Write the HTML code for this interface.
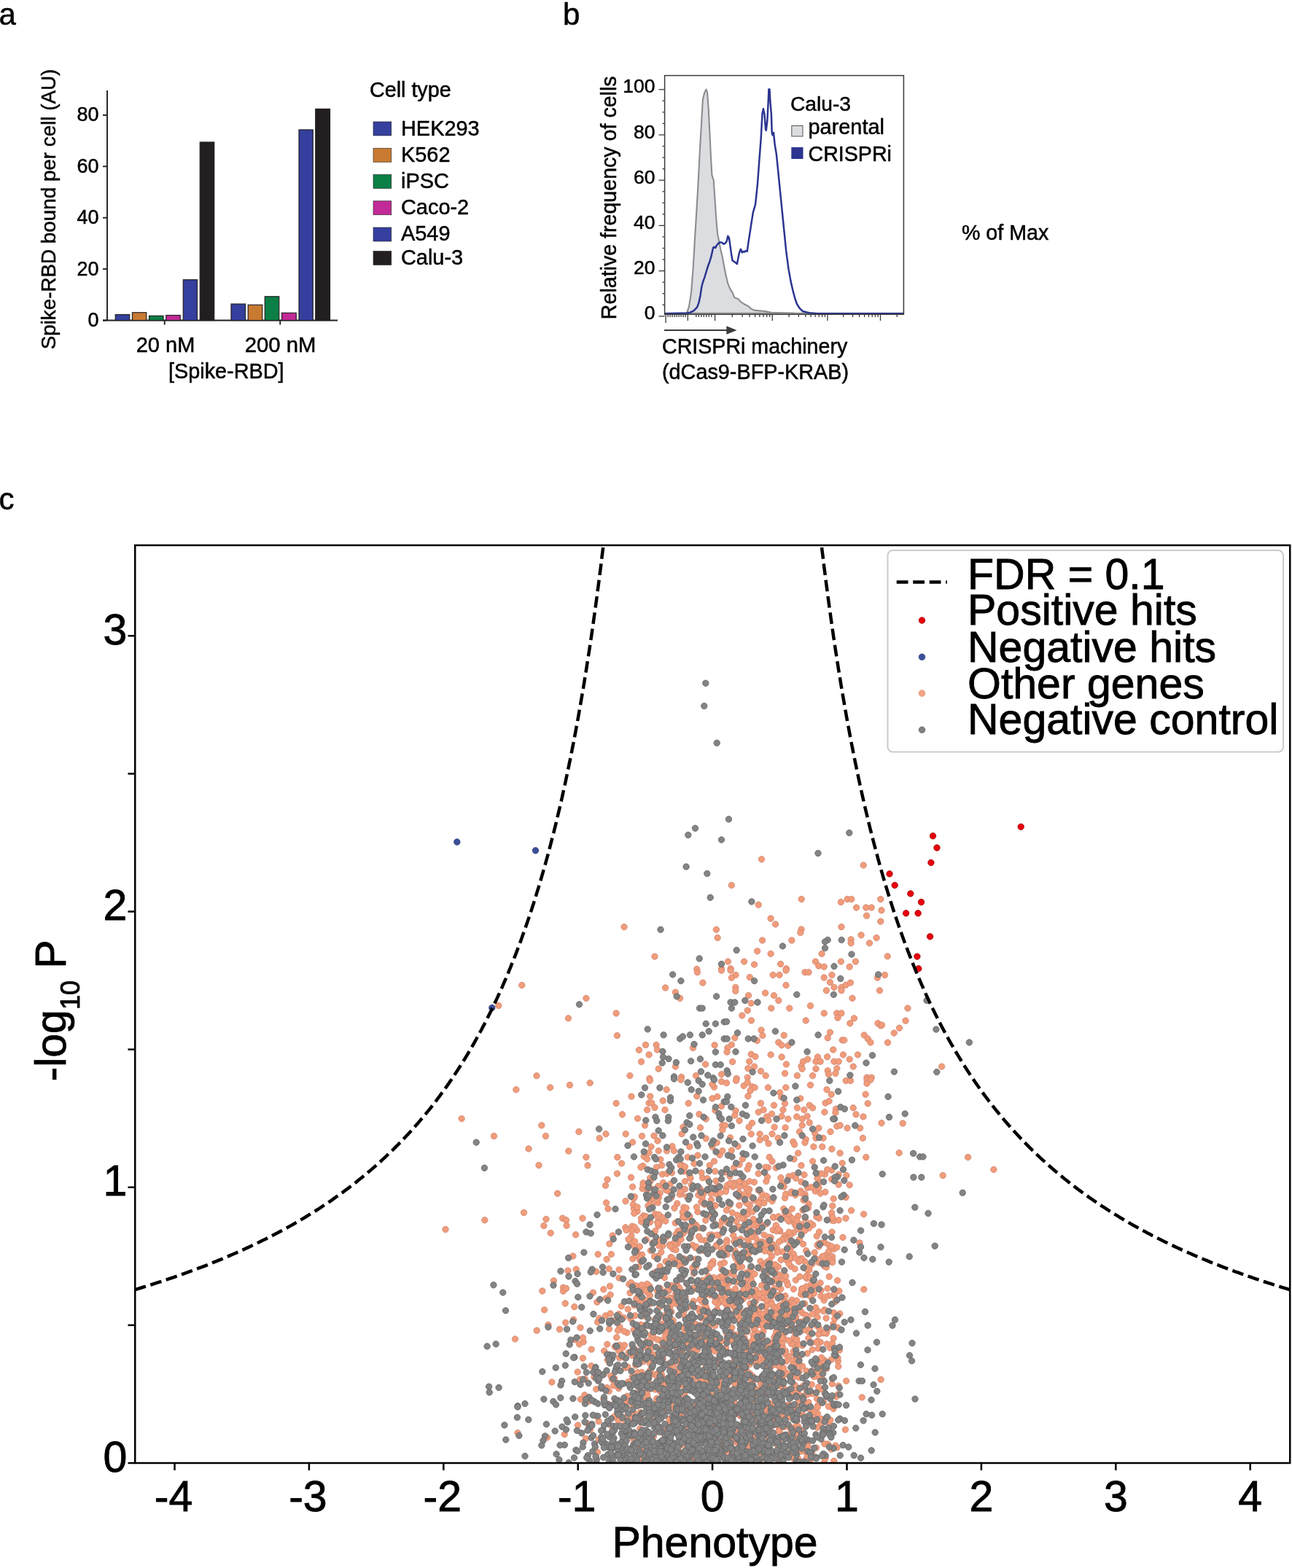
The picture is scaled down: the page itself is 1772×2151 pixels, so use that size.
<!DOCTYPE html>
<html><head><meta charset="utf-8"><style>
html,body{margin:0;padding:0;background:#fff;}
svg{display:block;}
text{font-family:"Liberation Sans",Arial,sans-serif;fill:#000;stroke:#000;stroke-width:0.5px;}
.big{stroke-width:0.9px;}
</style></head><body>
<svg width="1772" height="2151" viewBox="0 0 1772 2151">
<defs><clipPath id="plotclip"><rect x="185.25" y="748.0" width="1584.0" height="1259.0"/></clipPath></defs>
<text x="-1.50" y="34.30" font-size="42" text-anchor="start" >a</text>
<text x="772.00" y="33.60" font-size="42" text-anchor="start" >b</text>
<text x="-1.50" y="698.50" font-size="42" text-anchor="start" >c</text>
<g stroke="#231f20" stroke-width="1.9" fill="none">
<path d="M147,124 V440.3 M141,439.5 H463"/>
<path d="M141,439.50 H147"/>
<path d="M141,369.10 H147"/>
<path d="M141,298.70 H147"/>
<path d="M141,228.30 H147"/>
<path d="M141,157.90 H147"/>
<path d="M225.75,439.5 V445.5"/>
<path d="M384.25,439.5 V445.5"/>
</g>
<text x="135.50" y="447.90" font-size="27" text-anchor="end" >0</text>
<text x="135.50" y="377.50" font-size="27" text-anchor="end" >20</text>
<text x="135.50" y="307.10" font-size="27" text-anchor="end" >40</text>
<text x="135.50" y="236.70" font-size="27" text-anchor="end" >60</text>
<text x="135.50" y="166.30" font-size="27" text-anchor="end" >80</text>
<rect x="158.25" y="431.5" width="19.50" height="8.00" fill="#343f9e" stroke="#231f20" stroke-width="1.2"/>
<rect x="181.5" y="428.75" width="19.25" height="10.75" fill="#c97a31" stroke="#231f20" stroke-width="1.2"/>
<rect x="204.5" y="433.25" width="19.50" height="6.25" fill="#0b7f45" stroke="#231f20" stroke-width="1.2"/>
<rect x="227.75" y="432.5" width="19.50" height="7.00" fill="#c12a97" stroke="#231f20" stroke-width="1.2"/>
<rect x="251.25" y="383.75" width="19.25" height="55.75" fill="#343f9e" stroke="#231f20" stroke-width="1.2"/>
<rect x="274.25" y="195.0" width="19.50" height="244.50" fill="#231f20" stroke="#231f20" stroke-width="1.2"/>
<rect x="317.0" y="417.0" width="19.50" height="22.50" fill="#343f9e" stroke="#231f20" stroke-width="1.2"/>
<rect x="340.25" y="418.25" width="19.50" height="21.25" fill="#c97a31" stroke="#231f20" stroke-width="1.2"/>
<rect x="363.25" y="406.75" width="19.50" height="32.75" fill="#0b7f45" stroke="#231f20" stroke-width="1.2"/>
<rect x="386.5" y="429.25" width="19.75" height="10.25" fill="#c12a97" stroke="#231f20" stroke-width="1.2"/>
<rect x="410.0" y="178.0" width="19.25" height="261.50" fill="#343f9e" stroke="#231f20" stroke-width="1.2"/>
<rect x="432.75" y="149.5" width="19.75" height="290.00" fill="#231f20" stroke="#231f20" stroke-width="1.2"/>
<text x="227.00" y="482.50" font-size="29" text-anchor="middle" >20 nM</text>
<text x="384.50" y="482.50" font-size="29.3" text-anchor="middle" >200 nM</text>
<text x="310.30" y="518.50" font-size="28.8" text-anchor="middle" >[Spike-RBD]</text>
<text transform="translate(76,287) rotate(-90)" font-size="27.8" text-anchor="middle">Spike-RBD bound per cell (AU)</text>
<text x="507.00" y="133.00" font-size="28.7" text-anchor="start" >Cell type</text>
<rect x="512" y="167" width="24.75" height="19" fill="#343f9e" stroke="#231f20" stroke-width="0.6"/>
<text x="550.00" y="185.50" font-size="28.9" text-anchor="start" >HEK293</text>
<rect x="512" y="203.25" width="24.75" height="19" fill="#c97a31" stroke="#231f20" stroke-width="0.6"/>
<text x="550.00" y="221.50" font-size="28.9" text-anchor="start" >K562</text>
<rect x="512" y="239.5" width="24.75" height="19" fill="#0b7f45" stroke="#231f20" stroke-width="0.6"/>
<text x="550.00" y="257.70" font-size="28.9" text-anchor="start" >iPSC</text>
<rect x="512" y="275.75" width="24.75" height="19" fill="#c12a97" stroke="#231f20" stroke-width="0.6"/>
<text x="550.00" y="294.00" font-size="28.9" text-anchor="start" >Caco-2</text>
<rect x="512" y="312" width="24.75" height="19" fill="#343f9e" stroke="#231f20" stroke-width="0.6"/>
<text x="550.00" y="330.20" font-size="28.9" text-anchor="start" >A549</text>
<rect x="512" y="344.5" width="24.75" height="19" fill="#231f20" stroke="#231f20" stroke-width="0.6"/>
<text x="550.00" y="362.70" font-size="28.9" text-anchor="start" >Calu-3</text>
<polygon points="912.0,429.8 941.9,429.5 945.1,420.1 948.2,399.7 950.6,368.4 952.9,329.3 955.3,290.1 957.6,251.0 960.0,204.0 962.3,164.8 963.9,136.6 966.2,127.2 968.6,122.5 970.1,127.2 971.7,149.2 973.3,180.5 974.8,211.8 976.4,240.0 978.8,247.8 979.5,258.8 981.1,282.3 982.7,305.8 984.2,321.4 985.8,329.3 988.2,341.8 990.5,351.2 992.9,363.7 995.2,376.2 998.3,388.8 1001.5,396.6 1004.6,401.3 1007.0,407.6 1009.3,409.1 1012.4,409.9 1015.6,413.8 1020.3,417.0 1026.5,420.1 1029.7,423.2 1034.4,425.6 1042.2,426.4 1050.1,427.1 1057.9,428.7 1090.0,429.5 1239.0,429.8" fill="#dcdde1" stroke="#8c8d90" stroke-width="2.1" stroke-linejoin="round"/>
<polyline points="912.0,430.2 941.9,429.5 946.6,428.7 951.3,426.4 956.0,421.7 958.4,415.4 960.7,404.4 962.3,393.5 963.9,387.2 966.2,380.9 968.6,373.1 970.9,365.3 973.3,359.0 975.6,351.2 978.0,340.2 979.5,338.7 981.1,340.2 982.7,337.1 985.0,334.0 987.4,332.4 989.7,332.4 992.1,334.7 994.4,334.0 996.8,330.8 998.3,323.8 999.9,326.1 1001.5,337.1 1003.0,348.1 1004.6,357.5 1007.0,359.0 1009.3,360.6 1010.9,362.2 1012.4,354.3 1014.0,346.5 1015.9,341.8 1017.9,346.5 1019.5,344.9 1021.1,345.7 1022.6,344.1 1024.7,344.9 1026.5,332.4 1028.9,316.7 1031.3,301.1 1032.8,291.7 1036.0,280.7 1037.5,266.6 1039.1,251.0 1041.4,219.6 1043.8,188.3 1045.4,157.0 1046.9,149.2 1048.5,157.0 1050.1,177.3 1050.8,178.9 1052.4,164.8 1054.0,133.5 1054.4,122.5 1055.5,122.5 1056.3,138.2 1057.9,157.0 1058.7,182.0 1059.5,185.2 1061.0,182.0 1062.6,197.7 1064.9,211.8 1067.3,235.3 1069.6,258.8 1072.0,282.3 1075.1,313.6 1078.3,344.9 1081.4,368.4 1084.5,385.6 1087.7,399.7 1090.5,410.0 1093.0,417.0 1096.7,422.8 1101.0,427.0 1109.9,429.3 1120.8,430.2 1239.0,430.2" fill="none" stroke="#2b3590" stroke-width="2.5" stroke-linejoin="round"/>
<rect x="911.6" y="103.6" width="327.8" height="327.6" fill="none" stroke="#3a3a3a" stroke-width="1.5"/>
<g stroke="#3a3a3a" stroke-width="1.3">
<path d="M903.5,433.80 H911.6"/>
<path d="M908.5,418.25 H911.6"/>
<path d="M908.5,402.70 H911.6"/>
<path d="M908.5,387.15 H911.6"/>
<path d="M903.5,371.60 H911.6"/>
<path d="M908.5,356.05 H911.6"/>
<path d="M908.5,340.50 H911.6"/>
<path d="M908.5,324.95 H911.6"/>
<path d="M903.5,309.40 H911.6"/>
<path d="M908.5,293.85 H911.6"/>
<path d="M908.5,278.30 H911.6"/>
<path d="M908.5,262.75 H911.6"/>
<path d="M903.5,247.20 H911.6"/>
<path d="M908.5,231.65 H911.6"/>
<path d="M908.5,216.10 H911.6"/>
<path d="M908.5,200.55 H911.6"/>
<path d="M903.5,185.00 H911.6"/>
<path d="M908.5,169.45 H911.6"/>
<path d="M908.5,153.90 H911.6"/>
<path d="M908.5,138.35 H911.6"/>
<path d="M903.5,122.80 H911.6"/>
<path d="M913.10,431 V443"/>
<path d="M916.10,431 V435"/>
<path d="M919.10,431 V435"/>
<path d="M922.10,431 V435"/>
<path d="M925.10,431 V435"/>
<path d="M928.10,431 V435"/>
<path d="M931.10,431 V435"/>
<path d="M934.10,431 V435"/>
<path d="M937.10,431 V435"/>
<path d="M940.10,431 V435"/>
<path d="M943.30,431 V440"/>
<path d="M954.80,431 V435"/>
<path d="M958.30,431 V435"/>
<path d="M961.80,431 V435"/>
<path d="M965.30,431 V435"/>
<path d="M968.80,431 V435"/>
<path d="M972.30,431 V435"/>
<path d="M975.80,431 V435"/>
<path d="M980.60,431 V440"/>
<path d="M1059.30,431 V440"/>
<path d="M1134.90,431 V440"/>
<path d="M1207.50,431 V440"/>
<path d="M1004.29,431 V435"/>
<path d="M1018.15,431 V435"/>
<path d="M1027.98,431 V435"/>
<path d="M1035.61,431 V435"/>
<path d="M1041.84,431 V435"/>
<path d="M1047.11,431 V435"/>
<path d="M1051.67,431 V435"/>
<path d="M1055.70,431 V435"/>
<path d="M1082.06,431 V435"/>
<path d="M1095.37,431 V435"/>
<path d="M1104.82,431 V435"/>
<path d="M1112.14,431 V435"/>
<path d="M1118.13,431 V435"/>
<path d="M1123.19,431 V435"/>
<path d="M1127.57,431 V435"/>
<path d="M1131.44,431 V435"/>
<path d="M1156.75,431 V435"/>
<path d="M1169.54,431 V435"/>
<path d="M1178.61,431 V435"/>
<path d="M1185.65,431 V435"/>
<path d="M1191.39,431 V435"/>
<path d="M1196.25,431 V435"/>
<path d="M1200.46,431 V435"/>
<path d="M1204.18,431 V435"/>
<path d="M1230.23,431 V435"/>
</g>
<text x="898.50" y="438.30" font-size="26.5" text-anchor="end" >0</text>
<text x="898.50" y="376.10" font-size="26.5" text-anchor="end" >20</text>
<text x="898.50" y="313.90" font-size="26.5" text-anchor="end" >40</text>
<text x="898.50" y="251.70" font-size="26.5" text-anchor="end" >60</text>
<text x="898.50" y="189.50" font-size="26.5" text-anchor="end" >80</text>
<text x="898.50" y="127.30" font-size="26.5" text-anchor="end" >100</text>
<text transform="translate(845,271.3) rotate(-90)" font-size="28.6" text-anchor="middle">Relative frequency of cells</text>
<path d="M911,453 H998" stroke="#3a3a3a" stroke-width="2.2"/>
<polygon points="996.4,447.2 1010.5,453 996.4,458.8" fill="#3a3a3a"/>
<text x="908.00" y="484.80" font-size="28.6" text-anchor="start" >CRISPRi machinery</text>
<text x="908.00" y="519.60" font-size="28.8" text-anchor="start" >(dCas9-BFP-KRAB)</text>
<text x="1084.00" y="152.00" font-size="28.2" text-anchor="start" >Calu-3</text>
<rect x="1085.8" y="172.5" width="15.2" height="14.5" fill="#dcdde1" stroke="#555" stroke-width="1"/>
<rect x="1085.3" y="202" width="16.2" height="16" fill="#2b3590"/>
<text x="1108.50" y="183.80" font-size="28.9" text-anchor="start" >parental</text>
<text x="1108.50" y="221.30" font-size="28.6" text-anchor="start" >CRISPRi</text>
<text x="1319.00" y="329.30" font-size="28.6" text-anchor="start" >% of Max</text>
<g clip-path="url(#plotclip)">
<g fill="#f29c7a" stroke="#d08672" stroke-width="0.85">
<circle cx="795.9" cy="1821.3" r="4.2"/><circle cx="937.9" cy="1656.3" r="4.2"/><circle cx="934.5" cy="1941.7" r="4.2"/><circle cx="890.6" cy="1937.7" r="4.2"/><circle cx="993.8" cy="1870.9" r="4.2"/><circle cx="981.0" cy="1653.7" r="4.2"/><circle cx="892.7" cy="1850.8" r="4.2"/><circle cx="1104.8" cy="1905.0" r="4.2"/><circle cx="1060.2" cy="1687.3" r="4.2"/><circle cx="990.6" cy="1960.1" r="4.2"/><circle cx="1036.8" cy="1854.1" r="4.2"/><circle cx="953.2" cy="1880.4" r="4.2"/><circle cx="1084.7" cy="1737.3" r="4.2"/><circle cx="1026.8" cy="1638.5" r="4.2"/><circle cx="796.3" cy="1919.6" r="4.2"/><circle cx="879.2" cy="1786.6" r="4.2"/><circle cx="1108.2" cy="1991.1" r="4.2"/><circle cx="1035.0" cy="1824.3" r="4.2"/><circle cx="1068.8" cy="1959.7" r="4.2"/><circle cx="922.3" cy="1780.4" r="4.2"/><circle cx="1013.8" cy="1653.5" r="4.2"/><circle cx="902.5" cy="1649.8" r="4.2"/><circle cx="1006.1" cy="1686.0" r="4.2"/><circle cx="905.3" cy="1767.3" r="4.2"/><circle cx="1094.9" cy="2004.4" r="4.2"/><circle cx="956.9" cy="1662.4" r="4.2"/><circle cx="1133.5" cy="1829.2" r="4.2"/><circle cx="872.7" cy="1768.2" r="4.2"/><circle cx="1065.8" cy="1830.8" r="4.2"/><circle cx="1083.3" cy="1908.9" r="4.2"/><circle cx="969.7" cy="1764.0" r="4.2"/><circle cx="1135.0" cy="1767.5" r="4.2"/><circle cx="1091.7" cy="1810.8" r="4.2"/><circle cx="1048.0" cy="1694.1" r="4.2"/><circle cx="1022.4" cy="1762.1" r="4.2"/><circle cx="1086.3" cy="1709.6" r="4.2"/><circle cx="872.0" cy="1788.0" r="4.2"/><circle cx="1118.0" cy="1763.4" r="4.2"/><circle cx="994.5" cy="1970.9" r="4.2"/><circle cx="1120.9" cy="1819.1" r="4.2"/><circle cx="1076.1" cy="1695.0" r="4.2"/><circle cx="1048.1" cy="1839.8" r="4.2"/><circle cx="969.9" cy="1839.4" r="4.2"/><circle cx="986.3" cy="1916.5" r="4.2"/><circle cx="941.5" cy="1860.9" r="4.2"/><circle cx="967.6" cy="1891.2" r="4.2"/><circle cx="1091.5" cy="1681.7" r="4.2"/><circle cx="941.1" cy="1657.3" r="4.2"/><circle cx="1088.7" cy="1690.9" r="4.2"/><circle cx="968.9" cy="1757.8" r="4.2"/><circle cx="894.4" cy="1902.3" r="4.2"/><circle cx="983.4" cy="1796.1" r="4.2"/><circle cx="899.3" cy="1865.2" r="4.2"/><circle cx="1141.3" cy="1669.5" r="4.2"/><circle cx="1083.6" cy="1727.5" r="4.2"/><circle cx="1034.1" cy="1790.3" r="4.2"/><circle cx="805.7" cy="1952.8" r="4.2"/><circle cx="1100.1" cy="1801.1" r="4.2"/><circle cx="983.1" cy="1979.4" r="4.2"/><circle cx="883.6" cy="1818.5" r="4.2"/><circle cx="905.2" cy="1636.8" r="4.2"/><circle cx="961.1" cy="1944.6" r="4.2"/><circle cx="1014.4" cy="1782.6" r="4.2"/><circle cx="1092.0" cy="1958.2" r="4.2"/><circle cx="880.6" cy="1721.3" r="4.2"/><circle cx="947.7" cy="1689.4" r="4.2"/><circle cx="891.0" cy="1764.4" r="4.2"/><circle cx="918.3" cy="1808.9" r="4.2"/><circle cx="850.0" cy="1820.3" r="4.2"/><circle cx="974.0" cy="1913.0" r="4.2"/><circle cx="1044.6" cy="1961.4" r="4.2"/><circle cx="897.3" cy="2001.2" r="4.2"/><circle cx="1047.7" cy="1872.5" r="4.2"/><circle cx="1089.7" cy="1966.3" r="4.2"/><circle cx="1051.4" cy="1936.2" r="4.2"/><circle cx="972.0" cy="1820.1" r="4.2"/><circle cx="1078.2" cy="1941.6" r="4.2"/><circle cx="1011.3" cy="1866.1" r="4.2"/><circle cx="1056.8" cy="1819.6" r="4.2"/><circle cx="869.3" cy="1658.1" r="4.2"/><circle cx="1142.8" cy="1816.2" r="4.2"/><circle cx="955.1" cy="1887.8" r="4.2"/><circle cx="1007.2" cy="1872.3" r="4.2"/><circle cx="1054.9" cy="1744.8" r="4.2"/><circle cx="1029.4" cy="1739.7" r="4.2"/><circle cx="949.6" cy="1805.8" r="4.2"/><circle cx="1083.9" cy="1995.0" r="4.2"/><circle cx="853.6" cy="1849.2" r="4.2"/><circle cx="972.1" cy="1989.2" r="4.2"/><circle cx="957.8" cy="1639.4" r="4.2"/><circle cx="959.9" cy="1799.9" r="4.2"/><circle cx="893.5" cy="1946.8" r="4.2"/><circle cx="1057.8" cy="1946.3" r="4.2"/><circle cx="883.6" cy="1770.3" r="4.2"/><circle cx="1151.5" cy="1852.1" r="4.2"/><circle cx="935.8" cy="1733.7" r="4.2"/><circle cx="1127.7" cy="1724.0" r="4.2"/><circle cx="967.1" cy="1701.6" r="4.2"/><circle cx="981.6" cy="1901.3" r="4.2"/><circle cx="1050.8" cy="1800.0" r="4.2"/><circle cx="1017.6" cy="1737.9" r="4.2"/><circle cx="887.7" cy="1840.1" r="4.2"/><circle cx="944.1" cy="1682.6" r="4.2"/><circle cx="1057.4" cy="1785.6" r="4.2"/><circle cx="972.1" cy="1772.1" r="4.2"/><circle cx="1012.0" cy="1955.3" r="4.2"/><circle cx="876.4" cy="1723.7" r="4.2"/><circle cx="1104.0" cy="1638.2" r="4.2"/><circle cx="1042.2" cy="1967.7" r="4.2"/><circle cx="996.0" cy="1630.1" r="4.2"/><circle cx="1141.5" cy="1723.7" r="4.2"/><circle cx="1063.1" cy="1802.4" r="4.2"/><circle cx="1121.7" cy="1873.4" r="4.2"/><circle cx="1014.5" cy="1893.4" r="4.2"/><circle cx="948.1" cy="1991.5" r="4.2"/><circle cx="1108.1" cy="1809.2" r="4.2"/><circle cx="1028.9" cy="1788.3" r="4.2"/><circle cx="1026.3" cy="1978.8" r="4.2"/><circle cx="933.0" cy="1887.3" r="4.2"/><circle cx="1075.3" cy="1908.7" r="4.2"/><circle cx="851.6" cy="1995.6" r="4.2"/><circle cx="1084.0" cy="1717.0" r="4.2"/><circle cx="961.4" cy="1700.6" r="4.2"/><circle cx="854.5" cy="1997.2" r="4.2"/><circle cx="917.1" cy="1771.0" r="4.2"/><circle cx="914.9" cy="1976.7" r="4.2"/><circle cx="911.7" cy="1968.2" r="4.2"/><circle cx="929.3" cy="1936.1" r="4.2"/><circle cx="1056.5" cy="1968.8" r="4.2"/><circle cx="873.1" cy="1900.2" r="4.2"/><circle cx="920.1" cy="1724.6" r="4.2"/><circle cx="960.5" cy="1979.9" r="4.2"/><circle cx="1077.4" cy="1908.4" r="4.2"/><circle cx="1066.1" cy="1858.9" r="4.2"/><circle cx="1058.6" cy="1723.2" r="4.2"/><circle cx="874.1" cy="1661.7" r="4.2"/><circle cx="962.4" cy="1897.6" r="4.2"/><circle cx="1028.8" cy="1912.0" r="4.2"/><circle cx="885.0" cy="1843.7" r="4.2"/><circle cx="1053.0" cy="1705.1" r="4.2"/><circle cx="992.6" cy="1753.0" r="4.2"/><circle cx="1149.1" cy="1821.3" r="4.2"/><circle cx="1091.7" cy="1974.7" r="4.2"/><circle cx="885.0" cy="1674.9" r="4.2"/><circle cx="914.7" cy="1956.5" r="4.2"/><circle cx="897.7" cy="1885.7" r="4.2"/><circle cx="981.2" cy="1653.9" r="4.2"/><circle cx="923.4" cy="1837.4" r="4.2"/><circle cx="1036.9" cy="1784.5" r="4.2"/><circle cx="890.3" cy="1989.4" r="4.2"/><circle cx="988.1" cy="1764.7" r="4.2"/><circle cx="1100.7" cy="2005.7" r="4.2"/><circle cx="848.5" cy="1904.5" r="4.2"/><circle cx="948.2" cy="1691.3" r="4.2"/><circle cx="982.5" cy="1871.5" r="4.2"/><circle cx="964.7" cy="1685.0" r="4.2"/><circle cx="971.0" cy="1978.9" r="4.2"/><circle cx="834.6" cy="1926.3" r="4.2"/><circle cx="925.1" cy="1825.2" r="4.2"/><circle cx="1048.0" cy="1968.3" r="4.2"/><circle cx="986.6" cy="1915.6" r="4.2"/><circle cx="981.9" cy="1866.4" r="4.2"/><circle cx="932.8" cy="1849.6" r="4.2"/><circle cx="1023.0" cy="1798.4" r="4.2"/><circle cx="947.2" cy="1697.7" r="4.2"/><circle cx="936.8" cy="1664.6" r="4.2"/><circle cx="916.8" cy="1988.5" r="4.2"/><circle cx="877.9" cy="1937.5" r="4.2"/><circle cx="963.8" cy="1976.8" r="4.2"/><circle cx="873.4" cy="1820.8" r="4.2"/><circle cx="910.0" cy="1959.1" r="4.2"/><circle cx="993.3" cy="1962.7" r="4.2"/><circle cx="1149.3" cy="1867.4" r="4.2"/><circle cx="1015.6" cy="2001.0" r="4.2"/><circle cx="1024.9" cy="1747.9" r="4.2"/><circle cx="1006.9" cy="1793.0" r="4.2"/><circle cx="1112.5" cy="1679.8" r="4.2"/><circle cx="1020.9" cy="1638.4" r="4.2"/><circle cx="908.2" cy="1670.1" r="4.2"/><circle cx="1015.2" cy="1958.5" r="4.2"/><circle cx="925.9" cy="1729.6" r="4.2"/><circle cx="1017.8" cy="1842.0" r="4.2"/><circle cx="1003.9" cy="1821.1" r="4.2"/><circle cx="1081.5" cy="1695.8" r="4.2"/><circle cx="1070.0" cy="1899.7" r="4.2"/><circle cx="1093.2" cy="1910.9" r="4.2"/><circle cx="1054.4" cy="1800.6" r="4.2"/><circle cx="1057.4" cy="1892.1" r="4.2"/><circle cx="1043.0" cy="1730.3" r="4.2"/><circle cx="938.8" cy="1927.2" r="4.2"/><circle cx="856.0" cy="1961.8" r="4.2"/><circle cx="1131.1" cy="1911.3" r="4.2"/><circle cx="1106.7" cy="1753.9" r="4.2"/><circle cx="1025.5" cy="1999.1" r="4.2"/><circle cx="939.3" cy="1903.2" r="4.2"/><circle cx="803.4" cy="1973.4" r="4.2"/><circle cx="1125.1" cy="1760.0" r="4.2"/><circle cx="1035.8" cy="1869.0" r="4.2"/><circle cx="1119.6" cy="1986.0" r="4.2"/><circle cx="1013.7" cy="1941.0" r="4.2"/><circle cx="882.6" cy="1667.7" r="4.2"/><circle cx="1060.3" cy="1707.3" r="4.2"/><circle cx="934.2" cy="1637.9" r="4.2"/><circle cx="880.8" cy="1899.8" r="4.2"/><circle cx="895.3" cy="1993.4" r="4.2"/><circle cx="1095.8" cy="1863.1" r="4.2"/><circle cx="905.1" cy="1895.7" r="4.2"/><circle cx="855.9" cy="1955.1" r="4.2"/><circle cx="1083.9" cy="1694.2" r="4.2"/><circle cx="1075.2" cy="1699.6" r="4.2"/><circle cx="905.2" cy="1943.6" r="4.2"/><circle cx="1130.8" cy="1737.0" r="4.2"/><circle cx="1038.4" cy="1817.9" r="4.2"/><circle cx="1037.5" cy="1926.7" r="4.2"/><circle cx="908.4" cy="1781.3" r="4.2"/><circle cx="917.4" cy="1963.3" r="4.2"/><circle cx="948.2" cy="1830.4" r="4.2"/><circle cx="1058.6" cy="1873.7" r="4.2"/><circle cx="1024.3" cy="1909.7" r="4.2"/><circle cx="939.9" cy="1921.6" r="4.2"/><circle cx="863.9" cy="1702.2" r="4.2"/><circle cx="1039.8" cy="1948.1" r="4.2"/><circle cx="897.4" cy="1826.9" r="4.2"/><circle cx="920.8" cy="1642.8" r="4.2"/><circle cx="1073.0" cy="1891.4" r="4.2"/><circle cx="1013.0" cy="1804.7" r="4.2"/><circle cx="1057.2" cy="1788.8" r="4.2"/><circle cx="1047.0" cy="1961.8" r="4.2"/><circle cx="1038.6" cy="1951.4" r="4.2"/><circle cx="1016.5" cy="1801.1" r="4.2"/><circle cx="1011.5" cy="1666.9" r="4.2"/><circle cx="1069.7" cy="1898.9" r="4.2"/><circle cx="1009.0" cy="1784.3" r="4.2"/><circle cx="1068.2" cy="1776.5" r="4.2"/><circle cx="978.5" cy="1900.4" r="4.2"/><circle cx="1015.6" cy="1942.5" r="4.2"/><circle cx="929.1" cy="1987.4" r="4.2"/><circle cx="933.0" cy="1893.2" r="4.2"/><circle cx="1129.3" cy="1828.7" r="4.2"/><circle cx="1077.0" cy="1777.8" r="4.2"/><circle cx="1013.8" cy="1806.9" r="4.2"/><circle cx="1015.5" cy="1938.7" r="4.2"/><circle cx="950.9" cy="1741.0" r="4.2"/><circle cx="1095.6" cy="1730.8" r="4.2"/><circle cx="869.8" cy="1790.6" r="4.2"/><circle cx="936.0" cy="1870.3" r="4.2"/><circle cx="1013.3" cy="1635.6" r="4.2"/><circle cx="1133.8" cy="1877.3" r="4.2"/><circle cx="862.3" cy="1922.7" r="4.2"/><circle cx="1069.3" cy="1882.0" r="4.2"/><circle cx="1071.9" cy="1946.2" r="4.2"/><circle cx="1035.9" cy="1830.1" r="4.2"/><circle cx="939.8" cy="1962.8" r="4.2"/><circle cx="874.0" cy="1718.3" r="4.2"/><circle cx="977.9" cy="1955.3" r="4.2"/><circle cx="1091.8" cy="1806.4" r="4.2"/><circle cx="1025.5" cy="1946.9" r="4.2"/><circle cx="932.3" cy="1992.2" r="4.2"/><circle cx="1014.8" cy="1869.8" r="4.2"/><circle cx="1004.5" cy="1887.3" r="4.2"/><circle cx="898.9" cy="2000.1" r="4.2"/><circle cx="957.2" cy="1968.4" r="4.2"/><circle cx="1045.5" cy="1865.7" r="4.2"/><circle cx="1099.7" cy="1768.0" r="4.2"/><circle cx="972.7" cy="1920.5" r="4.2"/><circle cx="938.5" cy="1789.2" r="4.2"/><circle cx="926.6" cy="1819.9" r="4.2"/><circle cx="965.4" cy="1997.6" r="4.2"/><circle cx="1073.4" cy="1754.7" r="4.2"/><circle cx="1108.8" cy="1835.6" r="4.2"/><circle cx="887.6" cy="1632.3" r="4.2"/><circle cx="1072.3" cy="1973.0" r="4.2"/><circle cx="1007.1" cy="1866.3" r="4.2"/><circle cx="999.4" cy="1886.7" r="4.2"/><circle cx="1026.1" cy="1802.6" r="4.2"/><circle cx="1071.3" cy="1841.9" r="4.2"/><circle cx="888.2" cy="1789.0" r="4.2"/><circle cx="794.6" cy="1844.0" r="4.2"/><circle cx="1121.2" cy="1798.3" r="4.2"/><circle cx="1144.7" cy="1809.2" r="4.2"/><circle cx="1066.6" cy="1899.0" r="4.2"/><circle cx="1020.0" cy="1938.1" r="4.2"/><circle cx="891.6" cy="1905.0" r="4.2"/><circle cx="1099.4" cy="1813.3" r="4.2"/><circle cx="912.9" cy="1846.8" r="4.2"/><circle cx="911.3" cy="1873.1" r="4.2"/><circle cx="1039.8" cy="1941.9" r="4.2"/><circle cx="1001.2" cy="1746.3" r="4.2"/><circle cx="1001.5" cy="1967.8" r="4.2"/><circle cx="881.1" cy="1630.6" r="4.2"/><circle cx="933.7" cy="1851.2" r="4.2"/><circle cx="1080.8" cy="1956.9" r="4.2"/><circle cx="1032.8" cy="1974.5" r="4.2"/><circle cx="949.9" cy="1707.9" r="4.2"/><circle cx="1057.9" cy="1928.5" r="4.2"/><circle cx="1108.6" cy="1826.7" r="4.2"/><circle cx="996.8" cy="1701.3" r="4.2"/><circle cx="987.4" cy="1781.7" r="4.2"/><circle cx="1150.9" cy="1771.0" r="4.2"/><circle cx="1013.2" cy="1926.8" r="4.2"/><circle cx="999.7" cy="1760.0" r="4.2"/><circle cx="1083.5" cy="1993.2" r="4.2"/><circle cx="987.4" cy="1871.5" r="4.2"/><circle cx="1027.2" cy="1778.2" r="4.2"/><circle cx="1115.9" cy="1945.6" r="4.2"/><circle cx="1071.2" cy="1897.5" r="4.2"/><circle cx="1029.9" cy="1742.6" r="4.2"/><circle cx="1060.5" cy="1669.7" r="4.2"/><circle cx="828.1" cy="1885.5" r="4.2"/><circle cx="1045.1" cy="1703.6" r="4.2"/><circle cx="1101.6" cy="1965.0" r="4.2"/><circle cx="1092.4" cy="1866.9" r="4.2"/><circle cx="902.4" cy="1940.3" r="4.2"/><circle cx="1011.5" cy="1683.8" r="4.2"/><circle cx="929.7" cy="1688.7" r="4.2"/><circle cx="1091.4" cy="1756.1" r="4.2"/><circle cx="817.2" cy="1998.9" r="4.2"/><circle cx="1112.3" cy="1881.9" r="4.2"/><circle cx="954.5" cy="1737.9" r="4.2"/><circle cx="885.0" cy="1998.9" r="4.2"/><circle cx="1079.1" cy="1758.5" r="4.2"/><circle cx="856.5" cy="1845.4" r="4.2"/><circle cx="1041.5" cy="1936.0" r="4.2"/><circle cx="1051.0" cy="1783.9" r="4.2"/><circle cx="1092.2" cy="1955.9" r="4.2"/><circle cx="1103.6" cy="1730.4" r="4.2"/><circle cx="1088.4" cy="1768.4" r="4.2"/><circle cx="914.3" cy="1854.3" r="4.2"/><circle cx="970.5" cy="1798.1" r="4.2"/><circle cx="918.2" cy="1913.2" r="4.2"/><circle cx="1103.9" cy="1989.7" r="4.2"/><circle cx="968.0" cy="1830.0" r="4.2"/><circle cx="868.7" cy="1938.1" r="4.2"/><circle cx="971.7" cy="1894.9" r="4.2"/><circle cx="1102.7" cy="1900.3" r="4.2"/><circle cx="879.7" cy="1676.0" r="4.2"/><circle cx="1067.7" cy="1757.6" r="4.2"/><circle cx="1136.1" cy="1982.2" r="4.2"/><circle cx="933.6" cy="1868.5" r="4.2"/><circle cx="974.6" cy="1656.1" r="4.2"/><circle cx="964.8" cy="1637.9" r="4.2"/><circle cx="1013.4" cy="1935.1" r="4.2"/><circle cx="874.5" cy="1885.8" r="4.2"/><circle cx="979.0" cy="1978.5" r="4.2"/><circle cx="1133.4" cy="1738.4" r="4.2"/><circle cx="1135.4" cy="1823.7" r="4.2"/><circle cx="950.3" cy="1831.3" r="4.2"/><circle cx="885.0" cy="1783.3" r="4.2"/><circle cx="1091.4" cy="1860.0" r="4.2"/><circle cx="948.2" cy="1836.6" r="4.2"/><circle cx="951.3" cy="1747.1" r="4.2"/><circle cx="995.4" cy="1634.5" r="4.2"/><circle cx="885.7" cy="1921.1" r="4.2"/><circle cx="940.3" cy="1907.3" r="4.2"/><circle cx="907.2" cy="1884.6" r="4.2"/><circle cx="1095.3" cy="1939.6" r="4.2"/><circle cx="1053.3" cy="1910.2" r="4.2"/><circle cx="953.6" cy="1925.9" r="4.2"/><circle cx="962.2" cy="1993.0" r="4.2"/><circle cx="932.0" cy="1925.4" r="4.2"/><circle cx="1003.6" cy="1773.1" r="4.2"/><circle cx="947.1" cy="1902.6" r="4.2"/><circle cx="921.7" cy="1839.4" r="4.2"/><circle cx="962.8" cy="1797.4" r="4.2"/><circle cx="1118.2" cy="1634.0" r="4.2"/><circle cx="969.6" cy="1825.0" r="4.2"/><circle cx="921.2" cy="1764.9" r="4.2"/><circle cx="972.5" cy="1667.3" r="4.2"/><circle cx="925.5" cy="1841.6" r="4.2"/><circle cx="1106.6" cy="1993.6" r="4.2"/><circle cx="933.1" cy="1689.0" r="4.2"/><circle cx="967.4" cy="1820.3" r="4.2"/><circle cx="889.9" cy="1890.4" r="4.2"/><circle cx="1026.5" cy="1704.1" r="4.2"/><circle cx="974.9" cy="2005.9" r="4.2"/><circle cx="929.4" cy="1675.8" r="4.2"/><circle cx="1061.1" cy="1670.2" r="4.2"/><circle cx="1005.7" cy="1934.1" r="4.2"/><circle cx="1044.4" cy="1763.4" r="4.2"/><circle cx="994.1" cy="1761.5" r="4.2"/><circle cx="994.2" cy="1991.8" r="4.2"/><circle cx="1008.4" cy="1724.0" r="4.2"/><circle cx="1125.9" cy="1952.2" r="4.2"/><circle cx="1113.8" cy="1937.6" r="4.2"/><circle cx="1001.8" cy="1991.9" r="4.2"/><circle cx="1133.0" cy="1721.6" r="4.2"/><circle cx="1045.6" cy="1713.5" r="4.2"/><circle cx="866.0" cy="1695.4" r="4.2"/><circle cx="919.8" cy="1782.0" r="4.2"/><circle cx="866.6" cy="1702.1" r="4.2"/><circle cx="1089.6" cy="1678.2" r="4.2"/><circle cx="1090.1" cy="1933.5" r="4.2"/><circle cx="907.4" cy="1902.4" r="4.2"/><circle cx="964.8" cy="1715.7" r="4.2"/><circle cx="1114.1" cy="1851.5" r="4.2"/><circle cx="867.1" cy="1859.3" r="4.2"/><circle cx="919.5" cy="1877.9" r="4.2"/><circle cx="891.5" cy="1777.0" r="4.2"/><circle cx="910.6" cy="1818.6" r="4.2"/><circle cx="1044.9" cy="1736.5" r="4.2"/><circle cx="1099.6" cy="1679.8" r="4.2"/><circle cx="907.1" cy="1867.1" r="4.2"/><circle cx="1043.4" cy="1645.3" r="4.2"/><circle cx="888.6" cy="1773.5" r="4.2"/><circle cx="891.5" cy="1870.6" r="4.2"/><circle cx="1091.3" cy="1845.0" r="4.2"/><circle cx="1067.5" cy="1737.9" r="4.2"/><circle cx="1096.9" cy="1859.0" r="4.2"/><circle cx="1056.6" cy="1942.4" r="4.2"/><circle cx="1087.7" cy="1866.8" r="4.2"/><circle cx="967.5" cy="1979.9" r="4.2"/><circle cx="1078.6" cy="1728.5" r="4.2"/><circle cx="868.4" cy="1652.4" r="4.2"/><circle cx="929.6" cy="1705.9" r="4.2"/><circle cx="942.2" cy="1982.8" r="4.2"/><circle cx="887.2" cy="1963.5" r="4.2"/><circle cx="981.2" cy="1916.7" r="4.2"/><circle cx="1025.9" cy="1855.7" r="4.2"/><circle cx="1063.6" cy="1943.4" r="4.2"/><circle cx="883.4" cy="1765.9" r="4.2"/><circle cx="951.2" cy="1766.8" r="4.2"/><circle cx="1149.0" cy="1912.9" r="4.2"/><circle cx="1045.1" cy="1999.5" r="4.2"/><circle cx="845.7" cy="1834.7" r="4.2"/><circle cx="1127.5" cy="1876.0" r="4.2"/><circle cx="867.0" cy="1682.3" r="4.2"/><circle cx="1066.7" cy="1946.5" r="4.2"/><circle cx="1087.9" cy="1909.9" r="4.2"/><circle cx="913.3" cy="1837.8" r="4.2"/><circle cx="1088.3" cy="1720.2" r="4.2"/><circle cx="988.3" cy="1866.8" r="4.2"/><circle cx="960.9" cy="1818.3" r="4.2"/><circle cx="887.2" cy="1849.1" r="4.2"/><circle cx="1034.1" cy="1691.7" r="4.2"/><circle cx="1140.6" cy="1663.8" r="4.2"/><circle cx="1071.5" cy="1790.4" r="4.2"/><circle cx="1024.1" cy="1824.0" r="4.2"/><circle cx="1086.3" cy="1970.8" r="4.2"/><circle cx="905.6" cy="1703.7" r="4.2"/><circle cx="955.7" cy="1874.1" r="4.2"/><circle cx="903.8" cy="1963.7" r="4.2"/><circle cx="993.5" cy="1787.0" r="4.2"/><circle cx="987.5" cy="1779.4" r="4.2"/><circle cx="958.9" cy="1838.9" r="4.2"/><circle cx="996.4" cy="1660.2" r="4.2"/><circle cx="982.1" cy="1899.4" r="4.2"/><circle cx="1008.8" cy="1958.8" r="4.2"/><circle cx="1120.8" cy="1958.3" r="4.2"/><circle cx="1031.2" cy="1941.3" r="4.2"/><circle cx="1090.8" cy="1849.2" r="4.2"/><circle cx="1076.7" cy="1699.8" r="4.2"/><circle cx="883.6" cy="1889.1" r="4.2"/><circle cx="1034.6" cy="1934.7" r="4.2"/><circle cx="1076.6" cy="1643.4" r="4.2"/><circle cx="1083.3" cy="1886.2" r="4.2"/><circle cx="922.7" cy="1959.1" r="4.2"/><circle cx="910.5" cy="1806.3" r="4.2"/><circle cx="920.6" cy="1763.3" r="4.2"/><circle cx="992.9" cy="1755.8" r="4.2"/><circle cx="947.7" cy="2001.9" r="4.2"/><circle cx="877.3" cy="1818.5" r="4.2"/><circle cx="985.9" cy="1920.6" r="4.2"/><circle cx="1066.7" cy="1868.7" r="4.2"/><circle cx="966.4" cy="1869.5" r="4.2"/><circle cx="982.2" cy="1783.0" r="4.2"/><circle cx="956.0" cy="1768.5" r="4.2"/><circle cx="862.8" cy="1761.7" r="4.2"/><circle cx="942.4" cy="1844.4" r="4.2"/><circle cx="982.4" cy="1983.4" r="4.2"/><circle cx="1122.2" cy="1849.9" r="4.2"/><circle cx="908.9" cy="1922.0" r="4.2"/><circle cx="1113.9" cy="1734.0" r="4.2"/><circle cx="875.3" cy="1895.6" r="4.2"/><circle cx="1100.6" cy="1874.3" r="4.2"/><circle cx="1051.4" cy="1993.1" r="4.2"/><circle cx="903.0" cy="1681.5" r="4.2"/><circle cx="977.0" cy="1960.0" r="4.2"/><circle cx="1122.9" cy="1710.0" r="4.2"/><circle cx="1057.2" cy="1874.6" r="4.2"/><circle cx="1030.6" cy="1757.3" r="4.2"/><circle cx="900.4" cy="1816.4" r="4.2"/><circle cx="871.2" cy="1804.7" r="4.2"/><circle cx="898.4" cy="1665.2" r="4.2"/><circle cx="827.9" cy="1919.2" r="4.2"/><circle cx="1081.7" cy="1789.6" r="4.2"/><circle cx="996.4" cy="1839.2" r="4.2"/><circle cx="1143.5" cy="1800.8" r="4.2"/><circle cx="971.8" cy="1984.7" r="4.2"/><circle cx="860.2" cy="1915.2" r="4.2"/><circle cx="1052.9" cy="1977.4" r="4.2"/><circle cx="904.1" cy="1931.8" r="4.2"/><circle cx="896.4" cy="1970.6" r="4.2"/><circle cx="925.9" cy="1955.8" r="4.2"/><circle cx="1131.2" cy="1866.4" r="4.2"/><circle cx="1061.0" cy="1872.3" r="4.2"/><circle cx="999.9" cy="1800.8" r="4.2"/><circle cx="886.5" cy="1639.2" r="4.2"/><circle cx="831.0" cy="1907.5" r="4.2"/><circle cx="837.8" cy="1887.4" r="4.2"/><circle cx="1107.4" cy="1999.3" r="4.2"/><circle cx="936.7" cy="1669.5" r="4.2"/><circle cx="819.5" cy="1813.7" r="4.2"/><circle cx="961.6" cy="1976.3" r="4.2"/><circle cx="1050.5" cy="1732.9" r="4.2"/><circle cx="874.0" cy="1656.0" r="4.2"/><circle cx="966.3" cy="1783.9" r="4.2"/><circle cx="1020.9" cy="1835.1" r="4.2"/><circle cx="1045.3" cy="1780.5" r="4.2"/><circle cx="932.4" cy="1996.8" r="4.2"/><circle cx="919.7" cy="1784.6" r="4.2"/><circle cx="1003.8" cy="1979.2" r="4.2"/><circle cx="1004.9" cy="1772.1" r="4.2"/><circle cx="1018.3" cy="1837.0" r="4.2"/><circle cx="1096.6" cy="1822.3" r="4.2"/><circle cx="1055.0" cy="1772.8" r="4.2"/><circle cx="922.8" cy="1828.4" r="4.2"/><circle cx="1030.0" cy="1751.4" r="4.2"/><circle cx="1046.8" cy="1826.8" r="4.2"/><circle cx="1124.5" cy="1829.3" r="4.2"/><circle cx="973.4" cy="1936.6" r="4.2"/><circle cx="1016.1" cy="1941.9" r="4.2"/><circle cx="1102.0" cy="1646.3" r="4.2"/><circle cx="1088.5" cy="1938.3" r="4.2"/><circle cx="1077.6" cy="1826.5" r="4.2"/><circle cx="954.8" cy="1931.0" r="4.2"/><circle cx="970.8" cy="1719.6" r="4.2"/><circle cx="902.6" cy="1773.7" r="4.2"/><circle cx="849.9" cy="1845.1" r="4.2"/><circle cx="841.4" cy="1900.8" r="4.2"/><circle cx="1007.6" cy="1770.1" r="4.2"/><circle cx="1080.5" cy="1762.8" r="4.2"/><circle cx="992.7" cy="1978.7" r="4.2"/><circle cx="1141.2" cy="1898.4" r="4.2"/><circle cx="1025.6" cy="1754.2" r="4.2"/><circle cx="1059.8" cy="1773.0" r="4.2"/><circle cx="961.7" cy="1969.8" r="4.2"/><circle cx="948.7" cy="1946.5" r="4.2"/><circle cx="953.0" cy="1965.7" r="4.2"/><circle cx="959.7" cy="1822.9" r="4.2"/><circle cx="1027.4" cy="1909.1" r="4.2"/><circle cx="1064.8" cy="1920.2" r="4.2"/><circle cx="1083.0" cy="1668.3" r="4.2"/><circle cx="1058.8" cy="1842.8" r="4.2"/><circle cx="1031.4" cy="1898.1" r="4.2"/><circle cx="1103.6" cy="1684.9" r="4.2"/><circle cx="877.8" cy="1728.9" r="4.2"/><circle cx="967.2" cy="1788.4" r="4.2"/><circle cx="1097.8" cy="1726.9" r="4.2"/><circle cx="949.5" cy="1814.3" r="4.2"/><circle cx="912.2" cy="1932.1" r="4.2"/><circle cx="1121.5" cy="1839.7" r="4.2"/><circle cx="892.8" cy="1831.0" r="4.2"/><circle cx="987.5" cy="1752.0" r="4.2"/><circle cx="1077.3" cy="1853.2" r="4.2"/><circle cx="792.5" cy="1955.2" r="4.2"/><circle cx="986.1" cy="1931.9" r="4.2"/><circle cx="1028.7" cy="1884.5" r="4.2"/><circle cx="853.8" cy="1946.0" r="4.2"/><circle cx="1121.0" cy="1708.0" r="4.2"/><circle cx="930.8" cy="1878.4" r="4.2"/><circle cx="1116.4" cy="1888.6" r="4.2"/><circle cx="795.4" cy="1892.3" r="4.2"/><circle cx="1090.1" cy="1740.7" r="4.2"/><circle cx="994.0" cy="1750.2" r="4.2"/><circle cx="1144.5" cy="1777.6" r="4.2"/><circle cx="917.6" cy="1871.6" r="4.2"/><circle cx="980.3" cy="1665.3" r="4.2"/><circle cx="1049.3" cy="1792.1" r="4.2"/><circle cx="817.2" cy="1942.3" r="4.2"/><circle cx="973.0" cy="1739.6" r="4.2"/><circle cx="1000.0" cy="1833.9" r="4.2"/><circle cx="1111.6" cy="1948.7" r="4.2"/><circle cx="1022.2" cy="1648.9" r="4.2"/><circle cx="800.2" cy="1840.8" r="4.2"/><circle cx="982.5" cy="1927.1" r="4.2"/><circle cx="810.8" cy="1873.8" r="4.2"/><circle cx="992.5" cy="1763.0" r="4.2"/><circle cx="1024.7" cy="1691.8" r="4.2"/><circle cx="1104.2" cy="1811.1" r="4.2"/><circle cx="809.5" cy="1961.4" r="4.2"/><circle cx="961.5" cy="1832.1" r="4.2"/><circle cx="965.6" cy="1768.3" r="4.2"/><circle cx="926.6" cy="1706.7" r="4.2"/><circle cx="958.6" cy="1928.2" r="4.2"/><circle cx="999.0" cy="1925.6" r="4.2"/><circle cx="1000.5" cy="2000.6" r="4.2"/><circle cx="1007.7" cy="1890.8" r="4.2"/><circle cx="903.3" cy="1935.6" r="4.2"/><circle cx="929.7" cy="1783.5" r="4.2"/><circle cx="955.3" cy="1817.5" r="4.2"/><circle cx="1028.3" cy="1911.1" r="4.2"/><circle cx="1055.6" cy="1943.8" r="4.2"/><circle cx="1070.5" cy="1958.3" r="4.2"/><circle cx="869.3" cy="1946.1" r="4.2"/><circle cx="848.8" cy="1802.6" r="4.2"/><circle cx="960.2" cy="1972.4" r="4.2"/><circle cx="1086.1" cy="1783.2" r="4.2"/><circle cx="1020.6" cy="1945.3" r="4.2"/><circle cx="998.9" cy="1945.3" r="4.2"/><circle cx="775.7" cy="1814.4" r="4.2"/><circle cx="1002.6" cy="1802.5" r="4.2"/><circle cx="1093.2" cy="1863.5" r="4.2"/><circle cx="1039.0" cy="1796.6" r="4.2"/><circle cx="876.6" cy="1991.1" r="4.2"/><circle cx="1111.9" cy="1778.7" r="4.2"/><circle cx="845.6" cy="1943.1" r="4.2"/><circle cx="973.3" cy="1630.1" r="4.2"/><circle cx="868.8" cy="1762.8" r="4.2"/><circle cx="982.9" cy="1955.1" r="4.2"/><circle cx="941.9" cy="1991.1" r="4.2"/><circle cx="1023.9" cy="1868.2" r="4.2"/><circle cx="971.4" cy="1885.1" r="4.2"/><circle cx="984.7" cy="1798.8" r="4.2"/><circle cx="1056.5" cy="1871.8" r="4.2"/><circle cx="1062.2" cy="1739.8" r="4.2"/><circle cx="933.0" cy="1998.8" r="4.2"/><circle cx="1078.3" cy="1885.0" r="4.2"/><circle cx="1086.2" cy="1929.2" r="4.2"/><circle cx="835.3" cy="1908.4" r="4.2"/><circle cx="891.9" cy="1650.2" r="4.2"/><circle cx="1130.7" cy="1704.4" r="4.2"/><circle cx="939.7" cy="1670.9" r="4.2"/><circle cx="944.2" cy="1945.6" r="4.2"/><circle cx="1068.3" cy="1748.7" r="4.2"/><circle cx="1060.2" cy="1807.3" r="4.2"/><circle cx="1027.5" cy="1913.7" r="4.2"/><circle cx="911.1" cy="1975.9" r="4.2"/><circle cx="883.0" cy="1867.6" r="4.2"/><circle cx="874.4" cy="1721.8" r="4.2"/><circle cx="981.3" cy="1914.2" r="4.2"/><circle cx="930.0" cy="1934.5" r="4.2"/><circle cx="1013.6" cy="1890.9" r="4.2"/><circle cx="923.1" cy="1984.5" r="4.2"/><circle cx="975.0" cy="1826.5" r="4.2"/><circle cx="1114.8" cy="1680.4" r="4.2"/><circle cx="1096.0" cy="1881.8" r="4.2"/><circle cx="926.6" cy="1846.3" r="4.2"/><circle cx="1054.9" cy="1939.5" r="4.2"/><circle cx="1040.0" cy="1860.9" r="4.2"/><circle cx="877.2" cy="1710.3" r="4.2"/><circle cx="983.8" cy="1934.4" r="4.2"/><circle cx="1086.8" cy="1671.7" r="4.2"/><circle cx="1011.9" cy="1758.2" r="4.2"/><circle cx="995.1" cy="1780.9" r="4.2"/><circle cx="898.5" cy="2001.8" r="4.2"/><circle cx="954.6" cy="1680.4" r="4.2"/><circle cx="1032.0" cy="1897.1" r="4.2"/><circle cx="903.2" cy="1701.6" r="4.2"/><circle cx="969.1" cy="1795.4" r="4.2"/><circle cx="1040.0" cy="1704.2" r="4.2"/><circle cx="985.8" cy="1894.4" r="4.2"/><circle cx="1047.1" cy="1901.3" r="4.2"/><circle cx="1100.4" cy="1902.2" r="4.2"/><circle cx="873.7" cy="1764.0" r="4.2"/><circle cx="1013.0" cy="2003.8" r="4.2"/><circle cx="946.0" cy="1668.5" r="4.2"/><circle cx="954.0" cy="1939.9" r="4.2"/><circle cx="1131.3" cy="1999.7" r="4.2"/><circle cx="1092.0" cy="1680.5" r="4.2"/><circle cx="975.9" cy="1656.8" r="4.2"/><circle cx="1010.1" cy="1963.8" r="4.2"/><circle cx="1015.7" cy="1707.6" r="4.2"/><circle cx="1116.4" cy="1774.2" r="4.2"/><circle cx="997.5" cy="1677.6" r="4.2"/><circle cx="946.5" cy="1850.7" r="4.2"/><circle cx="1041.2" cy="1795.7" r="4.2"/><circle cx="1047.9" cy="1650.3" r="4.2"/><circle cx="925.3" cy="1883.7" r="4.2"/><circle cx="1000.4" cy="1653.7" r="4.2"/><circle cx="1071.9" cy="1940.6" r="4.2"/><circle cx="1054.3" cy="1644.4" r="4.2"/><circle cx="1143.0" cy="1932.6" r="4.2"/><circle cx="873.4" cy="1687.8" r="4.2"/><circle cx="835.5" cy="1823.1" r="4.2"/><circle cx="1084.5" cy="1819.4" r="4.2"/><circle cx="998.7" cy="1931.4" r="4.2"/><circle cx="852.3" cy="1791.8" r="4.2"/><circle cx="1143.1" cy="1835.9" r="4.2"/><circle cx="1094.7" cy="1668.2" r="4.2"/><circle cx="888.4" cy="1917.4" r="4.2"/><circle cx="1003.2" cy="1998.9" r="4.2"/><circle cx="970.6" cy="1801.8" r="4.2"/><circle cx="1005.0" cy="1874.5" r="4.2"/><circle cx="1051.0" cy="1930.3" r="4.2"/><circle cx="1090.5" cy="1900.2" r="4.2"/><circle cx="1031.4" cy="1950.4" r="4.2"/><circle cx="941.0" cy="1896.3" r="4.2"/><circle cx="887.6" cy="1761.4" r="4.2"/><circle cx="1021.2" cy="1981.4" r="4.2"/><circle cx="877.6" cy="1724.2" r="4.2"/><circle cx="1109.0" cy="1977.2" r="4.2"/><circle cx="1065.2" cy="1922.2" r="4.2"/><circle cx="1074.4" cy="1830.6" r="4.2"/><circle cx="977.5" cy="1983.6" r="4.2"/><circle cx="882.6" cy="1971.8" r="4.2"/><circle cx="1035.1" cy="1911.3" r="4.2"/><circle cx="867.9" cy="1726.9" r="4.2"/><circle cx="1035.3" cy="1708.9" r="4.2"/><circle cx="1022.0" cy="1855.4" r="4.2"/><circle cx="888.9" cy="1654.1" r="4.2"/><circle cx="960.6" cy="1995.5" r="4.2"/><circle cx="877.4" cy="1920.1" r="4.2"/><circle cx="928.6" cy="1889.9" r="4.2"/><circle cx="903.4" cy="1943.8" r="4.2"/><circle cx="1077.5" cy="1882.9" r="4.2"/><circle cx="995.9" cy="1879.3" r="4.2"/><circle cx="989.3" cy="1714.2" r="4.2"/><circle cx="912.4" cy="1827.2" r="4.2"/><circle cx="867.9" cy="1930.1" r="4.2"/><circle cx="917.9" cy="1918.3" r="4.2"/><circle cx="952.3" cy="1957.9" r="4.2"/><circle cx="1024.9" cy="1945.3" r="4.2"/><circle cx="947.9" cy="1898.2" r="4.2"/><circle cx="861.2" cy="1796.0" r="4.2"/><circle cx="951.3" cy="1983.1" r="4.2"/><circle cx="1055.3" cy="1842.2" r="4.2"/><circle cx="1137.8" cy="1953.4" r="4.2"/><circle cx="1130.7" cy="1827.9" r="4.2"/><circle cx="838.5" cy="1956.0" r="4.2"/><circle cx="1020.8" cy="1824.0" r="4.2"/><circle cx="951.8" cy="1909.2" r="4.2"/><circle cx="913.0" cy="1970.3" r="4.2"/><circle cx="960.0" cy="2003.9" r="4.2"/><circle cx="855.8" cy="1944.4" r="4.2"/><circle cx="1151.8" cy="1802.1" r="4.2"/><circle cx="1137.3" cy="1751.3" r="4.2"/><circle cx="903.7" cy="1882.1" r="4.2"/><circle cx="945.7" cy="1841.8" r="4.2"/><circle cx="819.6" cy="1992.0" r="4.2"/><circle cx="1109.1" cy="1651.5" r="4.2"/><circle cx="928.6" cy="1964.9" r="4.2"/><circle cx="1099.2" cy="1990.8" r="4.2"/><circle cx="1130.1" cy="1783.7" r="4.2"/><circle cx="1119.8" cy="1669.2" r="4.2"/><circle cx="1103.0" cy="1788.4" r="4.2"/><circle cx="1094.9" cy="1934.3" r="4.2"/><circle cx="967.8" cy="1674.0" r="4.2"/><circle cx="1022.8" cy="1851.0" r="4.2"/><circle cx="1113.7" cy="1992.8" r="4.2"/><circle cx="842.6" cy="1890.9" r="4.2"/><circle cx="1010.0" cy="1807.8" r="4.2"/><circle cx="1030.3" cy="1897.3" r="4.2"/><circle cx="927.5" cy="1788.6" r="4.2"/><circle cx="994.1" cy="1985.3" r="4.2"/><circle cx="908.4" cy="1895.6" r="4.2"/><circle cx="840.3" cy="1811.6" r="4.2"/><circle cx="1029.5" cy="1690.7" r="4.2"/><circle cx="1016.7" cy="1869.2" r="4.2"/><circle cx="1001.2" cy="1950.3" r="4.2"/><circle cx="996.6" cy="1704.8" r="4.2"/><circle cx="976.2" cy="1903.6" r="4.2"/><circle cx="839.5" cy="1892.3" r="4.2"/><circle cx="1042.8" cy="2002.2" r="4.2"/><circle cx="971.4" cy="1750.7" r="4.2"/><circle cx="955.0" cy="1727.5" r="4.2"/><circle cx="903.2" cy="1815.4" r="4.2"/><circle cx="1125.2" cy="1841.3" r="4.2"/><circle cx="1073.1" cy="1717.2" r="4.2"/><circle cx="1024.8" cy="1843.0" r="4.2"/><circle cx="846.8" cy="1849.6" r="4.2"/><circle cx="1013.6" cy="1720.8" r="4.2"/><circle cx="934.1" cy="1831.0" r="4.2"/><circle cx="1006.4" cy="1970.0" r="4.2"/><circle cx="891.6" cy="1879.8" r="4.2"/><circle cx="1065.6" cy="1941.8" r="4.2"/><circle cx="1136.4" cy="1929.5" r="4.2"/><circle cx="893.2" cy="1901.9" r="4.2"/><circle cx="1004.3" cy="1663.6" r="4.2"/><circle cx="1105.6" cy="1804.1" r="4.2"/><circle cx="911.2" cy="1900.1" r="4.2"/><circle cx="1067.1" cy="1670.0" r="4.2"/><circle cx="920.3" cy="1812.3" r="4.2"/><circle cx="1026.7" cy="1713.6" r="4.2"/><circle cx="954.3" cy="1898.6" r="4.2"/><circle cx="1127.0" cy="1863.3" r="4.2"/><circle cx="946.3" cy="1870.1" r="4.2"/><circle cx="1065.3" cy="1794.9" r="4.2"/><circle cx="1064.3" cy="1680.9" r="4.2"/><circle cx="975.0" cy="1944.1" r="4.2"/><circle cx="901.8" cy="1676.5" r="4.2"/><circle cx="1141.3" cy="1674.1" r="4.2"/><circle cx="952.7" cy="1990.6" r="4.2"/><circle cx="1051.4" cy="1678.9" r="4.2"/><circle cx="902.1" cy="1723.5" r="4.2"/><circle cx="951.4" cy="2003.4" r="4.2"/><circle cx="1097.0" cy="1751.1" r="4.2"/><circle cx="1055.5" cy="1758.8" r="4.2"/><circle cx="874.5" cy="1767.9" r="4.2"/><circle cx="907.4" cy="1772.6" r="4.2"/><circle cx="1014.3" cy="1964.5" r="4.2"/><circle cx="917.9" cy="1946.6" r="4.2"/><circle cx="1055.3" cy="1885.2" r="4.2"/><circle cx="1069.7" cy="1957.9" r="4.2"/><circle cx="902.7" cy="1724.0" r="4.2"/><circle cx="1087.4" cy="1825.5" r="4.2"/><circle cx="931.4" cy="1961.9" r="4.2"/><circle cx="821.2" cy="1974.7" r="4.2"/><circle cx="997.3" cy="1793.0" r="4.2"/><circle cx="1084.1" cy="1927.4" r="4.2"/><circle cx="1125.5" cy="1706.0" r="4.2"/><circle cx="898.4" cy="1906.0" r="4.2"/><circle cx="980.7" cy="1818.6" r="4.2"/><circle cx="986.1" cy="1929.8" r="4.2"/><circle cx="1077.7" cy="1789.8" r="4.2"/><circle cx="968.0" cy="1806.5" r="4.2"/><circle cx="1045.0" cy="1912.1" r="4.2"/><circle cx="870.6" cy="1824.8" r="4.2"/><circle cx="1001.9" cy="1970.9" r="4.2"/><circle cx="995.3" cy="1901.7" r="4.2"/><circle cx="1043.2" cy="1897.9" r="4.2"/><circle cx="1090.9" cy="1978.8" r="4.2"/><circle cx="1130.9" cy="1796.9" r="4.2"/><circle cx="866.7" cy="1705.0" r="4.2"/><circle cx="929.0" cy="1863.1" r="4.2"/><circle cx="893.4" cy="1820.2" r="4.2"/><circle cx="957.8" cy="1986.2" r="4.2"/><circle cx="848.8" cy="1853.2" r="4.2"/><circle cx="1039.1" cy="1994.6" r="4.2"/><circle cx="907.8" cy="1790.3" r="4.2"/><circle cx="1035.1" cy="1777.8" r="4.2"/><circle cx="1100.7" cy="1845.9" r="4.2"/><circle cx="1095.1" cy="1904.6" r="4.2"/><circle cx="1012.1" cy="1976.9" r="4.2"/><circle cx="937.5" cy="1742.4" r="4.2"/><circle cx="1024.5" cy="1907.1" r="4.2"/><circle cx="1095.9" cy="1928.2" r="4.2"/><circle cx="981.7" cy="1781.8" r="4.2"/><circle cx="955.3" cy="1816.9" r="4.2"/><circle cx="1112.4" cy="1761.9" r="4.2"/><circle cx="1125.3" cy="1871.0" r="4.2"/><circle cx="1071.1" cy="1728.2" r="4.2"/><circle cx="977.7" cy="1734.0" r="4.2"/><circle cx="1098.6" cy="1775.4" r="4.2"/><circle cx="1104.0" cy="1914.1" r="4.2"/><circle cx="1143.2" cy="1644.4" r="4.2"/><circle cx="1041.7" cy="1867.5" r="4.2"/><circle cx="1004.3" cy="1883.5" r="4.2"/><circle cx="910.3" cy="1999.1" r="4.2"/><circle cx="921.8" cy="1725.5" r="4.2"/><circle cx="1031.3" cy="1642.7" r="4.2"/><circle cx="1073.0" cy="1847.0" r="4.2"/><circle cx="1107.2" cy="1856.6" r="4.2"/><circle cx="1119.8" cy="1841.4" r="4.2"/><circle cx="1071.1" cy="1824.1" r="4.2"/><circle cx="1075.7" cy="1786.1" r="4.2"/><circle cx="989.4" cy="1904.6" r="4.2"/><circle cx="1006.5" cy="1749.3" r="4.2"/><circle cx="873.1" cy="1860.3" r="4.2"/><circle cx="1098.2" cy="1814.3" r="4.2"/><circle cx="990.7" cy="1972.0" r="4.2"/><circle cx="935.5" cy="1981.9" r="4.2"/><circle cx="1067.7" cy="1668.8" r="4.2"/><circle cx="1019.2" cy="1666.8" r="4.2"/><circle cx="1130.5" cy="2006.2" r="4.2"/><circle cx="990.1" cy="1934.8" r="4.2"/><circle cx="946.4" cy="1955.6" r="4.2"/><circle cx="1133.1" cy="1808.2" r="4.2"/><circle cx="786.6" cy="1810.2" r="4.2"/><circle cx="1095.8" cy="1966.7" r="4.2"/><circle cx="949.6" cy="1806.8" r="4.2"/><circle cx="1082.0" cy="1675.3" r="4.2"/><circle cx="963.1" cy="1756.8" r="4.2"/><circle cx="868.6" cy="1974.1" r="4.2"/><circle cx="1065.5" cy="1867.8" r="4.2"/><circle cx="1097.1" cy="1797.2" r="4.2"/><circle cx="1055.5" cy="1717.5" r="4.2"/><circle cx="927.1" cy="1693.2" r="4.2"/><circle cx="951.8" cy="1815.9" r="4.2"/><circle cx="919.5" cy="1836.4" r="4.2"/><circle cx="1011.9" cy="1842.3" r="4.2"/><circle cx="1013.7" cy="1834.8" r="4.2"/><circle cx="1027.2" cy="1765.9" r="4.2"/><circle cx="887.5" cy="1995.4" r="4.2"/><circle cx="1141.8" cy="1654.3" r="4.2"/><circle cx="983.1" cy="1707.6" r="4.2"/><circle cx="1030.4" cy="1898.9" r="4.2"/><circle cx="892.3" cy="1844.3" r="4.2"/><circle cx="931.2" cy="1970.3" r="4.2"/><circle cx="1085.6" cy="1634.9" r="4.2"/><circle cx="841.8" cy="1943.8" r="4.2"/><circle cx="927.1" cy="1892.9" r="4.2"/><circle cx="1087.9" cy="1999.9" r="4.2"/><circle cx="1056.1" cy="1731.9" r="4.2"/><circle cx="870.4" cy="1683.4" r="4.2"/><circle cx="985.9" cy="1785.6" r="4.2"/><circle cx="865.4" cy="1940.6" r="4.2"/><circle cx="900.8" cy="1918.4" r="4.2"/><circle cx="1027.3" cy="1944.7" r="4.2"/><circle cx="964.2" cy="1978.2" r="4.2"/><circle cx="866.4" cy="1688.3" r="4.2"/><circle cx="936.1" cy="1692.6" r="4.2"/><circle cx="833.2" cy="1865.7" r="4.2"/><circle cx="965.6" cy="1756.4" r="4.2"/><circle cx="1054.7" cy="1900.2" r="4.2"/><circle cx="924.6" cy="1704.8" r="4.2"/><circle cx="1033.9" cy="2004.7" r="4.2"/><circle cx="874.6" cy="1882.8" r="4.2"/><circle cx="925.5" cy="1889.5" r="4.2"/><circle cx="1081.9" cy="1808.5" r="4.2"/><circle cx="905.5" cy="1892.2" r="4.2"/><circle cx="939.5" cy="1631.4" r="4.2"/><circle cx="1048.5" cy="1956.0" r="4.2"/><circle cx="1027.8" cy="1631.4" r="4.2"/><circle cx="1017.5" cy="1987.3" r="4.2"/><circle cx="901.5" cy="1770.9" r="4.2"/><circle cx="996.3" cy="1713.9" r="4.2"/><circle cx="964.1" cy="1820.0" r="4.2"/><circle cx="1025.1" cy="1699.9" r="4.2"/><circle cx="1069.2" cy="1825.1" r="4.2"/><circle cx="1123.9" cy="1822.6" r="4.2"/><circle cx="1083.4" cy="1811.9" r="4.2"/><circle cx="1051.2" cy="1708.2" r="4.2"/><circle cx="1070.5" cy="1876.8" r="4.2"/><circle cx="1014.1" cy="1891.4" r="4.2"/><circle cx="1027.3" cy="1994.4" r="4.2"/><circle cx="958.3" cy="1769.2" r="4.2"/><circle cx="958.2" cy="1898.4" r="4.2"/><circle cx="1094.9" cy="1957.1" r="4.2"/><circle cx="940.1" cy="1779.8" r="4.2"/><circle cx="917.4" cy="1634.2" r="4.2"/><circle cx="1061.8" cy="1755.5" r="4.2"/><circle cx="1010.1" cy="1701.0" r="4.2"/><circle cx="1028.9" cy="1860.3" r="4.2"/><circle cx="895.7" cy="1643.7" r="4.2"/><circle cx="1017.6" cy="1856.9" r="4.2"/><circle cx="891.7" cy="1787.0" r="4.2"/><circle cx="864.9" cy="1952.9" r="4.2"/><circle cx="996.0" cy="1772.2" r="4.2"/><circle cx="1075.0" cy="1935.5" r="4.2"/><circle cx="1092.3" cy="1836.7" r="4.2"/><circle cx="1076.3" cy="1669.4" r="4.2"/><circle cx="937.5" cy="1821.4" r="4.2"/><circle cx="914.5" cy="1954.7" r="4.2"/><circle cx="1105.7" cy="1764.9" r="4.2"/><circle cx="1006.4" cy="1842.4" r="4.2"/><circle cx="910.4" cy="1781.6" r="4.2"/><circle cx="1024.4" cy="1880.6" r="4.2"/><circle cx="946.8" cy="1943.6" r="4.2"/><circle cx="1051.3" cy="1640.8" r="4.2"/><circle cx="961.9" cy="1808.1" r="4.2"/><circle cx="871.8" cy="1873.0" r="4.2"/><circle cx="1005.7" cy="1694.7" r="4.2"/><circle cx="892.7" cy="1837.6" r="4.2"/><circle cx="956.7" cy="1862.5" r="4.2"/><circle cx="890.7" cy="1885.8" r="4.2"/><circle cx="1007.1" cy="1924.0" r="4.2"/><circle cx="988.2" cy="1913.9" r="4.2"/><circle cx="1087.8" cy="1889.6" r="4.2"/><circle cx="902.1" cy="1639.8" r="4.2"/><circle cx="1009.9" cy="1675.5" r="4.2"/><circle cx="940.4" cy="1930.0" r="4.2"/><circle cx="949.4" cy="1926.3" r="4.2"/><circle cx="848.4" cy="1990.5" r="4.2"/><circle cx="1055.6" cy="1943.4" r="4.2"/><circle cx="1036.7" cy="1779.3" r="4.2"/><circle cx="966.7" cy="1819.0" r="4.2"/><circle cx="1058.8" cy="1910.9" r="4.2"/><circle cx="908.9" cy="1709.1" r="4.2"/><circle cx="1050.8" cy="1878.1" r="4.2"/><circle cx="952.4" cy="1821.1" r="4.2"/><circle cx="1081.1" cy="1665.6" r="4.2"/><circle cx="1014.3" cy="1811.9" r="4.2"/><circle cx="992.7" cy="1712.1" r="4.2"/><circle cx="1088.0" cy="1838.2" r="4.2"/><circle cx="1030.3" cy="1937.3" r="4.2"/><circle cx="1028.5" cy="1989.2" r="4.2"/><circle cx="1101.6" cy="1776.3" r="4.2"/><circle cx="843.2" cy="1847.7" r="4.2"/><circle cx="953.6" cy="1832.7" r="4.2"/><circle cx="964.4" cy="1945.5" r="4.2"/><circle cx="1125.5" cy="1705.1" r="4.2"/><circle cx="1064.1" cy="1844.9" r="4.2"/><circle cx="856.3" cy="1924.5" r="4.2"/><circle cx="1048.8" cy="1716.1" r="4.2"/><circle cx="1019.0" cy="1770.1" r="4.2"/><circle cx="887.4" cy="1804.0" r="4.2"/><circle cx="1072.0" cy="1902.5" r="4.2"/><circle cx="1069.0" cy="2005.4" r="4.2"/><circle cx="1125.9" cy="1778.0" r="4.2"/><circle cx="1088.1" cy="1809.4" r="4.2"/><circle cx="927.6" cy="1966.0" r="4.2"/><circle cx="1023.8" cy="1841.0" r="4.2"/><circle cx="991.3" cy="1722.4" r="4.2"/><circle cx="1100.9" cy="1660.1" r="4.2"/><circle cx="1106.9" cy="1998.8" r="4.2"/><circle cx="1011.0" cy="1868.3" r="4.2"/><circle cx="951.7" cy="1679.4" r="4.2"/><circle cx="1043.4" cy="1904.6" r="4.2"/><circle cx="1016.9" cy="1877.6" r="4.2"/><circle cx="999.7" cy="1756.9" r="4.2"/><circle cx="817.7" cy="1905.6" r="4.2"/><circle cx="913.4" cy="1697.7" r="4.2"/><circle cx="963.5" cy="1786.4" r="4.2"/><circle cx="918.8" cy="1794.1" r="4.2"/><circle cx="879.4" cy="1671.3" r="4.2"/><circle cx="943.7" cy="1959.5" r="4.2"/><circle cx="940.5" cy="1917.6" r="4.2"/><circle cx="1128.8" cy="1968.3" r="4.2"/><circle cx="986.0" cy="1786.9" r="4.2"/><circle cx="942.0" cy="1975.2" r="4.2"/><circle cx="995.6" cy="1897.8" r="4.2"/><circle cx="1123.3" cy="1671.2" r="4.2"/><circle cx="1044.6" cy="1637.3" r="4.2"/><circle cx="821.9" cy="1808.5" r="4.2"/><circle cx="847.5" cy="1825.2" r="4.2"/><circle cx="1084.4" cy="1787.2" r="4.2"/><circle cx="865.1" cy="1946.5" r="4.2"/><circle cx="928.3" cy="1855.3" r="4.2"/><circle cx="1036.2" cy="1851.5" r="4.2"/><circle cx="879.0" cy="1817.3" r="4.2"/><circle cx="966.3" cy="1820.0" r="4.2"/><circle cx="1148.3" cy="1985.6" r="4.2"/><circle cx="1081.8" cy="1860.7" r="4.2"/><circle cx="1006.9" cy="1703.1" r="4.2"/><circle cx="1033.8" cy="1646.3" r="4.2"/><circle cx="1136.9" cy="1777.4" r="4.2"/><circle cx="915.6" cy="1892.5" r="4.2"/><circle cx="1019.8" cy="1781.7" r="4.2"/><circle cx="950.0" cy="1946.3" r="4.2"/><circle cx="1054.7" cy="1899.5" r="4.2"/><circle cx="1089.0" cy="1961.5" r="4.2"/><circle cx="1071.7" cy="1809.2" r="4.2"/><circle cx="1093.3" cy="1882.4" r="4.2"/><circle cx="832.8" cy="1844.1" r="4.2"/><circle cx="901.2" cy="1668.6" r="4.2"/><circle cx="898.4" cy="1950.0" r="4.2"/><circle cx="875.1" cy="1778.8" r="4.2"/><circle cx="938.6" cy="1773.2" r="4.2"/><circle cx="1099.7" cy="1771.4" r="4.2"/><circle cx="1137.0" cy="1716.1" r="4.2"/><circle cx="1042.3" cy="1849.4" r="4.2"/><circle cx="821.1" cy="1949.8" r="4.2"/><circle cx="1042.8" cy="1935.2" r="4.2"/><circle cx="981.8" cy="1936.4" r="4.2"/><circle cx="978.0" cy="1730.2" r="4.2"/><circle cx="1068.5" cy="1866.8" r="4.2"/><circle cx="897.3" cy="1979.8" r="4.2"/><circle cx="1041.0" cy="1981.1" r="4.2"/><circle cx="1024.4" cy="1983.4" r="4.2"/><circle cx="1111.4" cy="1678.1" r="4.2"/><circle cx="929.8" cy="1989.8" r="4.2"/><circle cx="1095.2" cy="1924.0" r="4.2"/><circle cx="923.3" cy="1873.4" r="4.2"/><circle cx="995.5" cy="1848.8" r="4.2"/><circle cx="960.0" cy="1782.5" r="4.2"/><circle cx="1050.5" cy="1931.7" r="4.2"/><circle cx="1146.9" cy="1916.0" r="4.2"/><circle cx="1106.1" cy="1880.7" r="4.2"/><circle cx="867.6" cy="1847.5" r="4.2"/><circle cx="988.2" cy="1974.4" r="4.2"/><circle cx="947.9" cy="1838.2" r="4.2"/><circle cx="1140.2" cy="1865.0" r="4.2"/><circle cx="1013.7" cy="1831.1" r="4.2"/><circle cx="1131.9" cy="1635.2" r="4.2"/><circle cx="864.0" cy="1773.7" r="4.2"/><circle cx="1040.4" cy="1829.4" r="4.2"/><circle cx="1068.5" cy="1988.8" r="4.2"/><circle cx="969.1" cy="1775.4" r="4.2"/><circle cx="1066.6" cy="1982.7" r="4.2"/><circle cx="981.1" cy="1979.9" r="4.2"/><circle cx="898.6" cy="1688.7" r="4.2"/><circle cx="888.8" cy="1894.2" r="4.2"/><circle cx="1101.9" cy="1941.4" r="4.2"/><circle cx="1063.7" cy="1921.5" r="4.2"/><circle cx="1088.7" cy="2001.3" r="4.2"/><circle cx="1089.2" cy="1977.2" r="4.2"/><circle cx="1032.4" cy="1888.0" r="4.2"/><circle cx="988.3" cy="1733.9" r="4.2"/><circle cx="1063.7" cy="1745.5" r="4.2"/><circle cx="880.5" cy="1920.9" r="4.2"/><circle cx="1082.2" cy="1690.2" r="4.2"/><circle cx="905.9" cy="1961.7" r="4.2"/><circle cx="801.8" cy="1913.8" r="4.2"/><circle cx="1026.4" cy="1661.5" r="4.2"/><circle cx="1024.8" cy="1959.3" r="4.2"/><circle cx="943.9" cy="1641.7" r="4.2"/><circle cx="1070.5" cy="1830.5" r="4.2"/><circle cx="1100.0" cy="1726.7" r="4.2"/><circle cx="1111.2" cy="1771.8" r="4.2"/><circle cx="1014.6" cy="1909.1" r="4.2"/><circle cx="1023.5" cy="1746.0" r="4.2"/><circle cx="954.7" cy="1993.6" r="4.2"/><circle cx="930.2" cy="2003.6" r="4.2"/><circle cx="1094.5" cy="1938.9" r="4.2"/><circle cx="951.1" cy="1785.0" r="4.2"/><circle cx="1076.4" cy="1905.6" r="4.2"/><circle cx="1143.7" cy="1713.4" r="4.2"/><circle cx="1131.3" cy="1868.7" r="4.2"/><circle cx="970.1" cy="1849.9" r="4.2"/><circle cx="1145.4" cy="1785.9" r="4.2"/><circle cx="997.4" cy="1834.6" r="4.2"/><circle cx="942.7" cy="1999.2" r="4.2"/><circle cx="1069.8" cy="1965.2" r="4.2"/><circle cx="1069.0" cy="1796.5" r="4.2"/><circle cx="975.4" cy="1646.0" r="4.2"/><circle cx="1026.3" cy="1889.8" r="4.2"/><circle cx="1121.4" cy="1939.1" r="4.2"/><circle cx="1010.4" cy="1735.3" r="4.2"/><circle cx="862.0" cy="1700.1" r="4.2"/><circle cx="1082.3" cy="1800.9" r="4.2"/><circle cx="905.4" cy="1934.2" r="4.2"/><circle cx="1021.2" cy="1778.1" r="4.2"/><circle cx="975.3" cy="1870.8" r="4.2"/><circle cx="1069.8" cy="1901.0" r="4.2"/><circle cx="861.8" cy="1895.5" r="4.2"/><circle cx="917.1" cy="2001.9" r="4.2"/><circle cx="920.8" cy="1920.2" r="4.2"/><circle cx="1059.6" cy="1814.5" r="4.2"/><circle cx="1065.5" cy="1712.2" r="4.2"/><circle cx="1025.6" cy="1918.1" r="4.2"/><circle cx="941.5" cy="1906.2" r="4.2"/><circle cx="1049.5" cy="1704.5" r="4.2"/><circle cx="903.6" cy="1666.2" r="4.2"/><circle cx="1049.8" cy="1847.8" r="4.2"/><circle cx="869.2" cy="1824.2" r="4.2"/><circle cx="1108.2" cy="1983.8" r="4.2"/><circle cx="1057.5" cy="1892.2" r="4.2"/><circle cx="895.3" cy="1704.8" r="4.2"/><circle cx="876.9" cy="1710.0" r="4.2"/><circle cx="912.8" cy="1675.1" r="4.2"/><circle cx="1073.1" cy="1841.8" r="4.2"/><circle cx="1057.3" cy="1856.5" r="4.2"/><circle cx="929.2" cy="1913.0" r="4.2"/><circle cx="952.3" cy="1936.3" r="4.2"/><circle cx="1049.0" cy="1858.4" r="4.2"/><circle cx="1082.0" cy="1733.8" r="4.2"/><circle cx="1123.0" cy="1732.0" r="4.2"/><circle cx="1113.3" cy="1880.6" r="4.2"/><circle cx="775.2" cy="1788.0" r="4.2"/><circle cx="932.7" cy="1730.3" r="4.2"/><circle cx="947.8" cy="1874.1" r="4.2"/><circle cx="1110.4" cy="1822.8" r="4.2"/><circle cx="1147.8" cy="1711.1" r="4.2"/><circle cx="898.2" cy="1748.1" r="4.2"/><circle cx="957.1" cy="1961.3" r="4.2"/><circle cx="1049.9" cy="1916.0" r="4.2"/><circle cx="1049.6" cy="1707.7" r="4.2"/><circle cx="999.0" cy="1922.4" r="4.2"/><circle cx="1143.7" cy="1674.6" r="4.2"/><circle cx="1019.0" cy="1923.9" r="4.2"/><circle cx="986.5" cy="1977.2" r="4.2"/><circle cx="1022.0" cy="1852.0" r="4.2"/><circle cx="1060.1" cy="1845.9" r="4.2"/><circle cx="935.0" cy="1788.8" r="4.2"/><circle cx="986.1" cy="1766.4" r="4.2"/><circle cx="1046.7" cy="1779.0" r="4.2"/><circle cx="997.7" cy="1768.4" r="4.2"/><circle cx="882.1" cy="1805.4" r="4.2"/><circle cx="1075.2" cy="1807.1" r="4.2"/><circle cx="1126.5" cy="1862.5" r="4.2"/><circle cx="996.5" cy="1788.7" r="4.2"/><circle cx="1125.0" cy="1905.3" r="4.2"/><circle cx="990.6" cy="1752.4" r="4.2"/><circle cx="897.8" cy="1858.5" r="4.2"/><circle cx="929.1" cy="1865.0" r="4.2"/><circle cx="903.5" cy="1642.8" r="4.2"/><circle cx="985.9" cy="1694.5" r="4.2"/><circle cx="1007.7" cy="1969.6" r="4.2"/><circle cx="870.3" cy="1850.9" r="4.2"/><circle cx="1069.7" cy="1688.8" r="4.2"/><circle cx="939.8" cy="1972.4" r="4.2"/><circle cx="923.3" cy="1916.4" r="4.2"/><circle cx="1031.8" cy="1773.8" r="4.2"/><circle cx="1038.1" cy="1803.7" r="4.2"/><circle cx="901.1" cy="1886.9" r="4.2"/><circle cx="897.5" cy="1723.7" r="4.2"/><circle cx="1072.1" cy="1893.2" r="4.2"/><circle cx="1021.2" cy="1672.8" r="4.2"/><circle cx="973.7" cy="1939.9" r="4.2"/><circle cx="1058.8" cy="1758.6" r="4.2"/><circle cx="1110.0" cy="1742.0" r="4.2"/><circle cx="1017.0" cy="1887.0" r="4.2"/><circle cx="1022.4" cy="1822.5" r="4.2"/><circle cx="1104.4" cy="1671.8" r="4.2"/><circle cx="983.3" cy="1904.1" r="4.2"/><circle cx="1095.7" cy="1889.8" r="4.2"/><circle cx="1033.5" cy="1929.4" r="4.2"/><circle cx="926.1" cy="1677.8" r="4.2"/><circle cx="982.4" cy="1838.1" r="4.2"/><circle cx="1076.5" cy="1663.1" r="4.2"/><circle cx="1063.3" cy="1832.0" r="4.2"/><circle cx="990.4" cy="1674.3" r="4.2"/><circle cx="928.0" cy="1832.9" r="4.2"/><circle cx="1040.8" cy="1929.9" r="4.2"/><circle cx="1107.0" cy="1749.6" r="4.2"/><circle cx="1061.9" cy="1891.3" r="4.2"/><circle cx="948.1" cy="1936.2" r="4.2"/><circle cx="926.6" cy="1954.8" r="4.2"/><circle cx="983.9" cy="1766.7" r="4.2"/><circle cx="1108.5" cy="1931.9" r="4.2"/><circle cx="973.9" cy="1838.9" r="4.2"/><circle cx="929.1" cy="1840.1" r="4.2"/><circle cx="1121.7" cy="1668.8" r="4.2"/><circle cx="1028.2" cy="1871.6" r="4.2"/><circle cx="1035.8" cy="1980.9" r="4.2"/><circle cx="1068.4" cy="1687.6" r="4.2"/><circle cx="1065.2" cy="1688.9" r="4.2"/><circle cx="1114.5" cy="1911.8" r="4.2"/><circle cx="1069.8" cy="1886.5" r="4.2"/><circle cx="1050.6" cy="1813.5" r="4.2"/><circle cx="911.5" cy="1962.4" r="4.2"/><circle cx="944.3" cy="1842.2" r="4.2"/><circle cx="974.0" cy="1992.0" r="4.2"/><circle cx="1113.2" cy="1899.2" r="4.2"/><circle cx="1095.3" cy="1686.1" r="4.2"/><circle cx="1043.9" cy="1940.4" r="4.2"/><circle cx="1149.8" cy="1874.5" r="4.2"/><circle cx="989.4" cy="1751.4" r="4.2"/><circle cx="1090.8" cy="1840.6" r="4.2"/><circle cx="890.6" cy="1857.2" r="4.2"/><circle cx="1086.2" cy="1658.4" r="4.2"/><circle cx="904.6" cy="1677.6" r="4.2"/><circle cx="1028.7" cy="1841.5" r="4.2"/><circle cx="1044.0" cy="1807.6" r="4.2"/><circle cx="958.6" cy="1696.3" r="4.2"/><circle cx="1052.8" cy="2001.2" r="4.2"/><circle cx="906.0" cy="1855.3" r="4.2"/><circle cx="898.5" cy="1745.1" r="4.2"/><circle cx="1145.9" cy="1983.1" r="4.2"/><circle cx="915.1" cy="2006.5" r="4.2"/><circle cx="1135.7" cy="1725.6" r="4.2"/><circle cx="1131.9" cy="1960.6" r="4.2"/><circle cx="1084.3" cy="1636.9" r="4.2"/><circle cx="1130.9" cy="1726.0" r="4.2"/><circle cx="975.3" cy="1733.6" r="4.2"/><circle cx="1092.6" cy="1784.2" r="4.2"/><circle cx="936.2" cy="1631.1" r="4.2"/><circle cx="1043.6" cy="1679.7" r="4.2"/><circle cx="1059.1" cy="1855.8" r="4.2"/><circle cx="996.3" cy="1999.7" r="4.2"/><circle cx="802.4" cy="1891.8" r="4.2"/><circle cx="896.6" cy="1749.1" r="4.2"/><circle cx="896.5" cy="1930.2" r="4.2"/><circle cx="1027.2" cy="1769.6" r="4.2"/><circle cx="1005.3" cy="1915.9" r="4.2"/><circle cx="952.6" cy="1888.5" r="4.2"/><circle cx="934.0" cy="1700.2" r="4.2"/><circle cx="984.5" cy="1753.9" r="4.2"/><circle cx="1012.3" cy="1908.4" r="4.2"/><circle cx="1035.0" cy="2006.7" r="4.2"/><circle cx="1101.6" cy="1706.7" r="4.2"/><circle cx="1012.4" cy="1980.5" r="4.2"/><circle cx="787.8" cy="1792.7" r="4.2"/><circle cx="972.8" cy="1868.5" r="4.2"/><circle cx="909.3" cy="1863.7" r="4.2"/><circle cx="873.4" cy="1924.0" r="4.2"/><circle cx="963.2" cy="1643.8" r="4.2"/><circle cx="1004.4" cy="1934.9" r="4.2"/><circle cx="1068.6" cy="1777.2" r="4.2"/><circle cx="1038.7" cy="1683.4" r="4.2"/><circle cx="1088.1" cy="1883.7" r="4.2"/><circle cx="975.1" cy="1637.5" r="4.2"/><circle cx="1115.3" cy="1937.2" r="4.2"/><circle cx="1080.0" cy="1927.6" r="4.2"/><circle cx="1065.5" cy="1932.2" r="4.2"/><circle cx="903.1" cy="2002.7" r="4.2"/><circle cx="961.5" cy="1894.6" r="4.2"/><circle cx="1064.0" cy="1756.9" r="4.2"/><circle cx="1055.4" cy="1894.9" r="4.2"/><circle cx="990.7" cy="1783.9" r="4.2"/><circle cx="891.7" cy="1676.5" r="4.2"/><circle cx="1045.0" cy="1905.7" r="4.2"/><circle cx="1008.1" cy="1715.7" r="4.2"/><circle cx="923.2" cy="1731.4" r="4.2"/><circle cx="966.5" cy="1652.3" r="4.2"/><circle cx="992.3" cy="1870.3" r="4.2"/><circle cx="1070.9" cy="1768.1" r="4.2"/><circle cx="1144.6" cy="1928.7" r="4.2"/><circle cx="1022.7" cy="1679.4" r="4.2"/><circle cx="960.8" cy="1632.3" r="4.2"/><circle cx="918.5" cy="1707.4" r="4.2"/><circle cx="872.3" cy="1721.9" r="4.2"/><circle cx="930.7" cy="1765.7" r="4.2"/><circle cx="960.3" cy="1631.1" r="4.2"/><circle cx="1114.4" cy="1802.4" r="4.2"/><circle cx="1083.9" cy="1966.1" r="4.2"/><circle cx="963.4" cy="1841.6" r="4.2"/><circle cx="1011.6" cy="1863.8" r="4.2"/><circle cx="1083.6" cy="1943.9" r="4.2"/><circle cx="1028.5" cy="1718.1" r="4.2"/><circle cx="1016.0" cy="1870.2" r="4.2"/><circle cx="1096.6" cy="1913.7" r="4.2"/><circle cx="976.1" cy="1693.9" r="4.2"/><circle cx="906.4" cy="1964.2" r="4.2"/><circle cx="997.6" cy="1829.7" r="4.2"/><circle cx="996.7" cy="1829.7" r="4.2"/><circle cx="1131.7" cy="1779.1" r="4.2"/><circle cx="1064.9" cy="1833.1" r="4.2"/><circle cx="1061.3" cy="1711.6" r="4.2"/><circle cx="935.4" cy="1896.4" r="4.2"/><circle cx="1129.5" cy="1798.5" r="4.2"/><circle cx="941.8" cy="1761.2" r="4.2"/><circle cx="974.4" cy="1776.5" r="4.2"/><circle cx="880.3" cy="1762.6" r="4.2"/><circle cx="1054.7" cy="1815.9" r="4.2"/><circle cx="1016.6" cy="1854.2" r="4.2"/><circle cx="976.0" cy="1849.5" r="4.2"/><circle cx="1055.6" cy="1770.9" r="4.2"/><circle cx="881.2" cy="1976.2" r="4.2"/><circle cx="878.2" cy="1967.0" r="4.2"/><circle cx="1074.8" cy="1658.3" r="4.2"/><circle cx="1070.0" cy="1898.7" r="4.2"/><circle cx="954.7" cy="1727.2" r="4.2"/><circle cx="961.7" cy="1648.8" r="4.2"/><circle cx="1122.5" cy="1902.8" r="4.2"/><circle cx="948.0" cy="1807.2" r="4.2"/><circle cx="1045.4" cy="1832.6" r="4.2"/><circle cx="920.9" cy="1799.6" r="4.2"/><circle cx="1055.2" cy="1971.2" r="4.2"/><circle cx="944.4" cy="1669.5" r="4.2"/><circle cx="969.6" cy="1926.2" r="4.2"/><circle cx="879.6" cy="2001.2" r="4.2"/><circle cx="934.1" cy="1978.9" r="4.2"/><circle cx="1105.7" cy="1715.8" r="4.2"/><circle cx="920.9" cy="1996.4" r="4.2"/><circle cx="1035.3" cy="1675.4" r="4.2"/><circle cx="1000.4" cy="1674.6" r="4.2"/><circle cx="1098.2" cy="1633.9" r="4.2"/><circle cx="1141.7" cy="1728.8" r="4.2"/><circle cx="1113.0" cy="1842.0" r="4.2"/><circle cx="1065.4" cy="1825.0" r="4.2"/><circle cx="858.1" cy="1876.2" r="4.2"/><circle cx="1075.0" cy="1836.0" r="4.2"/><circle cx="1138.3" cy="1849.0" r="4.2"/><circle cx="987.7" cy="1952.5" r="4.2"/><circle cx="1000.4" cy="1939.4" r="4.2"/><circle cx="1012.0" cy="1738.8" r="4.2"/><circle cx="966.8" cy="1830.8" r="4.2"/><circle cx="1063.2" cy="1818.3" r="4.2"/><circle cx="1128.6" cy="1723.5" r="4.2"/><circle cx="1030.7" cy="1757.0" r="4.2"/><circle cx="1032.1" cy="1690.4" r="4.2"/><circle cx="1071.4" cy="1886.6" r="4.2"/><circle cx="990.5" cy="1978.5" r="4.2"/><circle cx="1121.2" cy="1806.8" r="4.2"/><circle cx="958.4" cy="1630.8" r="4.2"/><circle cx="953.8" cy="1979.5" r="4.2"/><circle cx="1038.9" cy="1855.0" r="4.2"/><circle cx="1089.8" cy="1856.9" r="4.2"/><circle cx="1040.3" cy="1632.8" r="4.2"/><circle cx="984.6" cy="1989.6" r="4.2"/><circle cx="830.4" cy="1804.9" r="4.2"/><circle cx="1022.2" cy="1873.7" r="4.2"/><circle cx="979.2" cy="1982.9" r="4.2"/><circle cx="1042.3" cy="1803.5" r="4.2"/><circle cx="932.9" cy="1899.5" r="4.2"/><circle cx="1102.7" cy="1923.0" r="4.2"/><circle cx="1039.9" cy="1864.1" r="4.2"/><circle cx="1025.3" cy="1826.7" r="4.2"/><circle cx="1036.9" cy="1678.6" r="4.2"/><circle cx="1095.9" cy="1844.2" r="4.2"/><circle cx="1042.4" cy="1815.7" r="4.2"/><circle cx="982.7" cy="1638.4" r="4.2"/><circle cx="1002.7" cy="1909.5" r="4.2"/><circle cx="1089.3" cy="1834.5" r="4.2"/><circle cx="1091.4" cy="1726.0" r="4.2"/><circle cx="1033.2" cy="1814.7" r="4.2"/><circle cx="1106.6" cy="1656.3" r="4.2"/><circle cx="1033.4" cy="1831.6" r="4.2"/><circle cx="1062.2" cy="1767.2" r="4.2"/><circle cx="1018.2" cy="1776.6" r="4.2"/><circle cx="1004.0" cy="1828.6" r="4.2"/><circle cx="1112.4" cy="1753.1" r="4.2"/><circle cx="1068.3" cy="1874.2" r="4.2"/><circle cx="1113.7" cy="1767.2" r="4.2"/><circle cx="1044.9" cy="1836.4" r="4.2"/><circle cx="1078.8" cy="1867.2" r="4.2"/><circle cx="883.9" cy="2004.7" r="4.2"/><circle cx="920.8" cy="1952.3" r="4.2"/><circle cx="1012.3" cy="1795.9" r="4.2"/><circle cx="954.9" cy="1683.2" r="4.2"/><circle cx="965.5" cy="1931.1" r="4.2"/><circle cx="933.3" cy="1914.8" r="4.2"/><circle cx="932.1" cy="1781.7" r="4.2"/><circle cx="880.1" cy="1989.3" r="4.2"/><circle cx="911.7" cy="1979.6" r="4.2"/><circle cx="937.7" cy="1749.7" r="4.2"/><circle cx="880.2" cy="1882.5" r="4.2"/><circle cx="1041.7" cy="1739.9" r="4.2"/><circle cx="984.6" cy="1900.9" r="4.2"/><circle cx="936.2" cy="1662.4" r="4.2"/><circle cx="1117.2" cy="1718.2" r="4.2"/><circle cx="1031.8" cy="1848.1" r="4.2"/><circle cx="1080.3" cy="1884.7" r="4.2"/><circle cx="1003.8" cy="1877.5" r="4.2"/><circle cx="915.0" cy="1770.3" r="4.2"/><circle cx="869.4" cy="1709.1" r="4.2"/><circle cx="1090.8" cy="1639.3" r="4.2"/><circle cx="1008.2" cy="1794.5" r="4.2"/><circle cx="878.6" cy="1943.2" r="4.2"/><circle cx="1018.8" cy="1839.2" r="4.2"/><circle cx="1083.2" cy="1706.6" r="4.2"/><circle cx="889.5" cy="1932.5" r="4.2"/><circle cx="1013.6" cy="1642.1" r="4.2"/><circle cx="1041.7" cy="1817.3" r="4.2"/><circle cx="952.8" cy="1984.6" r="4.2"/><circle cx="984.6" cy="1788.5" r="4.2"/><circle cx="905.2" cy="1737.2" r="4.2"/><circle cx="1127.0" cy="1947.0" r="4.2"/><circle cx="1002.0" cy="1838.3" r="4.2"/><circle cx="987.6" cy="1636.5" r="4.2"/><circle cx="953.9" cy="1711.7" r="4.2"/><circle cx="1007.4" cy="1898.3" r="4.2"/><circle cx="885.6" cy="1887.5" r="4.2"/><circle cx="1140.2" cy="1988.1" r="4.2"/><circle cx="1077.2" cy="1801.4" r="4.2"/><circle cx="1074.7" cy="1876.8" r="4.2"/><circle cx="1104.3" cy="1642.0" r="4.2"/><circle cx="929.1" cy="1854.8" r="4.2"/><circle cx="1061.7" cy="1834.7" r="4.2"/><circle cx="977.8" cy="1961.8" r="4.2"/><circle cx="955.4" cy="1953.6" r="4.2"/><circle cx="922.1" cy="1788.2" r="4.2"/><circle cx="956.6" cy="1896.2" r="4.2"/><circle cx="1024.3" cy="1816.0" r="4.2"/><circle cx="1136.5" cy="1707.9" r="4.2"/><circle cx="1095.8" cy="1825.0" r="4.2"/><circle cx="876.7" cy="1822.7" r="4.2"/><circle cx="889.8" cy="1971.0" r="4.2"/><circle cx="862.2" cy="1855.3" r="4.2"/><circle cx="970.5" cy="1874.2" r="4.2"/><circle cx="1006.8" cy="1972.9" r="4.2"/><circle cx="1040.0" cy="1935.5" r="4.2"/><circle cx="931.6" cy="1736.6" r="4.2"/><circle cx="1063.1" cy="1734.7" r="4.2"/><circle cx="915.8" cy="1808.8" r="4.2"/><circle cx="1095.0" cy="2001.4" r="4.2"/><circle cx="904.8" cy="1908.4" r="4.2"/><circle cx="1138.9" cy="1948.0" r="4.2"/><circle cx="973.2" cy="1694.1" r="4.2"/><circle cx="990.7" cy="1941.9" r="4.2"/><circle cx="1094.2" cy="1821.4" r="4.2"/><circle cx="1046.7" cy="1850.2" r="4.2"/><circle cx="887.7" cy="1913.5" r="4.2"/><circle cx="1012.8" cy="1835.6" r="4.2"/><circle cx="898.3" cy="1809.8" r="4.2"/><circle cx="872.1" cy="1852.2" r="4.2"/><circle cx="1052.0" cy="1731.4" r="4.2"/><circle cx="1099.2" cy="1962.5" r="4.2"/><circle cx="990.7" cy="1907.1" r="4.2"/><circle cx="925.3" cy="1818.0" r="4.2"/><circle cx="1093.3" cy="1949.0" r="4.2"/><circle cx="1034.3" cy="1822.3" r="4.2"/><circle cx="1025.9" cy="1632.8" r="4.2"/><circle cx="1075.6" cy="1957.3" r="4.2"/><circle cx="1126.1" cy="1770.1" r="4.2"/><circle cx="1071.6" cy="1849.0" r="4.2"/><circle cx="902.5" cy="1678.1" r="4.2"/><circle cx="1053.7" cy="1842.3" r="4.2"/><circle cx="865.0" cy="1809.1" r="4.2"/><circle cx="1074.4" cy="1748.9" r="4.2"/><circle cx="1149.0" cy="1862.7" r="4.2"/><circle cx="891.2" cy="1788.9" r="4.2"/><circle cx="1020.4" cy="1962.7" r="4.2"/><circle cx="965.4" cy="1950.3" r="4.2"/><circle cx="1000.1" cy="1926.3" r="4.2"/><circle cx="1028.4" cy="1653.6" r="4.2"/><circle cx="875.6" cy="1859.2" r="4.2"/><circle cx="946.3" cy="1832.8" r="4.2"/><circle cx="1110.5" cy="1736.4" r="4.2"/><circle cx="1095.1" cy="1976.7" r="4.2"/><circle cx="1143.8" cy="2004.2" r="4.2"/><circle cx="963.9" cy="1635.8" r="4.2"/><circle cx="952.8" cy="1887.0" r="4.2"/><circle cx="1059.1" cy="1647.7" r="4.2"/><circle cx="1028.2" cy="1717.3" r="4.2"/><circle cx="1035.2" cy="1864.3" r="4.2"/><circle cx="1108.9" cy="1923.8" r="4.2"/><circle cx="997.2" cy="1815.6" r="4.2"/><circle cx="975.5" cy="1734.7" r="4.2"/><circle cx="970.9" cy="1958.2" r="4.2"/><circle cx="993.0" cy="1803.4" r="4.2"/><circle cx="1034.2" cy="1962.2" r="4.2"/><circle cx="1070.4" cy="1886.4" r="4.2"/><circle cx="871.9" cy="1748.2" r="4.2"/><circle cx="1051.5" cy="1769.9" r="4.2"/><circle cx="1077.8" cy="1750.6" r="4.2"/><circle cx="1078.8" cy="1786.7" r="4.2"/><circle cx="949.3" cy="1904.5" r="4.2"/><circle cx="1120.5" cy="1918.9" r="4.2"/><circle cx="913.6" cy="1632.6" r="4.2"/><circle cx="867.4" cy="1888.6" r="4.2"/><circle cx="1106.0" cy="1740.8" r="4.2"/><circle cx="1020.9" cy="1836.7" r="4.2"/><circle cx="828.7" cy="1853.1" r="4.2"/><circle cx="1057.2" cy="1697.8" r="4.2"/><circle cx="788.8" cy="1837.9" r="4.2"/><circle cx="1121.8" cy="1927.7" r="4.2"/><circle cx="1141.0" cy="1690.1" r="4.2"/><circle cx="918.1" cy="1933.7" r="4.2"/><circle cx="1072.2" cy="1835.1" r="4.2"/><circle cx="901.2" cy="1645.9" r="4.2"/><circle cx="1047.4" cy="1821.1" r="4.2"/><circle cx="832.5" cy="1903.6" r="4.2"/><circle cx="1045.7" cy="1887.8" r="4.2"/><circle cx="910.6" cy="1825.7" r="4.2"/><circle cx="1123.9" cy="1874.9" r="4.2"/><circle cx="1064.6" cy="1814.7" r="4.2"/><circle cx="980.9" cy="1786.0" r="4.2"/><circle cx="923.0" cy="1713.4" r="4.2"/><circle cx="1056.4" cy="1963.8" r="4.2"/><circle cx="1055.4" cy="1924.5" r="4.2"/><circle cx="1020.9" cy="1760.4" r="4.2"/><circle cx="1024.7" cy="1914.9" r="4.2"/><circle cx="993.5" cy="1855.2" r="4.2"/><circle cx="1026.0" cy="1726.0" r="4.2"/><circle cx="1064.3" cy="1871.5" r="4.2"/><circle cx="807.7" cy="1922.2" r="4.2"/><circle cx="1010.3" cy="1831.4" r="4.2"/><circle cx="932.4" cy="1881.8" r="4.2"/><circle cx="903.5" cy="1708.7" r="4.2"/><circle cx="935.4" cy="1877.9" r="4.2"/><circle cx="932.2" cy="1638.6" r="4.2"/><circle cx="1079.7" cy="1673.1" r="4.2"/><circle cx="972.8" cy="1828.0" r="4.2"/><circle cx="982.4" cy="1992.1" r="4.2"/><circle cx="917.1" cy="1842.7" r="4.2"/><circle cx="933.0" cy="2002.0" r="4.2"/><circle cx="965.2" cy="1914.1" r="4.2"/><circle cx="1052.4" cy="1773.7" r="4.2"/><circle cx="849.5" cy="1862.6" r="4.2"/><circle cx="907.1" cy="1908.3" r="4.2"/><circle cx="1067.5" cy="1686.3" r="4.2"/><circle cx="971.7" cy="1858.6" r="4.2"/><circle cx="1028.3" cy="1796.0" r="4.2"/><circle cx="950.7" cy="1677.0" r="4.2"/><circle cx="910.9" cy="1960.0" r="4.2"/><circle cx="891.8" cy="1942.3" r="4.2"/><circle cx="1014.7" cy="1757.8" r="4.2"/><circle cx="972.9" cy="1842.5" r="4.2"/><circle cx="1072.3" cy="1813.0" r="4.2"/><circle cx="981.5" cy="1679.4" r="4.2"/><circle cx="1144.7" cy="1773.4" r="4.2"/><circle cx="1014.8" cy="1978.9" r="4.2"/><circle cx="1044.3" cy="1849.4" r="4.2"/><circle cx="933.3" cy="1634.2" r="4.2"/><circle cx="1074.3" cy="1815.5" r="4.2"/><circle cx="1092.9" cy="1674.3" r="4.2"/><circle cx="1135.3" cy="1980.9" r="4.2"/><circle cx="954.4" cy="2005.9" r="4.2"/><circle cx="874.7" cy="1928.3" r="4.2"/><circle cx="1125.2" cy="1637.1" r="4.2"/><circle cx="891.1" cy="1949.7" r="4.2"/><circle cx="969.9" cy="1921.8" r="4.2"/><circle cx="1027.1" cy="1991.6" r="4.2"/><circle cx="1024.1" cy="1987.7" r="4.2"/><circle cx="1055.9" cy="1854.7" r="4.2"/><circle cx="1056.8" cy="1938.0" r="4.2"/><circle cx="944.6" cy="1792.9" r="4.2"/><circle cx="1068.3" cy="1963.4" r="4.2"/><circle cx="1042.9" cy="1711.2" r="4.2"/><circle cx="1033.0" cy="1922.7" r="4.2"/><circle cx="1150.1" cy="1901.1" r="4.2"/><circle cx="1061.3" cy="1948.1" r="4.2"/><circle cx="1118.7" cy="1793.8" r="4.2"/><circle cx="916.8" cy="1829.3" r="4.2"/><circle cx="1045.2" cy="1892.1" r="4.2"/><circle cx="1098.2" cy="1636.5" r="4.2"/><circle cx="860.0" cy="1828.1" r="4.2"/><circle cx="977.5" cy="1946.9" r="4.2"/><circle cx="1059.5" cy="1777.4" r="4.2"/><circle cx="988.7" cy="1900.7" r="4.2"/><circle cx="1003.1" cy="1907.5" r="4.2"/><circle cx="1031.7" cy="1970.6" r="4.2"/><circle cx="876.0" cy="1737.9" r="4.2"/><circle cx="964.1" cy="1905.4" r="4.2"/><circle cx="995.9" cy="1803.1" r="4.2"/><circle cx="987.5" cy="1889.4" r="4.2"/><circle cx="1057.6" cy="1864.8" r="4.2"/><circle cx="1022.2" cy="1812.4" r="4.2"/><circle cx="860.9" cy="1875.1" r="4.2"/><circle cx="1085.8" cy="1798.2" r="4.2"/><circle cx="962.1" cy="1770.4" r="4.2"/><circle cx="1035.7" cy="1866.4" r="4.2"/><circle cx="876.2" cy="1981.2" r="4.2"/><circle cx="884.9" cy="1847.9" r="4.2"/><circle cx="1132.2" cy="2000.5" r="4.2"/><circle cx="1108.7" cy="1656.9" r="4.2"/><circle cx="933.0" cy="1872.5" r="4.2"/><circle cx="1004.8" cy="1963.1" r="4.2"/><circle cx="799.4" cy="1863.2" r="4.2"/><circle cx="1052.5" cy="1929.6" r="4.2"/><circle cx="1008.6" cy="1768.0" r="4.2"/><circle cx="1080.9" cy="1995.2" r="4.2"/><circle cx="974.9" cy="1776.2" r="4.2"/><circle cx="973.2" cy="1763.9" r="4.2"/><circle cx="1070.2" cy="1883.8" r="4.2"/><circle cx="1061.7" cy="1810.1" r="4.2"/><circle cx="1077.9" cy="1816.4" r="4.2"/><circle cx="957.2" cy="1907.5" r="4.2"/><circle cx="900.6" cy="1922.7" r="4.2"/><circle cx="1129.4" cy="1923.2" r="4.2"/><circle cx="1058.6" cy="1788.8" r="4.2"/><circle cx="911.6" cy="1814.5" r="4.2"/><circle cx="918.1" cy="1855.2" r="4.2"/><circle cx="913.7" cy="1925.0" r="4.2"/><circle cx="1017.2" cy="2005.7" r="4.2"/><circle cx="1018.2" cy="1943.1" r="4.2"/><circle cx="919.9" cy="2002.2" r="4.2"/><circle cx="1048.7" cy="1943.6" r="4.2"/><circle cx="932.7" cy="1768.2" r="4.2"/><circle cx="929.7" cy="1949.6" r="4.2"/><circle cx="1104.4" cy="1774.0" r="4.2"/><circle cx="1096.1" cy="1872.1" r="4.2"/><circle cx="1016.0" cy="1699.8" r="4.2"/><circle cx="909.0" cy="1846.9" r="4.2"/><circle cx="978.8" cy="1752.6" r="4.2"/><circle cx="1057.3" cy="1771.6" r="4.2"/><circle cx="1092.6" cy="1837.9" r="4.2"/><circle cx="1033.1" cy="1836.8" r="4.2"/><circle cx="929.8" cy="1846.3" r="4.2"/><circle cx="869.0" cy="1644.1" r="4.2"/><circle cx="915.0" cy="1871.3" r="4.2"/><circle cx="1027.2" cy="1686.7" r="4.2"/><circle cx="993.1" cy="1902.9" r="4.2"/><circle cx="792.2" cy="1882.1" r="4.2"/><circle cx="1123.9" cy="1890.4" r="4.2"/><circle cx="928.8" cy="1651.0" r="4.2"/><circle cx="1058.7" cy="1870.3" r="4.2"/><circle cx="967.1" cy="1877.3" r="4.2"/><circle cx="924.3" cy="1945.5" r="4.2"/><circle cx="904.3" cy="1793.3" r="4.2"/><circle cx="1072.5" cy="1700.8" r="4.2"/><circle cx="1018.4" cy="1885.5" r="4.2"/><circle cx="1073.2" cy="1778.5" r="4.2"/><circle cx="847.9" cy="1948.6" r="4.2"/><circle cx="968.3" cy="1931.9" r="4.2"/><circle cx="1055.3" cy="1729.1" r="4.2"/><circle cx="1046.4" cy="1816.0" r="4.2"/><circle cx="1033.2" cy="1807.2" r="4.2"/><circle cx="895.5" cy="1832.3" r="4.2"/><circle cx="944.3" cy="1938.3" r="4.2"/><circle cx="1083.4" cy="1725.3" r="4.2"/><circle cx="979.4" cy="1850.0" r="4.2"/><circle cx="1081.0" cy="1798.9" r="4.2"/><circle cx="1053.7" cy="1864.8" r="4.2"/><circle cx="835.9" cy="1869.8" r="4.2"/><circle cx="869.8" cy="1664.5" r="4.2"/><circle cx="831.1" cy="1781.1" r="4.2"/><circle cx="1105.1" cy="1752.0" r="4.2"/><circle cx="1113.1" cy="1950.1" r="4.2"/><circle cx="967.4" cy="1950.0" r="4.2"/><circle cx="870.5" cy="1641.8" r="4.2"/><circle cx="938.0" cy="1669.7" r="4.2"/><circle cx="884.0" cy="1987.6" r="4.2"/><circle cx="1141.7" cy="1731.8" r="4.2"/><circle cx="936.2" cy="2000.8" r="4.2"/><circle cx="1130.8" cy="1980.8" r="4.2"/><circle cx="1035.3" cy="1904.5" r="4.2"/><circle cx="799.5" cy="1835.1" r="4.2"/><circle cx="1051.5" cy="1791.5" r="4.2"/><circle cx="935.2" cy="1858.9" r="4.2"/><circle cx="1111.1" cy="1752.4" r="4.2"/><circle cx="1025.3" cy="1889.2" r="4.2"/><circle cx="1077.6" cy="1936.2" r="4.2"/><circle cx="1025.9" cy="1665.6" r="4.2"/><circle cx="1108.0" cy="1912.5" r="4.2"/><circle cx="1091.8" cy="1911.8" r="4.2"/><circle cx="1128.7" cy="1892.4" r="4.2"/><circle cx="914.8" cy="1895.4" r="4.2"/><circle cx="837.0" cy="1802.0" r="4.2"/><circle cx="854.5" cy="1982.8" r="4.2"/><circle cx="1012.6" cy="1872.6" r="4.2"/><circle cx="1011.1" cy="1837.0" r="4.2"/><circle cx="1007.7" cy="1721.9" r="4.2"/><circle cx="968.0" cy="1792.1" r="4.2"/><circle cx="884.3" cy="1800.2" r="4.2"/><circle cx="971.0" cy="1913.8" r="4.2"/><circle cx="1094.5" cy="2006.3" r="4.2"/><circle cx="999.4" cy="1674.7" r="4.2"/><circle cx="913.4" cy="1908.2" r="4.2"/><circle cx="1036.6" cy="1698.2" r="4.2"/><circle cx="1120.2" cy="1695.8" r="4.2"/><circle cx="1006.8" cy="2005.2" r="4.2"/><circle cx="1035.3" cy="1803.9" r="4.2"/><circle cx="1038.9" cy="1842.5" r="4.2"/><circle cx="914.1" cy="1802.8" r="4.2"/><circle cx="855.9" cy="1826.3" r="4.2"/><circle cx="923.6" cy="1930.7" r="4.2"/><circle cx="1032.3" cy="1662.2" r="4.2"/><circle cx="1027.4" cy="1853.6" r="4.2"/><circle cx="941.4" cy="1899.1" r="4.2"/><circle cx="927.0" cy="1714.7" r="4.2"/><circle cx="936.0" cy="1856.1" r="4.2"/><circle cx="1107.0" cy="1912.8" r="4.2"/><circle cx="964.7" cy="1651.1" r="4.2"/><circle cx="989.6" cy="1717.4" r="4.2"/><circle cx="985.5" cy="1767.4" r="4.2"/><circle cx="894.6" cy="1652.7" r="4.2"/><circle cx="988.7" cy="1974.3" r="4.2"/><circle cx="950.4" cy="1926.9" r="4.2"/><circle cx="886.4" cy="1700.4" r="4.2"/><circle cx="1047.5" cy="1898.5" r="4.2"/><circle cx="941.9" cy="1641.6" r="4.2"/><circle cx="993.4" cy="1732.2" r="4.2"/><circle cx="949.9" cy="1739.1" r="4.2"/><circle cx="1026.2" cy="1866.1" r="4.2"/><circle cx="1141.8" cy="1670.1" r="4.2"/><circle cx="1010.0" cy="1727.1" r="4.2"/><circle cx="942.2" cy="1964.4" r="4.2"/><circle cx="955.4" cy="1656.0" r="4.2"/><circle cx="1082.7" cy="1793.7" r="4.2"/><circle cx="1033.1" cy="1672.5" r="4.2"/><circle cx="1097.6" cy="1728.9" r="4.2"/><circle cx="904.7" cy="1838.4" r="4.2"/><circle cx="912.2" cy="1956.8" r="4.2"/><circle cx="1031.1" cy="1696.7" r="4.2"/><circle cx="875.9" cy="1974.5" r="4.2"/><circle cx="1134.2" cy="1843.7" r="4.2"/><circle cx="982.3" cy="1981.0" r="4.2"/><circle cx="1085.6" cy="1843.6" r="4.2"/><circle cx="1066.0" cy="1885.9" r="4.2"/><circle cx="1116.4" cy="1883.1" r="4.2"/><circle cx="1088.0" cy="1854.2" r="4.2"/><circle cx="1077.8" cy="1638.0" r="4.2"/><circle cx="868.7" cy="1859.2" r="4.2"/><circle cx="1003.5" cy="1968.3" r="4.2"/><circle cx="1089.8" cy="1806.6" r="4.2"/><circle cx="774.2" cy="1967.7" r="4.2"/><circle cx="885.8" cy="1668.7" r="4.2"/><circle cx="1081.6" cy="1930.2" r="4.2"/><circle cx="995.7" cy="1950.9" r="4.2"/><circle cx="975.7" cy="1762.7" r="4.2"/><circle cx="1089.4" cy="1876.4" r="4.2"/><circle cx="927.1" cy="1918.9" r="4.2"/><circle cx="965.1" cy="1887.6" r="4.2"/><circle cx="1056.7" cy="1959.0" r="4.2"/><circle cx="1046.3" cy="1772.7" r="4.2"/><circle cx="939.6" cy="1806.1" r="4.2"/><circle cx="1109.5" cy="1684.7" r="4.2"/><circle cx="997.2" cy="1720.7" r="4.2"/><circle cx="1033.4" cy="1680.6" r="4.2"/><circle cx="980.8" cy="1981.5" r="4.2"/><circle cx="1021.7" cy="1941.9" r="4.2"/><circle cx="1025.7" cy="1868.4" r="4.2"/><circle cx="946.0" cy="1976.5" r="4.2"/><circle cx="1112.8" cy="2001.6" r="4.2"/><circle cx="920.5" cy="1926.4" r="4.2"/><circle cx="1140.8" cy="1710.0" r="4.2"/><circle cx="1123.6" cy="1690.0" r="4.2"/><circle cx="940.4" cy="1909.1" r="4.2"/><circle cx="872.7" cy="1781.4" r="4.2"/><circle cx="922.9" cy="1913.2" r="4.2"/><circle cx="1018.1" cy="1671.5" r="4.2"/><circle cx="941.7" cy="1960.9" r="4.2"/><circle cx="943.6" cy="1999.6" r="4.2"/><circle cx="978.0" cy="1874.4" r="4.2"/><circle cx="984.5" cy="1904.0" r="4.2"/><circle cx="1037.5" cy="1777.0" r="4.2"/><circle cx="911.4" cy="1752.7" r="4.2"/><circle cx="1064.7" cy="1827.8" r="4.2"/><circle cx="1040.3" cy="1655.1" r="4.2"/><circle cx="928.3" cy="1759.6" r="4.2"/><circle cx="1064.8" cy="1804.1" r="4.2"/><circle cx="1054.5" cy="1816.2" r="4.2"/><circle cx="988.7" cy="1840.6" r="4.2"/><circle cx="987.8" cy="1980.3" r="4.2"/><circle cx="1054.1" cy="1697.1" r="4.2"/><circle cx="1062.4" cy="1904.1" r="4.2"/><circle cx="1122.6" cy="1882.1" r="4.2"/><circle cx="1050.8" cy="1861.7" r="4.2"/><circle cx="1035.9" cy="1916.6" r="4.2"/><circle cx="904.2" cy="1702.1" r="4.2"/><circle cx="959.1" cy="1684.5" r="4.2"/><circle cx="928.2" cy="1897.7" r="4.2"/><circle cx="954.9" cy="1710.3" r="4.2"/><circle cx="1100.7" cy="1768.2" r="4.2"/><circle cx="913.6" cy="1898.5" r="4.2"/><circle cx="1003.8" cy="1787.3" r="4.2"/><circle cx="1061.7" cy="1794.7" r="4.2"/><circle cx="1037.2" cy="1769.8" r="4.2"/><circle cx="913.1" cy="1730.4" r="4.2"/><circle cx="1062.2" cy="1793.2" r="4.2"/><circle cx="1104.1" cy="1688.1" r="4.2"/><circle cx="1088.2" cy="1789.0" r="4.2"/><circle cx="1089.1" cy="1977.1" r="4.2"/><circle cx="933.8" cy="1944.3" r="4.2"/><circle cx="981.9" cy="1709.8" r="4.2"/><circle cx="1103.7" cy="1788.4" r="4.2"/><circle cx="989.7" cy="1741.3" r="4.2"/><circle cx="1042.1" cy="1840.9" r="4.2"/><circle cx="906.9" cy="1850.7" r="4.2"/><circle cx="949.8" cy="1848.8" r="4.2"/><circle cx="1002.7" cy="1834.3" r="4.2"/><circle cx="818.9" cy="1786.2" r="4.2"/><circle cx="980.5" cy="1853.6" r="4.2"/><circle cx="997.5" cy="1942.0" r="4.2"/><circle cx="938.3" cy="1690.5" r="4.2"/><circle cx="1043.6" cy="1929.5" r="4.2"/><circle cx="969.8" cy="1986.3" r="4.2"/><circle cx="1066.1" cy="1718.0" r="4.2"/><circle cx="988.0" cy="1681.2" r="4.2"/><circle cx="998.7" cy="1885.0" r="4.2"/><circle cx="1123.0" cy="1705.9" r="4.2"/><circle cx="977.1" cy="1762.5" r="4.2"/><circle cx="923.5" cy="1962.6" r="4.2"/><circle cx="1035.6" cy="1843.9" r="4.2"/><circle cx="1118.7" cy="1726.3" r="4.2"/><circle cx="901.5" cy="1837.6" r="4.2"/><circle cx="1083.6" cy="1957.2" r="4.2"/><circle cx="890.8" cy="1990.6" r="4.2"/><circle cx="1065.2" cy="1846.2" r="4.2"/><circle cx="937.9" cy="1798.9" r="4.2"/><circle cx="877.7" cy="1959.8" r="4.2"/><circle cx="1112.8" cy="1932.7" r="4.2"/><circle cx="888.1" cy="1630.6" r="4.2"/><circle cx="879.9" cy="1983.1" r="4.2"/><circle cx="1030.5" cy="1737.8" r="4.2"/><circle cx="930.4" cy="1926.5" r="4.2"/><circle cx="1148.5" cy="1756.6" r="4.2"/><circle cx="920.6" cy="1960.6" r="4.2"/><circle cx="970.1" cy="1856.1" r="4.2"/><circle cx="1141.5" cy="1843.0" r="4.2"/><circle cx="1019.8" cy="1905.4" r="4.2"/><circle cx="1029.2" cy="1775.0" r="4.2"/><circle cx="906.9" cy="1717.7" r="4.2"/><circle cx="983.2" cy="1694.2" r="4.2"/><circle cx="886.5" cy="1770.2" r="4.2"/><circle cx="971.6" cy="1823.2" r="4.2"/><circle cx="874.1" cy="1911.5" r="4.2"/><circle cx="869.0" cy="1980.9" r="4.2"/><circle cx="1069.7" cy="1997.4" r="4.2"/><circle cx="1008.5" cy="1967.1" r="4.2"/><circle cx="925.0" cy="1657.2" r="4.2"/><circle cx="856.1" cy="1862.3" r="4.2"/><circle cx="964.0" cy="1938.3" r="4.2"/><circle cx="1052.1" cy="1885.8" r="4.2"/><circle cx="901.8" cy="1866.1" r="4.2"/><circle cx="1025.7" cy="1811.9" r="4.2"/><circle cx="1081.9" cy="1838.9" r="4.2"/><circle cx="937.4" cy="1726.5" r="4.2"/><circle cx="1042.4" cy="1703.6" r="4.2"/><circle cx="929.6" cy="1852.0" r="4.2"/><circle cx="965.7" cy="1978.6" r="4.2"/><circle cx="942.5" cy="1727.9" r="4.2"/><circle cx="1018.3" cy="1918.2" r="4.2"/><circle cx="1041.3" cy="1920.6" r="4.2"/><circle cx="1109.4" cy="1776.9" r="4.2"/><circle cx="923.2" cy="1811.4" r="4.2"/><circle cx="1122.5" cy="1830.2" r="4.2"/><circle cx="1045.7" cy="1953.8" r="4.2"/><circle cx="1025.4" cy="1651.5" r="4.2"/><circle cx="993.9" cy="1786.9" r="4.2"/><circle cx="918.7" cy="1821.3" r="4.2"/><circle cx="1023.7" cy="1972.3" r="4.2"/><circle cx="1121.3" cy="1930.6" r="4.2"/><circle cx="909.9" cy="1890.3" r="4.2"/><circle cx="870.7" cy="1703.0" r="4.2"/><circle cx="964.5" cy="1911.3" r="4.2"/><circle cx="940.8" cy="1826.2" r="4.2"/><circle cx="865.5" cy="1759.6" r="4.2"/><circle cx="1023.2" cy="1721.1" r="4.2"/><circle cx="1068.5" cy="1703.5" r="4.2"/><circle cx="1089.2" cy="1934.0" r="4.2"/><circle cx="956.4" cy="1852.1" r="4.2"/><circle cx="943.0" cy="1845.3" r="4.2"/><circle cx="1066.0" cy="1794.0" r="4.2"/><circle cx="945.0" cy="1923.2" r="4.2"/><circle cx="811.2" cy="1851.1" r="4.2"/><circle cx="1050.6" cy="1757.7" r="4.2"/><circle cx="886.8" cy="1909.4" r="4.2"/><circle cx="1077.2" cy="1857.9" r="4.2"/><circle cx="1006.9" cy="2001.5" r="4.2"/><circle cx="949.3" cy="1852.6" r="4.2"/><circle cx="1083.2" cy="1993.9" r="4.2"/><circle cx="1019.3" cy="1985.6" r="4.2"/><circle cx="919.1" cy="1735.0" r="4.2"/><circle cx="1069.0" cy="1791.3" r="4.2"/><circle cx="1023.6" cy="1854.7" r="4.2"/><circle cx="1029.0" cy="1850.4" r="4.2"/><circle cx="1010.1" cy="1758.7" r="4.2"/><circle cx="855.2" cy="1807.5" r="4.2"/><circle cx="1077.2" cy="1855.1" r="4.2"/><circle cx="919.3" cy="1709.6" r="4.2"/><circle cx="1035.0" cy="1747.7" r="4.2"/><circle cx="1046.6" cy="1803.0" r="4.2"/><circle cx="952.6" cy="1871.4" r="4.2"/><circle cx="926.9" cy="1774.2" r="4.2"/><circle cx="912.2" cy="1833.2" r="4.2"/><circle cx="957.2" cy="1794.7" r="4.2"/><circle cx="972.8" cy="1818.1" r="4.2"/><circle cx="933.4" cy="2000.1" r="4.2"/><circle cx="918.6" cy="1780.5" r="4.2"/><circle cx="879.5" cy="1842.8" r="4.2"/><circle cx="814.9" cy="1889.1" r="4.2"/><circle cx="1040.5" cy="1650.3" r="4.2"/><circle cx="1102.1" cy="1824.3" r="4.2"/><circle cx="1141.5" cy="1925.7" r="4.2"/><circle cx="1040.9" cy="1775.3" r="4.2"/><circle cx="892.3" cy="1715.6" r="4.2"/><circle cx="1126.2" cy="1946.4" r="4.2"/><circle cx="1087.9" cy="1872.0" r="4.2"/><circle cx="916.7" cy="1893.2" r="4.2"/><circle cx="962.8" cy="1796.3" r="4.2"/><circle cx="1014.6" cy="1926.9" r="4.2"/><circle cx="1130.7" cy="1734.1" r="4.2"/><circle cx="944.5" cy="1964.2" r="4.2"/><circle cx="919.5" cy="1881.1" r="4.2"/><circle cx="1013.7" cy="1683.0" r="4.2"/><circle cx="1096.5" cy="1700.1" r="4.2"/><circle cx="882.1" cy="1824.3" r="4.2"/><circle cx="1006.9" cy="1622.6" r="4.2"/><circle cx="1131.3" cy="1610.9" r="4.2"/><circle cx="881.9" cy="1599.4" r="4.2"/><circle cx="948.3" cy="1625.2" r="4.2"/><circle cx="1074.5" cy="1624.5" r="4.2"/><circle cx="1034.4" cy="1621.7" r="4.2"/><circle cx="1053.4" cy="1601.8" r="4.2"/><circle cx="885.2" cy="1625.2" r="4.2"/><circle cx="1023.0" cy="1629.3" r="4.2"/><circle cx="935.8" cy="1598.6" r="4.2"/><circle cx="1124.6" cy="1621.7" r="4.2"/><circle cx="1123.0" cy="1629.4" r="4.2"/><circle cx="1064.2" cy="1602.0" r="4.2"/><circle cx="997.3" cy="1626.0" r="4.2"/><circle cx="938.4" cy="1606.8" r="4.2"/><circle cx="1072.5" cy="1623.3" r="4.2"/><circle cx="891.6" cy="1616.0" r="4.2"/><circle cx="1140.8" cy="1605.2" r="4.2"/><circle cx="1014.0" cy="1628.1" r="4.2"/><circle cx="882.2" cy="1622.8" r="4.2"/><circle cx="1018.5" cy="1622.7" r="4.2"/><circle cx="902.8" cy="1627.2" r="4.2"/><circle cx="1001.1" cy="1613.8" r="4.2"/><circle cx="958.4" cy="1629.1" r="4.2"/><circle cx="1103.0" cy="1611.6" r="4.2"/><circle cx="919.5" cy="1624.1" r="4.2"/><circle cx="1107.5" cy="1629.3" r="4.2"/><circle cx="1140.6" cy="1617.7" r="4.2"/><circle cx="910.6" cy="1628.8" r="4.2"/><circle cx="921.5" cy="1608.9" r="4.2"/><circle cx="963.5" cy="1615.8" r="4.2"/><circle cx="1121.0" cy="1616.2" r="4.2"/><circle cx="970.2" cy="1616.7" r="4.2"/><circle cx="907.7" cy="1598.6" r="4.2"/><circle cx="1052.6" cy="1614.6" r="4.2"/><circle cx="891.2" cy="1629.0" r="4.2"/><circle cx="945.8" cy="1612.4" r="4.2"/><circle cx="908.4" cy="1610.9" r="4.2"/><circle cx="994.3" cy="1608.0" r="4.2"/><circle cx="1082.0" cy="1613.9" r="4.2"/><circle cx="1005.2" cy="1628.1" r="4.2"/><circle cx="1005.7" cy="1625.4" r="4.2"/><circle cx="1021.7" cy="1623.7" r="4.2"/><circle cx="1044.5" cy="1178.8" r="4.2"/><circle cx="715.8" cy="1351.5" r="4.2"/><circle cx="683.8" cy="1379.5" r="4.2"/><circle cx="736.0" cy="1475.8" r="4.2"/><circle cx="856.0" cy="1271.6" r="4.2"/><circle cx="982.4" cy="1275.2" r="4.2"/><circle cx="984.1" cy="1286.5" r="4.2"/><circle cx="898.0" cy="1312.1" r="4.2"/><circle cx="955.8" cy="1329.4" r="4.2"/><circle cx="989.5" cy="1328.8" r="4.2"/><circle cx="956.4" cy="1333.8" r="4.2"/><circle cx="989.5" cy="1331.2" r="4.2"/><circle cx="963.9" cy="1348.1" r="4.2"/><circle cx="912.6" cy="1355.0" r="4.2"/><circle cx="926.4" cy="1361.2" r="4.2"/><circle cx="932.6" cy="1369.4" r="4.2"/><circle cx="803.9" cy="1369.4" r="4.2"/><circle cx="845.1" cy="1390.0" r="4.2"/><circle cx="779.5" cy="1396.9" r="4.2"/><circle cx="846.4" cy="1420.6" r="4.2"/><circle cx="885.5" cy="1433.5" r="4.2"/><circle cx="900.1" cy="1433.5" r="4.2"/><circle cx="876.4" cy="1440.4" r="4.2"/><circle cx="901.4" cy="1440.0" r="4.2"/><circle cx="890.1" cy="1446.9" r="4.2"/><circle cx="950.5" cy="1437.5" r="4.2"/><circle cx="980.1" cy="1433.8" r="4.2"/><circle cx="879.5" cy="1456.5" r="4.2"/><circle cx="926.4" cy="1463.1" r="4.2"/><circle cx="967.6" cy="1460.0" r="4.2"/><circle cx="903.2" cy="1466.2" r="4.2"/><circle cx="863.9" cy="1475.6" r="4.2"/><circle cx="934.5" cy="1477.5" r="4.2"/><circle cx="954.5" cy="1475.6" r="4.2"/><circle cx="989.5" cy="1473.8" r="4.2"/><circle cx="890.8" cy="1479.4" r="4.2"/><circle cx="1003.4" cy="1214.4" r="4.2"/><circle cx="1040.2" cy="1241.2" r="4.2"/><circle cx="1099.2" cy="1233.5" r="4.2"/><circle cx="1153.4" cy="1237.5" r="4.2"/><circle cx="1162.1" cy="1233.5" r="4.2"/><circle cx="1167.8" cy="1233.5" r="4.2"/><circle cx="1174.6" cy="1245.0" r="4.2"/><circle cx="1187.8" cy="1245.0" r="4.2"/><circle cx="1195.2" cy="1245.0" r="4.2"/><circle cx="1207.8" cy="1233.5" r="4.2"/><circle cx="1209.0" cy="1248.8" r="4.2"/><circle cx="1188.6" cy="1256.2" r="4.2"/><circle cx="1207.8" cy="1264.0" r="4.2"/><circle cx="1057.1" cy="1260.0" r="4.2"/><circle cx="1063.6" cy="1267.9" r="4.2"/><circle cx="1099.0" cy="1275.0" r="4.2"/><circle cx="1097.8" cy="1279.4" r="4.2"/><circle cx="1154.0" cy="1271.5" r="4.2"/><circle cx="1181.1" cy="1282.8" r="4.2"/><circle cx="1202.1" cy="1286.5" r="4.2"/><circle cx="1192.5" cy="1293.8" r="4.2"/><circle cx="1167.1" cy="1288.8" r="4.2"/><circle cx="1167.1" cy="1293.8" r="4.2"/><circle cx="1045.6" cy="1290.0" r="4.2"/><circle cx="1085.9" cy="1290.0" r="4.2"/><circle cx="1038.6" cy="1304.8" r="4.2"/><circle cx="1057.1" cy="1308.4" r="4.2"/><circle cx="1127.1" cy="1308.4" r="4.2"/><circle cx="998.4" cy="1319.1" r="4.2"/><circle cx="1020.6" cy="1319.1" r="4.2"/><circle cx="1034.6" cy="1323.1" r="4.2"/><circle cx="1070.6" cy="1322.5" r="4.2"/><circle cx="1118.4" cy="1319.1" r="4.2"/><circle cx="1122.8" cy="1325.0" r="4.2"/><circle cx="1130.2" cy="1326.2" r="4.2"/><circle cx="1153.4" cy="1319.1" r="4.2"/><circle cx="1173.4" cy="1319.1" r="4.2"/><circle cx="1165.2" cy="1326.2" r="4.2"/><circle cx="1002.1" cy="1328.8" r="4.2"/><circle cx="1078.4" cy="1328.8" r="4.2"/><circle cx="1184.2" cy="1186.9" r="4.2"/><circle cx="1217.2" cy="1311.9" r="4.2"/><circle cx="1002.1" cy="1331.2" r="4.2"/><circle cx="1009.0" cy="1337.5" r="4.2"/><circle cx="1003.4" cy="1341.2" r="4.2"/><circle cx="1028.4" cy="1340.6" r="4.2"/><circle cx="1060.2" cy="1337.5" r="4.2"/><circle cx="1069.0" cy="1337.5" r="4.2"/><circle cx="1078.0" cy="1331.2" r="4.2"/><circle cx="1104.0" cy="1333.8" r="4.2"/><circle cx="1109.0" cy="1333.8" r="4.2"/><circle cx="1130.2" cy="1341.0" r="4.2"/><circle cx="1140.9" cy="1337.5" r="4.2"/><circle cx="1203.4" cy="1341.2" r="4.2"/><circle cx="1008.8" cy="1354.4" r="4.2"/><circle cx="1008.8" cy="1359.4" r="4.2"/><circle cx="1078.0" cy="1351.5" r="4.2"/><circle cx="1138.4" cy="1347.5" r="4.2"/><circle cx="1144.0" cy="1354.4" r="4.2"/><circle cx="1154.0" cy="1354.4" r="4.2"/><circle cx="1154.0" cy="1358.8" r="4.2"/><circle cx="1160.2" cy="1351.2" r="4.2"/><circle cx="1166.5" cy="1348.1" r="4.2"/><circle cx="1133.4" cy="1358.8" r="4.2"/><circle cx="1049.6" cy="1362.2" r="4.2"/><circle cx="1061.5" cy="1365.6" r="4.2"/><circle cx="1067.8" cy="1372.5" r="4.2"/><circle cx="1026.5" cy="1365.6" r="4.2"/><circle cx="1169.0" cy="1369.4" r="4.2"/><circle cx="1206.5" cy="1358.8" r="4.2"/><circle cx="1030.2" cy="1376.2" r="4.2"/><circle cx="1025.2" cy="1386.2" r="4.2"/><circle cx="1017.8" cy="1393.1" r="4.2"/><circle cx="1030.5" cy="1400.0" r="4.2"/><circle cx="1057.8" cy="1383.1" r="4.2"/><circle cx="1082.8" cy="1383.1" r="4.2"/><circle cx="1111.5" cy="1379.8" r="4.2"/><circle cx="1130.2" cy="1390.0" r="4.2"/><circle cx="1147.8" cy="1390.0" r="4.2"/><circle cx="1154.0" cy="1390.0" r="4.2"/><circle cx="1149.0" cy="1396.2" r="4.2"/><circle cx="1105.2" cy="1400.0" r="4.2"/><circle cx="1171.5" cy="1396.9" r="4.2"/><circle cx="1165.9" cy="1403.8" r="4.2"/><circle cx="1204.0" cy="1403.8" r="4.2"/><circle cx="1207.8" cy="1406.9" r="4.2"/><circle cx="1044.0" cy="1413.1" r="4.2"/><circle cx="1045.9" cy="1420.6" r="4.2"/><circle cx="1075.2" cy="1420.2" r="4.2"/><circle cx="1138.4" cy="1416.2" r="4.2"/><circle cx="1135.2" cy="1423.8" r="4.2"/><circle cx="1155.2" cy="1426.9" r="4.2"/><circle cx="1157.8" cy="1426.9" r="4.2"/><circle cx="1185.2" cy="1420.0" r="4.2"/><circle cx="1190.2" cy="1425.0" r="4.2"/><circle cx="1194.0" cy="1430.0" r="4.2"/><circle cx="1007.8" cy="1423.8" r="4.2"/><circle cx="1038.4" cy="1427.5" r="4.2"/><circle cx="1067.8" cy="1430.0" r="4.2"/><circle cx="1072.1" cy="1433.8" r="4.2"/><circle cx="1080.9" cy="1434.4" r="4.2"/><circle cx="1003.4" cy="1433.1" r="4.2"/><circle cx="997.8" cy="1437.5" r="4.2"/><circle cx="997.1" cy="1443.1" r="4.2"/><circle cx="1142.8" cy="1440.0" r="4.2"/><circle cx="1030.2" cy="1446.2" r="4.2"/><circle cx="1035.9" cy="1449.4" r="4.2"/><circle cx="1027.8" cy="1456.2" r="4.2"/><circle cx="1034.6" cy="1463.1" r="4.2"/><circle cx="1025.9" cy="1465.6" r="4.2"/><circle cx="1057.1" cy="1446.9" r="4.2"/><circle cx="1072.1" cy="1450.0" r="4.2"/><circle cx="1078.4" cy="1460.0" r="4.2"/><circle cx="1004.6" cy="1456.5" r="4.2"/><circle cx="1101.5" cy="1456.2" r="4.2"/><circle cx="1107.8" cy="1453.1" r="4.2"/><circle cx="1099.0" cy="1462.5" r="4.2"/><circle cx="1100.2" cy="1466.2" r="4.2"/><circle cx="1121.5" cy="1450.0" r="4.2"/><circle cx="1119.0" cy="1456.2" r="4.2"/><circle cx="1125.2" cy="1456.2" r="4.2"/><circle cx="1134.6" cy="1449.8" r="4.2"/><circle cx="1144.0" cy="1456.2" r="4.2"/><circle cx="1150.2" cy="1456.2" r="4.2"/><circle cx="1156.5" cy="1446.9" r="4.2"/><circle cx="1165.2" cy="1453.1" r="4.2"/><circle cx="1176.5" cy="1446.9" r="4.2"/><circle cx="1170.2" cy="1463.1" r="4.2"/><circle cx="1119.0" cy="1466.2" r="4.2"/><circle cx="1135.2" cy="1468.8" r="4.2"/><circle cx="1136.5" cy="1473.8" r="4.2"/><circle cx="1147.8" cy="1465.6" r="4.2"/><circle cx="1145.9" cy="1472.5" r="4.2"/><circle cx="1043.4" cy="1469.4" r="4.2"/><circle cx="1050.2" cy="1475.6" r="4.2"/><circle cx="1076.5" cy="1472.5" r="4.2"/><circle cx="1093.4" cy="1475.6" r="4.2"/><circle cx="1114.6" cy="1475.6" r="4.2"/><circle cx="1189.0" cy="1478.1" r="4.2"/><circle cx="1195.2" cy="1478.1" r="4.2"/><circle cx="1025.2" cy="1478.1" r="4.2"/><circle cx="1010.2" cy="1479.4" r="4.2"/><circle cx="1213.5" cy="1337.5" r="4.2"/><circle cx="1245.0" cy="1383.1" r="4.2"/><circle cx="1242.0" cy="1400.2" r="4.2"/><circle cx="1233.5" cy="1410.2" r="4.2"/><circle cx="1226.2" cy="1417.1" r="4.2"/><circle cx="1217.5" cy="1430.2" r="4.2"/><circle cx="1209.5" cy="1406.2" r="4.2"/><circle cx="1291.6" cy="1463.1" r="4.2"/><circle cx="707.9" cy="1494.8" r="4.2"/><circle cx="754.6" cy="1491.9" r="4.2"/><circle cx="633.1" cy="1534.6" r="4.2"/><circle cx="742.8" cy="1543.8" r="4.2"/><circle cx="677.5" cy="1558.5" r="4.2"/><circle cx="748.4" cy="1558.5" r="4.2"/><circle cx="725.0" cy="1575.9" r="4.2"/><circle cx="739.0" cy="1598.5" r="4.2"/><circle cx="781.4" cy="1488.5" r="4.2"/><circle cx="809.2" cy="1485.6" r="4.2"/><circle cx="845.1" cy="1513.5" r="4.2"/><circle cx="853.5" cy="1528.8" r="4.2"/><circle cx="866.0" cy="1504.1" r="4.2"/><circle cx="793.9" cy="1552.5" r="4.2"/><circle cx="831.0" cy="1555.6" r="4.2"/><circle cx="822.2" cy="1561.5" r="4.2"/><circle cx="858.2" cy="1555.6" r="4.2"/><circle cx="779.8" cy="1579.0" r="4.2"/><circle cx="803.9" cy="1587.5" r="4.2"/><circle cx="806.0" cy="1598.8" r="4.2"/><circle cx="846.8" cy="1587.5" r="4.2"/><circle cx="852.6" cy="1596.0" r="4.2"/><circle cx="846.4" cy="1610.0" r="4.2"/><circle cx="833.0" cy="1618.1" r="4.2"/><circle cx="830.5" cy="1626.2" r="4.2"/><circle cx="865.5" cy="1615.2" r="4.2"/><circle cx="867.6" cy="1628.1" r="4.2"/><circle cx="891.4" cy="1482.2" r="4.2"/><circle cx="891.8" cy="1504.0" r="4.2"/><circle cx="890.1" cy="1513.1" r="4.2"/><circle cx="893.9" cy="1513.1" r="4.2"/><circle cx="887.6" cy="1522.5" r="4.2"/><circle cx="898.0" cy="1519.4" r="4.2"/><circle cx="914.2" cy="1494.8" r="4.2"/><circle cx="909.2" cy="1510.0" r="4.2"/><circle cx="912.0" cy="1522.5" r="4.2"/><circle cx="874.5" cy="1534.4" r="4.2"/><circle cx="884.5" cy="1543.8" r="4.2"/><circle cx="897.0" cy="1558.1" r="4.2"/><circle cx="902.0" cy="1565.0" r="4.2"/><circle cx="880.5" cy="1558.5" r="4.2"/><circle cx="867.6" cy="1566.9" r="4.2"/><circle cx="893.0" cy="1573.1" r="4.2"/><circle cx="890.1" cy="1581.2" r="4.2"/><circle cx="883.2" cy="1586.2" r="4.2"/><circle cx="887.6" cy="1590.0" r="4.2"/><circle cx="903.2" cy="1578.8" r="4.2"/><circle cx="905.8" cy="1590.6" r="4.2"/><circle cx="922.0" cy="1572.5" r="4.2"/><circle cx="924.5" cy="1578.8" r="4.2"/><circle cx="914.5" cy="1578.8" r="4.2"/><circle cx="878.9" cy="1601.2" r="4.2"/><circle cx="900.5" cy="1601.2" r="4.2"/><circle cx="914.5" cy="1610.0" r="4.2"/><circle cx="892.0" cy="1620.6" r="4.2"/><circle cx="882.0" cy="1625.6" r="4.2"/><circle cx="909.5" cy="1622.5" r="4.2"/><circle cx="933.9" cy="1481.2" r="4.2"/><circle cx="955.8" cy="1503.8" r="4.2"/><circle cx="944.2" cy="1513.5" r="4.2"/><circle cx="979.5" cy="1491.2" r="4.2"/><circle cx="977.0" cy="1487.5" r="4.2"/><circle cx="989.5" cy="1483.8" r="4.2"/><circle cx="977.0" cy="1506.9" r="4.2"/><circle cx="983.9" cy="1504.4" r="4.2"/><circle cx="980.8" cy="1523.1" r="4.2"/><circle cx="989.5" cy="1517.5" r="4.2"/><circle cx="958.9" cy="1528.5" r="4.2"/><circle cx="968.2" cy="1535.0" r="4.2"/><circle cx="937.0" cy="1546.2" r="4.2"/><circle cx="935.1" cy="1555.6" r="4.2"/><circle cx="960.5" cy="1546.9" r="4.2"/><circle cx="990.8" cy="1543.8" r="4.2"/><circle cx="968.2" cy="1561.9" r="4.2"/><circle cx="945.8" cy="1573.1" r="4.2"/><circle cx="977.0" cy="1573.1" r="4.2"/><circle cx="983.2" cy="1567.5" r="4.2"/><circle cx="990.8" cy="1550.0" r="4.2"/><circle cx="987.0" cy="1584.4" r="4.2"/><circle cx="990.8" cy="1578.8" r="4.2"/><circle cx="943.2" cy="1587.5" r="4.2"/><circle cx="957.0" cy="1585.0" r="4.2"/><circle cx="979.5" cy="1593.1" r="4.2"/><circle cx="973.2" cy="1598.8" r="4.2"/><circle cx="952.0" cy="1596.2" r="4.2"/><circle cx="933.2" cy="1598.8" r="4.2"/><circle cx="939.5" cy="1600.6" r="4.2"/><circle cx="962.0" cy="1608.8" r="4.2"/><circle cx="980.8" cy="1606.9" r="4.2"/><circle cx="947.0" cy="1616.2" r="4.2"/><circle cx="939.5" cy="1620.6" r="4.2"/><circle cx="982.0" cy="1620.0" r="4.2"/><circle cx="984.5" cy="1626.9" r="4.2"/><circle cx="996.5" cy="1485.6" r="4.2"/><circle cx="1009.6" cy="1482.5" r="4.2"/><circle cx="1020.2" cy="1489.4" r="4.2"/><circle cx="1025.2" cy="1485.0" r="4.2"/><circle cx="1031.5" cy="1490.6" r="4.2"/><circle cx="1035.2" cy="1491.9" r="4.2"/><circle cx="1029.0" cy="1496.2" r="4.2"/><circle cx="1025.9" cy="1503.8" r="4.2"/><circle cx="1053.4" cy="1491.9" r="4.2"/><circle cx="1077.8" cy="1491.9" r="4.2"/><circle cx="1069.6" cy="1498.8" r="4.2"/><circle cx="1071.5" cy="1505.0" r="4.2"/><circle cx="1076.5" cy="1513.8" r="4.2"/><circle cx="1111.5" cy="1488.5" r="4.2"/><circle cx="1134.0" cy="1494.8" r="4.2"/><circle cx="1140.2" cy="1501.2" r="4.2"/><circle cx="1160.2" cy="1482.5" r="4.2"/><circle cx="1166.5" cy="1482.5" r="4.2"/><circle cx="1189.0" cy="1481.2" r="4.2"/><circle cx="1189.0" cy="1486.2" r="4.2"/><circle cx="1194.0" cy="1481.2" r="4.2"/><circle cx="1187.1" cy="1501.2" r="4.2"/><circle cx="1190.2" cy="1513.8" r="4.2"/><circle cx="1043.4" cy="1513.5" r="4.2"/><circle cx="1061.5" cy="1516.2" r="4.2"/><circle cx="1097.8" cy="1506.9" r="4.2"/><circle cx="1074.0" cy="1522.5" r="4.2"/><circle cx="1132.1" cy="1513.1" r="4.2"/><circle cx="1137.1" cy="1510.6" r="4.2"/><circle cx="1093.4" cy="1519.8" r="4.2"/><circle cx="1102.8" cy="1522.5" r="4.2"/><circle cx="1110.2" cy="1516.2" r="4.2"/><circle cx="1114.6" cy="1519.8" r="4.2"/><circle cx="1170.2" cy="1519.8" r="4.2"/><circle cx="1146.5" cy="1521.2" r="4.2"/><circle cx="1145.9" cy="1526.2" r="4.2"/><circle cx="1040.2" cy="1525.6" r="4.2"/><circle cx="1047.1" cy="1522.5" r="4.2"/><circle cx="1058.4" cy="1528.1" r="4.2"/><circle cx="1051.5" cy="1531.9" r="4.2"/><circle cx="1054.0" cy="1536.9" r="4.2"/><circle cx="1009.0" cy="1523.8" r="4.2"/><circle cx="1007.8" cy="1530.0" r="4.2"/><circle cx="1014.0" cy="1537.5" r="4.2"/><circle cx="1072.1" cy="1531.2" r="4.2"/><circle cx="1080.9" cy="1535.0" r="4.2"/><circle cx="1092.8" cy="1531.9" r="4.2"/><circle cx="1100.2" cy="1535.0" r="4.2"/><circle cx="1107.1" cy="1531.2" r="4.2"/><circle cx="1110.2" cy="1540.0" r="4.2"/><circle cx="1130.9" cy="1525.6" r="4.2"/><circle cx="1174.0" cy="1528.8" r="4.2"/><circle cx="1184.0" cy="1531.9" r="4.2"/><circle cx="1209.0" cy="1540.6" r="4.2"/><circle cx="994.6" cy="1543.8" r="4.2"/><circle cx="1031.5" cy="1540.6" r="4.2"/><circle cx="1027.1" cy="1546.2" r="4.2"/><circle cx="1062.1" cy="1546.2" r="4.2"/><circle cx="1077.1" cy="1546.9" r="4.2"/><circle cx="1100.2" cy="1543.8" r="4.2"/><circle cx="1096.5" cy="1552.5" r="4.2"/><circle cx="1122.8" cy="1547.5" r="4.2"/><circle cx="1147.8" cy="1545.0" r="4.2"/><circle cx="1152.1" cy="1543.8" r="4.2"/><circle cx="1162.1" cy="1547.5" r="4.2"/><circle cx="1139.0" cy="1552.5" r="4.2"/><circle cx="1179.6" cy="1547.5" r="4.2"/><circle cx="1030.2" cy="1555.6" r="4.2"/><circle cx="1042.1" cy="1555.6" r="4.2"/><circle cx="1042.1" cy="1563.8" r="4.2"/><circle cx="1059.0" cy="1555.6" r="4.2"/><circle cx="1050.2" cy="1561.2" r="4.2"/><circle cx="1054.0" cy="1568.8" r="4.2"/><circle cx="1067.1" cy="1561.2" r="4.2"/><circle cx="1117.8" cy="1555.0" r="4.2"/><circle cx="1119.0" cy="1561.2" r="4.2"/><circle cx="1129.0" cy="1561.2" r="4.2"/><circle cx="1105.2" cy="1563.1" r="4.2"/><circle cx="1104.0" cy="1567.5" r="4.2"/><circle cx="1087.8" cy="1566.2" r="4.2"/><circle cx="1089.6" cy="1570.0" r="4.2"/><circle cx="1183.4" cy="1561.2" r="4.2"/><circle cx="1001.5" cy="1560.6" r="4.2"/><circle cx="1012.1" cy="1572.5" r="4.2"/><circle cx="1003.4" cy="1578.1" r="4.2"/><circle cx="1115.9" cy="1573.1" r="4.2"/><circle cx="1127.8" cy="1573.1" r="4.2"/><circle cx="1140.9" cy="1576.2" r="4.2"/><circle cx="1175.2" cy="1576.0" r="4.2"/><circle cx="1094.6" cy="1581.9" r="4.2"/><circle cx="1152.1" cy="1581.9" r="4.2"/><circle cx="1187.8" cy="1587.5" r="4.2"/><circle cx="1055.2" cy="1587.5" r="4.2"/><circle cx="1059.0" cy="1593.1" r="4.2"/><circle cx="1089.0" cy="1590.0" r="4.2"/><circle cx="1114.6" cy="1593.1" r="4.2"/><circle cx="1018.4" cy="1590.0" r="4.2"/><circle cx="1014.0" cy="1597.5" r="4.2"/><circle cx="1099.0" cy="1598.8" r="4.2"/><circle cx="1155.2" cy="1595.6" r="4.2"/><circle cx="1050.2" cy="1601.2" r="4.2"/><circle cx="1027.1" cy="1598.8" r="4.2"/><circle cx="1025.2" cy="1603.8" r="4.2"/><circle cx="1134.6" cy="1604.4" r="4.2"/><circle cx="1006.5" cy="1601.9" r="4.2"/><circle cx="1040.2" cy="1610.0" r="4.2"/><circle cx="1121.5" cy="1610.0" r="4.2"/><circle cx="1126.5" cy="1610.0" r="4.2"/><circle cx="1070.9" cy="1615.6" r="4.2"/><circle cx="1087.8" cy="1612.5" r="4.2"/><circle cx="1091.5" cy="1616.2" r="4.2"/><circle cx="1150.2" cy="1611.2" r="4.2"/><circle cx="1160.9" cy="1612.5" r="4.2"/><circle cx="1001.5" cy="1623.1" r="4.2"/><circle cx="1014.0" cy="1620.6" r="4.2"/><circle cx="1027.8" cy="1620.6" r="4.2"/><circle cx="1050.9" cy="1620.6" r="4.2"/><circle cx="1099.0" cy="1621.2" r="4.2"/><circle cx="1165.2" cy="1625.6" r="4.2"/><circle cx="1150.2" cy="1625.0" r="4.2"/><circle cx="1075.2" cy="1628.1" r="4.2"/><circle cx="1112.8" cy="1628.8" r="4.2"/><circle cx="1238.2" cy="1541.0" r="4.2"/><circle cx="1233.2" cy="1581.5" r="4.2"/><circle cx="1327.6" cy="1587.5" r="4.2"/><circle cx="1362.9" cy="1604.4" r="4.2"/><circle cx="1293.2" cy="1612.5" r="4.2"/><circle cx="764.6" cy="1637.2" r="4.2"/><circle cx="718.5" cy="1663.5" r="4.2"/><circle cx="664.8" cy="1673.8" r="4.2"/><circle cx="611.0" cy="1686.5" r="4.2"/><circle cx="749.0" cy="1672.5" r="4.2"/><circle cx="745.9" cy="1681.5" r="4.2"/><circle cx="755.2" cy="1691.5" r="4.2"/><circle cx="771.6" cy="1671.2" r="4.2"/><circle cx="759.4" cy="1756.9" r="4.2"/><circle cx="743.8" cy="1771.0" r="4.2"/><circle cx="772.5" cy="1766.2" r="4.2"/><circle cx="772.5" cy="1771.2" r="4.2"/><circle cx="746.6" cy="1796.9" r="4.2"/><circle cx="736.2" cy="1825.2" r="4.2"/><circle cx="751.9" cy="1817.5" r="4.2"/><circle cx="767.5" cy="1823.5" r="4.2"/><circle cx="706.5" cy="1836.9" r="4.2"/><circle cx="756.9" cy="1896.0" r="4.2"/><circle cx="710.0" cy="1965.6" r="4.2"/><circle cx="750.6" cy="1971.9" r="4.2"/><circle cx="831.5" cy="1650.0" r="4.2"/><circle cx="834.0" cy="1658.1" r="4.2"/><circle cx="858.0" cy="1647.8" r="4.2"/><circle cx="799.0" cy="1671.2" r="4.2"/><circle cx="776.5" cy="1673.8" r="4.2"/><circle cx="777.1" cy="1681.2" r="4.2"/><circle cx="789.6" cy="1693.8" r="4.2"/><circle cx="840.2" cy="1695.0" r="4.2"/><circle cx="835.9" cy="1706.2" r="4.2"/><circle cx="857.8" cy="1683.8" r="4.2"/><circle cx="859.0" cy="1687.5" r="4.2"/><circle cx="820.2" cy="1720.6" r="4.2"/><circle cx="838.4" cy="1720.6" r="4.2"/><circle cx="785.9" cy="1723.1" r="4.2"/><circle cx="832.1" cy="1727.5" r="4.2"/><circle cx="779.0" cy="1743.1" r="4.2"/><circle cx="790.2" cy="1741.2" r="4.2"/><circle cx="817.8" cy="1744.4" r="4.2"/><circle cx="835.2" cy="1740.6" r="4.2"/><circle cx="849.0" cy="1741.9" r="4.2"/><circle cx="849.0" cy="1753.1" r="4.2"/><circle cx="827.8" cy="1768.8" r="4.2"/><circle cx="836.5" cy="1764.4" r="4.2"/><circle cx="813.4" cy="1773.1" r="4.2"/><circle cx="837.1" cy="1776.2" r="4.2"/><circle cx="776.5" cy="1767.5" r="4.2"/><circle cx="1160.2" cy="1642.5" r="4.2"/><circle cx="1167.5" cy="1660.6" r="4.2"/><circle cx="1184.6" cy="1665.6" r="4.2"/><circle cx="1150.2" cy="1673.8" r="4.2"/><circle cx="1160.0" cy="1671.2" r="4.2"/><circle cx="1155.9" cy="1697.5" r="4.2"/><circle cx="1184.8" cy="1768.8" r="4.2"/><circle cx="1179.0" cy="1705.0" r="4.2"/><circle cx="1160.6" cy="1894.4" r="4.2"/><circle cx="1208.1" cy="1892.5" r="4.2"/><circle cx="1182.2" cy="1916.9" r="4.2"/><circle cx="1159.4" cy="1961.2" r="4.2"/>
</g>
<g fill="#848484" stroke="#676767" stroke-width="0.85">
<circle cx="966.1" cy="1996.9" r="4.2"/><circle cx="891.2" cy="1798.9" r="4.2"/><circle cx="811.1" cy="1972.2" r="4.2"/><circle cx="924.3" cy="1882.4" r="4.2"/><circle cx="915.2" cy="1906.7" r="4.2"/><circle cx="1034.0" cy="1786.4" r="4.2"/><circle cx="935.4" cy="1887.4" r="4.2"/><circle cx="962.9" cy="2004.6" r="4.2"/><circle cx="912.8" cy="1968.6" r="4.2"/><circle cx="967.8" cy="1824.3" r="4.2"/><circle cx="958.6" cy="1916.3" r="4.2"/><circle cx="878.0" cy="1863.4" r="4.2"/><circle cx="1091.8" cy="1852.4" r="4.2"/><circle cx="943.9" cy="1849.6" r="4.2"/><circle cx="1083.4" cy="1888.5" r="4.2"/><circle cx="1051.2" cy="1752.7" r="4.2"/><circle cx="944.2" cy="1974.7" r="4.2"/><circle cx="1013.5" cy="1862.8" r="4.2"/><circle cx="1056.0" cy="1869.2" r="4.2"/><circle cx="1092.0" cy="1914.8" r="4.2"/><circle cx="826.9" cy="1961.5" r="4.2"/><circle cx="931.5" cy="1772.8" r="4.2"/><circle cx="967.4" cy="1900.1" r="4.2"/><circle cx="1022.5" cy="1976.9" r="4.2"/><circle cx="1143.3" cy="1986.7" r="4.2"/><circle cx="842.8" cy="1918.6" r="4.2"/><circle cx="902.5" cy="1996.6" r="4.2"/><circle cx="1119.6" cy="1910.4" r="4.2"/><circle cx="801.2" cy="1874.7" r="4.2"/><circle cx="1017.3" cy="1858.0" r="4.2"/><circle cx="870.7" cy="1996.4" r="4.2"/><circle cx="880.0" cy="1828.1" r="4.2"/><circle cx="1072.5" cy="1923.9" r="4.2"/><circle cx="999.7" cy="1870.0" r="4.2"/><circle cx="854.7" cy="1928.7" r="4.2"/><circle cx="901.1" cy="1866.3" r="4.2"/><circle cx="1047.3" cy="1942.2" r="4.2"/><circle cx="1043.2" cy="1971.4" r="4.2"/><circle cx="958.9" cy="1819.2" r="4.2"/><circle cx="1069.4" cy="2005.8" r="4.2"/><circle cx="859.2" cy="1965.8" r="4.2"/><circle cx="1101.6" cy="1980.6" r="4.2"/><circle cx="866.6" cy="1920.2" r="4.2"/><circle cx="1015.4" cy="1823.5" r="4.2"/><circle cx="927.5" cy="1933.1" r="4.2"/><circle cx="928.0" cy="1954.7" r="4.2"/><circle cx="1014.6" cy="1902.3" r="4.2"/><circle cx="1099.1" cy="1816.2" r="4.2"/><circle cx="977.7" cy="1806.4" r="4.2"/><circle cx="1079.2" cy="1796.3" r="4.2"/><circle cx="953.2" cy="1685.9" r="4.2"/><circle cx="979.0" cy="1989.8" r="4.2"/><circle cx="867.9" cy="2005.8" r="4.2"/><circle cx="1043.0" cy="1979.9" r="4.2"/><circle cx="932.3" cy="1693.8" r="4.2"/><circle cx="943.2" cy="1710.0" r="4.2"/><circle cx="1041.2" cy="1714.5" r="4.2"/><circle cx="1107.9" cy="1991.0" r="4.2"/><circle cx="1077.9" cy="1968.4" r="4.2"/><circle cx="1005.8" cy="1958.7" r="4.2"/><circle cx="965.7" cy="1975.8" r="4.2"/><circle cx="1034.6" cy="1890.8" r="4.2"/><circle cx="982.2" cy="1951.1" r="4.2"/><circle cx="991.2" cy="1819.1" r="4.2"/><circle cx="1135.4" cy="1869.5" r="4.2"/><circle cx="1069.4" cy="1990.7" r="4.2"/><circle cx="903.1" cy="1986.6" r="4.2"/><circle cx="1144.4" cy="1928.0" r="4.2"/><circle cx="844.7" cy="1878.3" r="4.2"/><circle cx="938.8" cy="1686.5" r="4.2"/><circle cx="899.2" cy="1995.4" r="4.2"/><circle cx="1026.7" cy="1858.3" r="4.2"/><circle cx="1032.8" cy="1995.8" r="4.2"/><circle cx="1021.7" cy="1950.8" r="4.2"/><circle cx="965.6" cy="2003.3" r="4.2"/><circle cx="996.5" cy="1987.2" r="4.2"/><circle cx="829.5" cy="1927.5" r="4.2"/><circle cx="940.7" cy="1784.9" r="4.2"/><circle cx="825.5" cy="1811.5" r="4.2"/><circle cx="948.2" cy="1803.4" r="4.2"/><circle cx="979.0" cy="1930.5" r="4.2"/><circle cx="961.5" cy="1635.7" r="4.2"/><circle cx="990.7" cy="1850.3" r="4.2"/><circle cx="867.1" cy="1985.6" r="4.2"/><circle cx="818.0" cy="2006.9" r="4.2"/><circle cx="1014.2" cy="1834.8" r="4.2"/><circle cx="971.8" cy="1889.1" r="4.2"/><circle cx="843.5" cy="1882.0" r="4.2"/><circle cx="1054.1" cy="1740.5" r="4.2"/><circle cx="943.2" cy="1772.1" r="4.2"/><circle cx="918.9" cy="1834.7" r="4.2"/><circle cx="956.4" cy="1760.5" r="4.2"/><circle cx="969.8" cy="1759.7" r="4.2"/><circle cx="953.2" cy="1862.3" r="4.2"/><circle cx="1051.9" cy="1868.2" r="4.2"/><circle cx="932.3" cy="1751.7" r="4.2"/><circle cx="986.6" cy="1918.9" r="4.2"/><circle cx="858.1" cy="1995.6" r="4.2"/><circle cx="1092.0" cy="2003.3" r="4.2"/><circle cx="978.6" cy="1827.9" r="4.2"/><circle cx="824.6" cy="1962.5" r="4.2"/><circle cx="880.7" cy="1887.0" r="4.2"/><circle cx="1141.4" cy="1891.0" r="4.2"/><circle cx="897.3" cy="1935.2" r="4.2"/><circle cx="980.0" cy="1776.8" r="4.2"/><circle cx="1015.9" cy="1864.1" r="4.2"/><circle cx="954.0" cy="1968.1" r="4.2"/><circle cx="1037.7" cy="1943.2" r="4.2"/><circle cx="988.4" cy="1992.5" r="4.2"/><circle cx="1108.2" cy="1975.1" r="4.2"/><circle cx="996.2" cy="1813.4" r="4.2"/><circle cx="970.8" cy="1912.6" r="4.2"/><circle cx="1014.8" cy="1880.1" r="4.2"/><circle cx="1022.6" cy="1876.2" r="4.2"/><circle cx="979.2" cy="2005.4" r="4.2"/><circle cx="860.0" cy="2006.3" r="4.2"/><circle cx="1051.8" cy="1765.6" r="4.2"/><circle cx="1142.8" cy="1965.5" r="4.2"/><circle cx="940.5" cy="1794.2" r="4.2"/><circle cx="858.6" cy="1962.9" r="4.2"/><circle cx="893.9" cy="1940.2" r="4.2"/><circle cx="963.8" cy="1821.4" r="4.2"/><circle cx="892.7" cy="1995.9" r="4.2"/><circle cx="922.8" cy="1913.9" r="4.2"/><circle cx="1055.1" cy="1998.5" r="4.2"/><circle cx="1006.4" cy="1875.9" r="4.2"/><circle cx="1091.8" cy="1948.3" r="4.2"/><circle cx="916.9" cy="1692.2" r="4.2"/><circle cx="957.4" cy="1756.5" r="4.2"/><circle cx="820.4" cy="1894.3" r="4.2"/><circle cx="1128.9" cy="1959.8" r="4.2"/><circle cx="1044.5" cy="1792.1" r="4.2"/><circle cx="948.6" cy="1983.5" r="4.2"/><circle cx="829.7" cy="1979.9" r="4.2"/><circle cx="989.4" cy="1935.0" r="4.2"/><circle cx="1044.2" cy="1666.8" r="4.2"/><circle cx="913.4" cy="1983.7" r="4.2"/><circle cx="981.5" cy="1830.2" r="4.2"/><circle cx="1015.6" cy="2005.0" r="4.2"/><circle cx="854.8" cy="1898.1" r="4.2"/><circle cx="976.9" cy="1938.6" r="4.2"/><circle cx="1103.4" cy="1814.1" r="4.2"/><circle cx="917.0" cy="1733.7" r="4.2"/><circle cx="1057.7" cy="1819.5" r="4.2"/><circle cx="1013.5" cy="1911.2" r="4.2"/><circle cx="983.9" cy="1844.9" r="4.2"/><circle cx="1096.6" cy="1827.3" r="4.2"/><circle cx="1045.9" cy="1914.1" r="4.2"/><circle cx="882.7" cy="1995.1" r="4.2"/><circle cx="846.6" cy="1937.4" r="4.2"/><circle cx="1023.8" cy="2006.6" r="4.2"/><circle cx="918.8" cy="1854.7" r="4.2"/><circle cx="987.0" cy="1986.2" r="4.2"/><circle cx="949.6" cy="1838.8" r="4.2"/><circle cx="962.7" cy="1974.8" r="4.2"/><circle cx="834.1" cy="1982.2" r="4.2"/><circle cx="1007.3" cy="1872.8" r="4.2"/><circle cx="858.8" cy="1930.6" r="4.2"/><circle cx="950.0" cy="1876.0" r="4.2"/><circle cx="1009.6" cy="1998.0" r="4.2"/><circle cx="907.6" cy="1932.7" r="4.2"/><circle cx="822.8" cy="1782.5" r="4.2"/><circle cx="949.7" cy="1995.9" r="4.2"/><circle cx="1089.9" cy="1882.1" r="4.2"/><circle cx="1019.2" cy="1958.6" r="4.2"/><circle cx="935.5" cy="1872.9" r="4.2"/><circle cx="889.3" cy="1891.0" r="4.2"/><circle cx="1026.2" cy="1959.3" r="4.2"/><circle cx="1022.7" cy="1991.1" r="4.2"/><circle cx="991.3" cy="1941.8" r="4.2"/><circle cx="999.8" cy="1950.4" r="4.2"/><circle cx="1006.5" cy="1743.2" r="4.2"/><circle cx="1092.7" cy="1995.9" r="4.2"/><circle cx="865.5" cy="1969.3" r="4.2"/><circle cx="958.7" cy="1905.2" r="4.2"/><circle cx="993.9" cy="1914.2" r="4.2"/><circle cx="815.5" cy="1980.6" r="4.2"/><circle cx="1015.2" cy="1730.3" r="4.2"/><circle cx="992.1" cy="1869.4" r="4.2"/><circle cx="1102.1" cy="1843.2" r="4.2"/><circle cx="817.4" cy="1890.5" r="4.2"/><circle cx="869.4" cy="1850.6" r="4.2"/><circle cx="981.0" cy="1891.3" r="4.2"/><circle cx="1020.9" cy="1907.1" r="4.2"/><circle cx="926.5" cy="1827.2" r="4.2"/><circle cx="924.1" cy="1631.9" r="4.2"/><circle cx="860.3" cy="1958.8" r="4.2"/><circle cx="973.4" cy="1753.7" r="4.2"/><circle cx="940.7" cy="1889.8" r="4.2"/><circle cx="917.4" cy="1969.5" r="4.2"/><circle cx="915.3" cy="1810.5" r="4.2"/><circle cx="1086.2" cy="1988.5" r="4.2"/><circle cx="997.2" cy="1929.4" r="4.2"/><circle cx="959.2" cy="1898.3" r="4.2"/><circle cx="991.9" cy="1742.7" r="4.2"/><circle cx="894.2" cy="1875.8" r="4.2"/><circle cx="1099.6" cy="1967.7" r="4.2"/><circle cx="902.4" cy="1809.2" r="4.2"/><circle cx="961.5" cy="1965.7" r="4.2"/><circle cx="1002.2" cy="1984.2" r="4.2"/><circle cx="987.4" cy="1721.5" r="4.2"/><circle cx="994.2" cy="1988.2" r="4.2"/><circle cx="1096.3" cy="1793.1" r="4.2"/><circle cx="841.0" cy="1891.2" r="4.2"/><circle cx="852.4" cy="1987.7" r="4.2"/><circle cx="977.9" cy="1814.8" r="4.2"/><circle cx="908.2" cy="1904.6" r="4.2"/><circle cx="1046.4" cy="1991.2" r="4.2"/><circle cx="926.5" cy="1909.3" r="4.2"/><circle cx="1093.9" cy="2005.6" r="4.2"/><circle cx="922.7" cy="1996.6" r="4.2"/><circle cx="918.6" cy="1880.6" r="4.2"/><circle cx="1008.4" cy="1853.8" r="4.2"/><circle cx="1046.9" cy="1999.5" r="4.2"/><circle cx="996.6" cy="1921.0" r="4.2"/><circle cx="1057.4" cy="1931.7" r="4.2"/><circle cx="984.2" cy="1956.3" r="4.2"/><circle cx="1040.9" cy="1853.6" r="4.2"/><circle cx="1045.5" cy="1969.8" r="4.2"/><circle cx="887.5" cy="1643.8" r="4.2"/><circle cx="979.1" cy="1865.5" r="4.2"/><circle cx="885.3" cy="1928.3" r="4.2"/><circle cx="952.3" cy="1934.4" r="4.2"/><circle cx="955.5" cy="1995.7" r="4.2"/><circle cx="938.2" cy="1977.2" r="4.2"/><circle cx="777.5" cy="1823.4" r="4.2"/><circle cx="971.7" cy="1846.5" r="4.2"/><circle cx="956.1" cy="1882.9" r="4.2"/><circle cx="1074.5" cy="1894.9" r="4.2"/><circle cx="929.9" cy="1899.3" r="4.2"/><circle cx="1136.9" cy="1962.9" r="4.2"/><circle cx="964.9" cy="1664.8" r="4.2"/><circle cx="949.8" cy="1865.6" r="4.2"/><circle cx="876.1" cy="1775.1" r="4.2"/><circle cx="1027.4" cy="1929.4" r="4.2"/><circle cx="1035.8" cy="1993.6" r="4.2"/><circle cx="919.0" cy="1800.2" r="4.2"/><circle cx="917.6" cy="1988.9" r="4.2"/><circle cx="1045.8" cy="1942.6" r="4.2"/><circle cx="957.9" cy="1957.5" r="4.2"/><circle cx="987.0" cy="1952.5" r="4.2"/><circle cx="844.3" cy="1924.0" r="4.2"/><circle cx="971.6" cy="1950.2" r="4.2"/><circle cx="1112.2" cy="1992.3" r="4.2"/><circle cx="895.2" cy="1989.8" r="4.2"/><circle cx="904.0" cy="1861.2" r="4.2"/><circle cx="854.6" cy="1957.6" r="4.2"/><circle cx="1050.1" cy="1957.8" r="4.2"/><circle cx="1084.1" cy="1929.2" r="4.2"/><circle cx="873.2" cy="1818.8" r="4.2"/><circle cx="904.0" cy="1787.8" r="4.2"/><circle cx="965.5" cy="1969.1" r="4.2"/><circle cx="885.8" cy="1680.8" r="4.2"/><circle cx="1116.8" cy="1813.1" r="4.2"/><circle cx="917.7" cy="1889.1" r="4.2"/><circle cx="899.9" cy="1930.8" r="4.2"/><circle cx="943.2" cy="2003.3" r="4.2"/><circle cx="930.4" cy="1994.7" r="4.2"/><circle cx="957.2" cy="1929.1" r="4.2"/><circle cx="917.8" cy="1898.0" r="4.2"/><circle cx="1032.3" cy="1917.6" r="4.2"/><circle cx="912.1" cy="1976.5" r="4.2"/><circle cx="868.8" cy="1985.4" r="4.2"/><circle cx="886.6" cy="1817.5" r="4.2"/><circle cx="887.0" cy="1989.8" r="4.2"/><circle cx="951.9" cy="1952.2" r="4.2"/><circle cx="1078.3" cy="1910.2" r="4.2"/><circle cx="1019.1" cy="1890.1" r="4.2"/><circle cx="905.4" cy="1944.4" r="4.2"/><circle cx="982.5" cy="1992.7" r="4.2"/><circle cx="1045.3" cy="1846.4" r="4.2"/><circle cx="888.4" cy="1818.4" r="4.2"/><circle cx="927.1" cy="2003.0" r="4.2"/><circle cx="1093.7" cy="1978.4" r="4.2"/><circle cx="1000.4" cy="1914.3" r="4.2"/><circle cx="926.7" cy="1901.1" r="4.2"/><circle cx="979.1" cy="1876.7" r="4.2"/><circle cx="975.2" cy="1774.3" r="4.2"/><circle cx="932.0" cy="2005.8" r="4.2"/><circle cx="774.4" cy="1982.2" r="4.2"/><circle cx="867.5" cy="1969.7" r="4.2"/><circle cx="908.0" cy="1823.5" r="4.2"/><circle cx="879.1" cy="1890.0" r="4.2"/><circle cx="1004.4" cy="1992.6" r="4.2"/><circle cx="1127.8" cy="1924.3" r="4.2"/><circle cx="1100.9" cy="1916.7" r="4.2"/><circle cx="1132.0" cy="1911.7" r="4.2"/><circle cx="866.1" cy="1923.1" r="4.2"/><circle cx="993.0" cy="1956.1" r="4.2"/><circle cx="1083.5" cy="1981.5" r="4.2"/><circle cx="895.7" cy="1979.1" r="4.2"/><circle cx="859.8" cy="1955.6" r="4.2"/><circle cx="985.1" cy="1955.3" r="4.2"/><circle cx="1041.8" cy="1951.5" r="4.2"/><circle cx="1085.6" cy="1816.2" r="4.2"/><circle cx="782.9" cy="1838.1" r="4.2"/><circle cx="912.8" cy="1855.1" r="4.2"/><circle cx="1033.4" cy="1952.7" r="4.2"/><circle cx="952.1" cy="1943.0" r="4.2"/><circle cx="1001.5" cy="1911.3" r="4.2"/><circle cx="910.5" cy="2002.7" r="4.2"/><circle cx="983.4" cy="1971.0" r="4.2"/><circle cx="1018.9" cy="1983.2" r="4.2"/><circle cx="867.2" cy="1765.2" r="4.2"/><circle cx="1019.4" cy="1935.7" r="4.2"/><circle cx="990.1" cy="1857.3" r="4.2"/><circle cx="1096.0" cy="1866.8" r="4.2"/><circle cx="886.0" cy="1841.9" r="4.2"/><circle cx="850.0" cy="1940.1" r="4.2"/><circle cx="1006.8" cy="1777.2" r="4.2"/><circle cx="1068.7" cy="1863.0" r="4.2"/><circle cx="903.4" cy="1856.2" r="4.2"/><circle cx="953.3" cy="1735.0" r="4.2"/><circle cx="935.8" cy="1680.7" r="4.2"/><circle cx="904.3" cy="1933.4" r="4.2"/><circle cx="932.0" cy="1981.7" r="4.2"/><circle cx="963.0" cy="1844.5" r="4.2"/><circle cx="995.1" cy="1923.2" r="4.2"/><circle cx="912.1" cy="1967.8" r="4.2"/><circle cx="1079.1" cy="1994.1" r="4.2"/><circle cx="853.1" cy="1997.5" r="4.2"/><circle cx="945.0" cy="1952.5" r="4.2"/><circle cx="1036.0" cy="1862.3" r="4.2"/><circle cx="895.6" cy="1977.1" r="4.2"/><circle cx="935.9" cy="1876.5" r="4.2"/><circle cx="953.5" cy="1986.0" r="4.2"/><circle cx="994.5" cy="2003.6" r="4.2"/><circle cx="879.6" cy="1909.5" r="4.2"/><circle cx="1113.3" cy="1952.6" r="4.2"/><circle cx="1068.7" cy="1890.8" r="4.2"/><circle cx="905.6" cy="1938.8" r="4.2"/><circle cx="974.9" cy="1832.6" r="4.2"/><circle cx="965.4" cy="1965.6" r="4.2"/><circle cx="1028.1" cy="1727.8" r="4.2"/><circle cx="1073.2" cy="1999.3" r="4.2"/><circle cx="1046.2" cy="1892.0" r="4.2"/><circle cx="987.7" cy="1864.4" r="4.2"/><circle cx="1072.2" cy="1916.5" r="4.2"/><circle cx="969.4" cy="1811.9" r="4.2"/><circle cx="924.9" cy="1951.7" r="4.2"/><circle cx="1073.9" cy="1818.1" r="4.2"/><circle cx="970.6" cy="1968.9" r="4.2"/><circle cx="1030.6" cy="1918.5" r="4.2"/><circle cx="1010.0" cy="1798.8" r="4.2"/><circle cx="1021.0" cy="1875.6" r="4.2"/><circle cx="937.6" cy="1949.0" r="4.2"/><circle cx="1029.2" cy="1998.0" r="4.2"/><circle cx="995.6" cy="1959.4" r="4.2"/><circle cx="902.4" cy="1897.7" r="4.2"/><circle cx="985.3" cy="1999.3" r="4.2"/><circle cx="1033.2" cy="1761.6" r="4.2"/><circle cx="1020.6" cy="1954.4" r="4.2"/><circle cx="871.3" cy="1943.9" r="4.2"/><circle cx="874.7" cy="1838.3" r="4.2"/><circle cx="1074.7" cy="1908.8" r="4.2"/><circle cx="892.1" cy="1784.6" r="4.2"/><circle cx="945.9" cy="1836.0" r="4.2"/><circle cx="992.7" cy="1686.8" r="4.2"/><circle cx="972.7" cy="1975.8" r="4.2"/><circle cx="880.5" cy="1822.3" r="4.2"/><circle cx="993.5" cy="1808.7" r="4.2"/><circle cx="1067.0" cy="1977.9" r="4.2"/><circle cx="1002.8" cy="1967.1" r="4.2"/><circle cx="960.6" cy="1806.6" r="4.2"/><circle cx="1092.9" cy="1986.1" r="4.2"/><circle cx="1017.5" cy="1960.9" r="4.2"/><circle cx="1065.5" cy="1846.4" r="4.2"/><circle cx="977.0" cy="1870.5" r="4.2"/><circle cx="953.7" cy="1981.6" r="4.2"/><circle cx="819.4" cy="1885.4" r="4.2"/><circle cx="1064.0" cy="1839.6" r="4.2"/><circle cx="902.3" cy="1956.1" r="4.2"/><circle cx="981.1" cy="1943.8" r="4.2"/><circle cx="813.6" cy="1969.2" r="4.2"/><circle cx="946.2" cy="1947.7" r="4.2"/><circle cx="942.9" cy="1858.4" r="4.2"/><circle cx="863.3" cy="2001.1" r="4.2"/><circle cx="985.1" cy="2006.8" r="4.2"/><circle cx="776.4" cy="1961.1" r="4.2"/><circle cx="982.7" cy="1897.8" r="4.2"/><circle cx="924.1" cy="1979.6" r="4.2"/><circle cx="813.9" cy="1802.7" r="4.2"/><circle cx="808.9" cy="2003.9" r="4.2"/><circle cx="956.5" cy="1921.3" r="4.2"/><circle cx="920.2" cy="1967.9" r="4.2"/><circle cx="1056.4" cy="1941.8" r="4.2"/><circle cx="889.1" cy="1951.8" r="4.2"/><circle cx="959.6" cy="1962.6" r="4.2"/><circle cx="1093.8" cy="1937.3" r="4.2"/><circle cx="975.3" cy="2001.0" r="4.2"/><circle cx="996.8" cy="1906.1" r="4.2"/><circle cx="1143.6" cy="1926.1" r="4.2"/><circle cx="917.8" cy="1980.1" r="4.2"/><circle cx="947.6" cy="1873.9" r="4.2"/><circle cx="931.3" cy="1924.4" r="4.2"/><circle cx="1051.9" cy="1819.1" r="4.2"/><circle cx="1008.7" cy="1936.4" r="4.2"/><circle cx="936.8" cy="1865.2" r="4.2"/><circle cx="1092.4" cy="1916.6" r="4.2"/><circle cx="903.5" cy="1987.9" r="4.2"/><circle cx="816.9" cy="1875.5" r="4.2"/><circle cx="871.4" cy="1829.4" r="4.2"/><circle cx="942.8" cy="1940.3" r="4.2"/><circle cx="998.0" cy="2003.7" r="4.2"/><circle cx="980.6" cy="1918.9" r="4.2"/><circle cx="872.9" cy="1832.0" r="4.2"/><circle cx="1045.6" cy="1991.0" r="4.2"/><circle cx="909.9" cy="1923.5" r="4.2"/><circle cx="990.8" cy="1967.0" r="4.2"/><circle cx="962.4" cy="1760.6" r="4.2"/><circle cx="1071.8" cy="1817.6" r="4.2"/><circle cx="949.3" cy="1967.4" r="4.2"/><circle cx="943.4" cy="2000.7" r="4.2"/><circle cx="965.0" cy="1994.1" r="4.2"/><circle cx="1062.2" cy="1846.9" r="4.2"/><circle cx="888.0" cy="1789.2" r="4.2"/><circle cx="952.5" cy="1807.2" r="4.2"/><circle cx="972.6" cy="1988.8" r="4.2"/><circle cx="954.7" cy="1981.8" r="4.2"/><circle cx="802.1" cy="1950.7" r="4.2"/><circle cx="967.1" cy="2000.7" r="4.2"/><circle cx="1057.6" cy="1886.0" r="4.2"/><circle cx="948.6" cy="1811.3" r="4.2"/><circle cx="925.0" cy="1989.4" r="4.2"/><circle cx="1101.0" cy="1890.2" r="4.2"/><circle cx="1128.1" cy="1965.8" r="4.2"/><circle cx="947.0" cy="1953.4" r="4.2"/><circle cx="971.3" cy="2005.9" r="4.2"/><circle cx="886.2" cy="1962.0" r="4.2"/><circle cx="893.8" cy="1819.5" r="4.2"/><circle cx="872.0" cy="1870.5" r="4.2"/><circle cx="1015.9" cy="1784.5" r="4.2"/><circle cx="907.6" cy="1941.2" r="4.2"/><circle cx="1096.7" cy="1682.5" r="4.2"/><circle cx="939.0" cy="1929.0" r="4.2"/><circle cx="1024.3" cy="1944.0" r="4.2"/><circle cx="901.4" cy="1825.3" r="4.2"/><circle cx="945.7" cy="1876.2" r="4.2"/><circle cx="1052.9" cy="1946.0" r="4.2"/><circle cx="992.5" cy="1942.3" r="4.2"/><circle cx="1066.8" cy="1885.6" r="4.2"/><circle cx="907.5" cy="1852.0" r="4.2"/><circle cx="960.5" cy="1988.9" r="4.2"/><circle cx="925.1" cy="1919.9" r="4.2"/><circle cx="1144.5" cy="1849.4" r="4.2"/><circle cx="1001.5" cy="1713.2" r="4.2"/><circle cx="961.0" cy="1886.5" r="4.2"/><circle cx="1022.2" cy="1979.2" r="4.2"/><circle cx="910.5" cy="1997.5" r="4.2"/><circle cx="966.1" cy="1776.5" r="4.2"/><circle cx="1004.6" cy="1962.6" r="4.2"/><circle cx="901.9" cy="1818.2" r="4.2"/><circle cx="918.6" cy="1922.6" r="4.2"/><circle cx="840.7" cy="1927.1" r="4.2"/><circle cx="968.3" cy="1666.0" r="4.2"/><circle cx="961.7" cy="1900.3" r="4.2"/><circle cx="928.4" cy="1772.5" r="4.2"/><circle cx="961.6" cy="1860.2" r="4.2"/><circle cx="920.6" cy="1997.0" r="4.2"/><circle cx="871.6" cy="1715.5" r="4.2"/><circle cx="944.5" cy="1980.9" r="4.2"/><circle cx="870.0" cy="1911.1" r="4.2"/><circle cx="806.3" cy="1996.6" r="4.2"/><circle cx="969.7" cy="1937.1" r="4.2"/><circle cx="979.3" cy="1801.9" r="4.2"/><circle cx="1047.8" cy="1969.2" r="4.2"/><circle cx="922.6" cy="1943.0" r="4.2"/><circle cx="850.2" cy="1980.2" r="4.2"/><circle cx="976.8" cy="1662.0" r="4.2"/><circle cx="857.3" cy="1981.9" r="4.2"/><circle cx="1048.2" cy="1968.1" r="4.2"/><circle cx="1091.6" cy="1992.1" r="4.2"/><circle cx="922.5" cy="1918.9" r="4.2"/><circle cx="1081.6" cy="1914.9" r="4.2"/><circle cx="973.7" cy="1861.0" r="4.2"/><circle cx="974.9" cy="1904.6" r="4.2"/><circle cx="835.3" cy="2004.1" r="4.2"/><circle cx="921.5" cy="1886.7" r="4.2"/><circle cx="993.1" cy="1979.6" r="4.2"/><circle cx="841.2" cy="1956.3" r="4.2"/><circle cx="1066.2" cy="1994.4" r="4.2"/><circle cx="948.5" cy="1990.2" r="4.2"/><circle cx="987.3" cy="1847.0" r="4.2"/><circle cx="905.8" cy="1999.3" r="4.2"/><circle cx="925.5" cy="1940.3" r="4.2"/><circle cx="854.5" cy="1933.6" r="4.2"/><circle cx="959.4" cy="1974.8" r="4.2"/><circle cx="862.3" cy="1989.2" r="4.2"/><circle cx="987.8" cy="1967.6" r="4.2"/><circle cx="924.7" cy="1766.8" r="4.2"/><circle cx="1066.8" cy="1944.5" r="4.2"/><circle cx="945.2" cy="1976.9" r="4.2"/><circle cx="889.4" cy="1921.8" r="4.2"/><circle cx="922.7" cy="1846.2" r="4.2"/><circle cx="1024.3" cy="1692.7" r="4.2"/><circle cx="791.0" cy="1835.0" r="4.2"/><circle cx="971.0" cy="1939.1" r="4.2"/><circle cx="974.8" cy="1981.4" r="4.2"/><circle cx="939.2" cy="1947.1" r="4.2"/><circle cx="1079.6" cy="1712.7" r="4.2"/><circle cx="969.1" cy="1771.2" r="4.2"/><circle cx="1007.5" cy="1955.1" r="4.2"/><circle cx="848.6" cy="1992.3" r="4.2"/><circle cx="1119.6" cy="1866.3" r="4.2"/><circle cx="1063.5" cy="1815.4" r="4.2"/><circle cx="938.5" cy="1709.9" r="4.2"/><circle cx="889.0" cy="1925.6" r="4.2"/><circle cx="887.6" cy="1926.6" r="4.2"/><circle cx="955.2" cy="2006.6" r="4.2"/><circle cx="905.9" cy="1889.5" r="4.2"/><circle cx="962.9" cy="1775.7" r="4.2"/><circle cx="933.7" cy="1996.5" r="4.2"/><circle cx="840.4" cy="1965.0" r="4.2"/><circle cx="960.4" cy="1953.2" r="4.2"/><circle cx="1023.1" cy="1799.6" r="4.2"/><circle cx="981.7" cy="1631.1" r="4.2"/><circle cx="996.6" cy="2006.5" r="4.2"/><circle cx="886.6" cy="1931.4" r="4.2"/><circle cx="1011.0" cy="1777.0" r="4.2"/><circle cx="1045.0" cy="1832.0" r="4.2"/><circle cx="1115.5" cy="1871.5" r="4.2"/><circle cx="867.2" cy="1992.9" r="4.2"/><circle cx="852.1" cy="2000.3" r="4.2"/><circle cx="940.3" cy="1876.1" r="4.2"/><circle cx="966.1" cy="1818.6" r="4.2"/><circle cx="1004.7" cy="1947.6" r="4.2"/><circle cx="1007.2" cy="1832.9" r="4.2"/><circle cx="997.9" cy="1898.5" r="4.2"/><circle cx="908.0" cy="1865.7" r="4.2"/><circle cx="894.9" cy="1656.7" r="4.2"/><circle cx="993.3" cy="1671.0" r="4.2"/><circle cx="921.3" cy="1956.5" r="4.2"/><circle cx="1061.7" cy="1916.9" r="4.2"/><circle cx="1067.4" cy="1831.5" r="4.2"/><circle cx="1030.9" cy="1817.8" r="4.2"/><circle cx="1001.8" cy="1962.6" r="4.2"/><circle cx="872.9" cy="1818.3" r="4.2"/><circle cx="1033.5" cy="1984.6" r="4.2"/><circle cx="969.9" cy="1967.7" r="4.2"/><circle cx="949.0" cy="1802.4" r="4.2"/><circle cx="1072.0" cy="1998.8" r="4.2"/><circle cx="937.0" cy="2005.6" r="4.2"/><circle cx="1006.0" cy="1757.6" r="4.2"/><circle cx="1030.1" cy="1737.2" r="4.2"/><circle cx="958.8" cy="1943.4" r="4.2"/><circle cx="899.4" cy="1696.8" r="4.2"/><circle cx="910.1" cy="1874.9" r="4.2"/><circle cx="907.4" cy="1963.2" r="4.2"/><circle cx="1065.9" cy="1953.6" r="4.2"/><circle cx="1006.3" cy="1860.4" r="4.2"/><circle cx="991.3" cy="1976.9" r="4.2"/><circle cx="881.7" cy="1845.7" r="4.2"/><circle cx="890.9" cy="1993.7" r="4.2"/><circle cx="1044.8" cy="1926.8" r="4.2"/><circle cx="802.8" cy="1941.7" r="4.2"/><circle cx="934.6" cy="1959.3" r="4.2"/><circle cx="970.0" cy="1708.6" r="4.2"/><circle cx="1005.3" cy="1969.0" r="4.2"/><circle cx="880.5" cy="1779.4" r="4.2"/><circle cx="996.1" cy="1927.3" r="4.2"/><circle cx="992.2" cy="1856.1" r="4.2"/><circle cx="971.7" cy="1855.4" r="4.2"/><circle cx="918.2" cy="1806.0" r="4.2"/><circle cx="1131.3" cy="1696.9" r="4.2"/><circle cx="1096.2" cy="2005.6" r="4.2"/><circle cx="962.6" cy="1744.9" r="4.2"/><circle cx="909.9" cy="1702.2" r="4.2"/><circle cx="1057.0" cy="1945.0" r="4.2"/><circle cx="917.7" cy="2003.7" r="4.2"/><circle cx="920.9" cy="1828.9" r="4.2"/><circle cx="1002.0" cy="1784.1" r="4.2"/><circle cx="963.3" cy="1862.9" r="4.2"/><circle cx="891.5" cy="1786.0" r="4.2"/><circle cx="941.8" cy="2002.1" r="4.2"/><circle cx="974.1" cy="1656.4" r="4.2"/><circle cx="1018.3" cy="1916.8" r="4.2"/><circle cx="1019.3" cy="1837.2" r="4.2"/><circle cx="1029.2" cy="1966.7" r="4.2"/><circle cx="1008.0" cy="1939.5" r="4.2"/><circle cx="1043.5" cy="1951.4" r="4.2"/><circle cx="1137.4" cy="1985.0" r="4.2"/><circle cx="1041.8" cy="1674.0" r="4.2"/><circle cx="976.0" cy="1696.8" r="4.2"/><circle cx="982.4" cy="2003.5" r="4.2"/><circle cx="1083.0" cy="1974.9" r="4.2"/><circle cx="998.9" cy="1773.4" r="4.2"/><circle cx="876.2" cy="1840.3" r="4.2"/><circle cx="1104.8" cy="1775.8" r="4.2"/><circle cx="899.1" cy="1949.4" r="4.2"/><circle cx="824.7" cy="1904.5" r="4.2"/><circle cx="1016.9" cy="2001.8" r="4.2"/><circle cx="880.6" cy="1938.6" r="4.2"/><circle cx="905.4" cy="1958.4" r="4.2"/><circle cx="923.8" cy="1958.5" r="4.2"/><circle cx="919.3" cy="1820.2" r="4.2"/><circle cx="1002.8" cy="1880.1" r="4.2"/><circle cx="990.9" cy="1955.6" r="4.2"/><circle cx="1005.0" cy="1872.9" r="4.2"/><circle cx="1072.8" cy="1810.5" r="4.2"/><circle cx="808.0" cy="1916.7" r="4.2"/><circle cx="1038.4" cy="1922.0" r="4.2"/><circle cx="1078.3" cy="1723.5" r="4.2"/><circle cx="997.6" cy="1835.1" r="4.2"/><circle cx="1037.3" cy="1965.0" r="4.2"/><circle cx="928.0" cy="1893.2" r="4.2"/><circle cx="941.1" cy="1918.6" r="4.2"/><circle cx="991.5" cy="1942.4" r="4.2"/><circle cx="1078.1" cy="1973.1" r="4.2"/><circle cx="1028.3" cy="1942.5" r="4.2"/><circle cx="788.2" cy="1895.7" r="4.2"/><circle cx="904.6" cy="1803.1" r="4.2"/><circle cx="946.7" cy="1907.3" r="4.2"/><circle cx="1129.8" cy="1875.2" r="4.2"/><circle cx="1092.7" cy="1704.4" r="4.2"/><circle cx="879.1" cy="1830.7" r="4.2"/><circle cx="1148.1" cy="1783.4" r="4.2"/><circle cx="1032.1" cy="1998.6" r="4.2"/><circle cx="911.7" cy="1773.7" r="4.2"/><circle cx="1046.8" cy="1925.8" r="4.2"/><circle cx="919.4" cy="2002.7" r="4.2"/><circle cx="922.7" cy="1989.5" r="4.2"/><circle cx="970.3" cy="1799.5" r="4.2"/><circle cx="1058.4" cy="1758.1" r="4.2"/><circle cx="932.6" cy="1994.0" r="4.2"/><circle cx="1102.1" cy="1739.1" r="4.2"/><circle cx="1030.6" cy="1904.5" r="4.2"/><circle cx="1066.1" cy="1946.8" r="4.2"/><circle cx="997.7" cy="1855.5" r="4.2"/><circle cx="914.9" cy="1796.8" r="4.2"/><circle cx="930.3" cy="1927.7" r="4.2"/><circle cx="1012.5" cy="1974.5" r="4.2"/><circle cx="1028.0" cy="1886.5" r="4.2"/><circle cx="1044.8" cy="1913.8" r="4.2"/><circle cx="992.9" cy="1721.9" r="4.2"/><circle cx="967.4" cy="1908.0" r="4.2"/><circle cx="963.7" cy="1936.8" r="4.2"/><circle cx="1015.2" cy="1887.6" r="4.2"/><circle cx="981.4" cy="1680.8" r="4.2"/><circle cx="827.6" cy="1999.3" r="4.2"/><circle cx="989.6" cy="1872.3" r="4.2"/><circle cx="824.7" cy="1971.4" r="4.2"/><circle cx="1006.3" cy="1988.2" r="4.2"/><circle cx="932.1" cy="1723.8" r="4.2"/><circle cx="1014.9" cy="1817.3" r="4.2"/><circle cx="818.3" cy="2002.3" r="4.2"/><circle cx="1025.4" cy="1991.7" r="4.2"/><circle cx="984.1" cy="1845.1" r="4.2"/><circle cx="1146.3" cy="1859.7" r="4.2"/><circle cx="1005.0" cy="1946.7" r="4.2"/><circle cx="995.4" cy="1960.3" r="4.2"/><circle cx="1016.6" cy="1726.5" r="4.2"/><circle cx="1071.7" cy="1884.4" r="4.2"/><circle cx="948.1" cy="1692.5" r="4.2"/><circle cx="1023.9" cy="1909.5" r="4.2"/><circle cx="944.1" cy="1807.8" r="4.2"/><circle cx="1021.1" cy="1810.9" r="4.2"/><circle cx="959.4" cy="1927.1" r="4.2"/><circle cx="1060.5" cy="1971.2" r="4.2"/><circle cx="945.7" cy="1698.7" r="4.2"/><circle cx="1010.9" cy="1837.5" r="4.2"/><circle cx="1038.9" cy="1811.0" r="4.2"/><circle cx="785.9" cy="1918.6" r="4.2"/><circle cx="988.9" cy="1970.3" r="4.2"/><circle cx="909.7" cy="1696.9" r="4.2"/><circle cx="904.3" cy="1932.0" r="4.2"/><circle cx="959.2" cy="1966.4" r="4.2"/><circle cx="785.6" cy="1812.9" r="4.2"/><circle cx="924.0" cy="1823.0" r="4.2"/><circle cx="1046.5" cy="1853.8" r="4.2"/><circle cx="956.9" cy="1845.4" r="4.2"/><circle cx="1028.4" cy="1915.8" r="4.2"/><circle cx="978.4" cy="1968.0" r="4.2"/><circle cx="1111.4" cy="1993.1" r="4.2"/><circle cx="966.8" cy="1833.0" r="4.2"/><circle cx="986.9" cy="1860.1" r="4.2"/><circle cx="989.3" cy="1988.7" r="4.2"/><circle cx="959.9" cy="1914.2" r="4.2"/><circle cx="892.4" cy="1768.3" r="4.2"/><circle cx="1084.4" cy="1917.6" r="4.2"/><circle cx="959.3" cy="1715.6" r="4.2"/><circle cx="1069.8" cy="1916.0" r="4.2"/><circle cx="826.7" cy="1980.1" r="4.2"/><circle cx="941.5" cy="1904.6" r="4.2"/><circle cx="933.2" cy="1960.6" r="4.2"/><circle cx="964.2" cy="1859.1" r="4.2"/><circle cx="902.3" cy="1985.6" r="4.2"/><circle cx="1076.9" cy="1993.1" r="4.2"/><circle cx="1050.5" cy="1918.9" r="4.2"/><circle cx="1137.1" cy="1965.0" r="4.2"/><circle cx="1054.3" cy="1993.9" r="4.2"/><circle cx="966.2" cy="1971.2" r="4.2"/><circle cx="1114.7" cy="1976.3" r="4.2"/><circle cx="788.0" cy="1861.9" r="4.2"/><circle cx="962.8" cy="1950.6" r="4.2"/><circle cx="1104.3" cy="1669.5" r="4.2"/><circle cx="944.1" cy="1986.4" r="4.2"/><circle cx="884.5" cy="1975.3" r="4.2"/><circle cx="954.0" cy="1958.5" r="4.2"/><circle cx="896.3" cy="1749.2" r="4.2"/><circle cx="861.0" cy="1949.3" r="4.2"/><circle cx="884.1" cy="1794.8" r="4.2"/><circle cx="951.1" cy="1989.1" r="4.2"/><circle cx="1093.9" cy="1883.0" r="4.2"/><circle cx="927.9" cy="2005.0" r="4.2"/><circle cx="965.9" cy="2000.1" r="4.2"/><circle cx="1144.3" cy="1858.5" r="4.2"/><circle cx="949.2" cy="1688.5" r="4.2"/><circle cx="915.1" cy="1645.9" r="4.2"/><circle cx="1063.9" cy="1850.6" r="4.2"/><circle cx="1042.9" cy="1977.5" r="4.2"/><circle cx="870.5" cy="1949.9" r="4.2"/><circle cx="1007.0" cy="1956.8" r="4.2"/><circle cx="989.3" cy="1873.0" r="4.2"/><circle cx="1007.8" cy="1871.5" r="4.2"/><circle cx="797.9" cy="1966.0" r="4.2"/><circle cx="941.1" cy="1906.5" r="4.2"/><circle cx="835.4" cy="1971.0" r="4.2"/><circle cx="920.3" cy="1814.3" r="4.2"/><circle cx="830.3" cy="1940.4" r="4.2"/><circle cx="972.2" cy="1934.1" r="4.2"/><circle cx="884.3" cy="1895.4" r="4.2"/><circle cx="919.4" cy="2002.7" r="4.2"/><circle cx="1020.0" cy="1837.6" r="4.2"/><circle cx="936.9" cy="1977.1" r="4.2"/><circle cx="885.8" cy="1864.4" r="4.2"/><circle cx="908.5" cy="1976.2" r="4.2"/><circle cx="967.9" cy="1860.0" r="4.2"/><circle cx="1112.5" cy="1770.0" r="4.2"/><circle cx="910.6" cy="1916.5" r="4.2"/><circle cx="1007.1" cy="1886.9" r="4.2"/><circle cx="1004.5" cy="1942.6" r="4.2"/><circle cx="982.9" cy="1949.3" r="4.2"/><circle cx="839.5" cy="1863.7" r="4.2"/><circle cx="975.7" cy="1924.2" r="4.2"/><circle cx="953.4" cy="1840.1" r="4.2"/><circle cx="1107.8" cy="1908.8" r="4.2"/><circle cx="900.8" cy="1894.9" r="4.2"/><circle cx="922.6" cy="1819.6" r="4.2"/><circle cx="883.6" cy="1974.9" r="4.2"/><circle cx="1061.7" cy="1896.2" r="4.2"/><circle cx="928.2" cy="1938.8" r="4.2"/><circle cx="931.9" cy="1888.7" r="4.2"/><circle cx="838.7" cy="1998.9" r="4.2"/><circle cx="993.4" cy="1857.8" r="4.2"/><circle cx="1048.6" cy="1967.4" r="4.2"/><circle cx="1030.3" cy="1852.8" r="4.2"/><circle cx="812.8" cy="1991.1" r="4.2"/><circle cx="1021.5" cy="1873.7" r="4.2"/><circle cx="1021.6" cy="1991.5" r="4.2"/><circle cx="904.5" cy="1771.2" r="4.2"/><circle cx="878.9" cy="1914.8" r="4.2"/><circle cx="856.5" cy="1785.5" r="4.2"/><circle cx="1138.1" cy="1968.3" r="4.2"/><circle cx="1010.0" cy="1992.2" r="4.2"/><circle cx="1003.4" cy="1782.1" r="4.2"/><circle cx="1061.7" cy="1746.9" r="4.2"/><circle cx="1059.0" cy="1773.5" r="4.2"/><circle cx="1072.9" cy="1987.8" r="4.2"/><circle cx="1055.2" cy="1733.5" r="4.2"/><circle cx="979.2" cy="1844.6" r="4.2"/><circle cx="917.5" cy="1815.7" r="4.2"/><circle cx="1000.8" cy="1827.8" r="4.2"/><circle cx="971.5" cy="1971.2" r="4.2"/><circle cx="1018.8" cy="1873.6" r="4.2"/><circle cx="996.4" cy="1967.9" r="4.2"/><circle cx="944.4" cy="1645.2" r="4.2"/><circle cx="1029.7" cy="1867.7" r="4.2"/><circle cx="880.7" cy="1962.0" r="4.2"/><circle cx="1058.1" cy="1969.6" r="4.2"/><circle cx="1054.8" cy="1955.0" r="4.2"/><circle cx="979.2" cy="1970.9" r="4.2"/><circle cx="1095.9" cy="1814.3" r="4.2"/><circle cx="932.2" cy="1973.6" r="4.2"/><circle cx="986.1" cy="1914.2" r="4.2"/><circle cx="816.3" cy="1877.3" r="4.2"/><circle cx="889.9" cy="1735.8" r="4.2"/><circle cx="842.9" cy="1961.8" r="4.2"/><circle cx="1088.2" cy="1876.7" r="4.2"/><circle cx="886.8" cy="1738.0" r="4.2"/><circle cx="932.3" cy="1840.4" r="4.2"/><circle cx="1132.9" cy="1945.6" r="4.2"/><circle cx="943.8" cy="1902.6" r="4.2"/><circle cx="991.7" cy="1991.7" r="4.2"/><circle cx="1024.1" cy="1798.3" r="4.2"/><circle cx="884.6" cy="1970.8" r="4.2"/><circle cx="1078.0" cy="1826.8" r="4.2"/><circle cx="847.1" cy="1897.8" r="4.2"/><circle cx="979.9" cy="1869.7" r="4.2"/><circle cx="1056.3" cy="1977.5" r="4.2"/><circle cx="1111.7" cy="1929.7" r="4.2"/><circle cx="1059.5" cy="1884.8" r="4.2"/><circle cx="930.0" cy="1822.0" r="4.2"/><circle cx="833.7" cy="1784.0" r="4.2"/><circle cx="970.8" cy="1966.6" r="4.2"/><circle cx="1072.8" cy="1868.6" r="4.2"/><circle cx="1004.0" cy="1880.9" r="4.2"/><circle cx="924.6" cy="1984.9" r="4.2"/><circle cx="946.9" cy="1725.4" r="4.2"/><circle cx="932.0" cy="1975.6" r="4.2"/><circle cx="932.5" cy="1849.4" r="4.2"/><circle cx="970.0" cy="1962.4" r="4.2"/><circle cx="921.5" cy="2001.2" r="4.2"/><circle cx="1025.3" cy="1947.7" r="4.2"/><circle cx="932.2" cy="1973.7" r="4.2"/><circle cx="900.2" cy="1902.6" r="4.2"/><circle cx="907.5" cy="1790.0" r="4.2"/><circle cx="995.2" cy="1941.5" r="4.2"/><circle cx="1035.6" cy="2006.6" r="4.2"/><circle cx="1055.2" cy="1757.9" r="4.2"/><circle cx="911.6" cy="1941.9" r="4.2"/><circle cx="1008.8" cy="1885.6" r="4.2"/><circle cx="937.3" cy="1935.5" r="4.2"/><circle cx="1087.8" cy="1979.5" r="4.2"/><circle cx="969.1" cy="1959.4" r="4.2"/><circle cx="944.7" cy="1946.5" r="4.2"/><circle cx="977.4" cy="1959.8" r="4.2"/><circle cx="983.8" cy="1955.6" r="4.2"/><circle cx="1064.0" cy="1922.6" r="4.2"/><circle cx="1060.9" cy="1642.8" r="4.2"/><circle cx="954.0" cy="1859.5" r="4.2"/><circle cx="922.7" cy="1860.5" r="4.2"/><circle cx="1074.2" cy="2004.3" r="4.2"/><circle cx="887.0" cy="1676.0" r="4.2"/><circle cx="852.3" cy="1966.5" r="4.2"/><circle cx="1033.2" cy="1643.3" r="4.2"/><circle cx="957.3" cy="1929.7" r="4.2"/><circle cx="882.4" cy="1895.0" r="4.2"/><circle cx="929.2" cy="1961.2" r="4.2"/><circle cx="1074.1" cy="1898.1" r="4.2"/><circle cx="1065.0" cy="1901.2" r="4.2"/><circle cx="975.0" cy="1774.1" r="4.2"/><circle cx="949.6" cy="1857.4" r="4.2"/><circle cx="1055.2" cy="1879.3" r="4.2"/><circle cx="977.7" cy="1895.8" r="4.2"/><circle cx="903.6" cy="1905.3" r="4.2"/><circle cx="962.5" cy="2006.3" r="4.2"/><circle cx="1038.6" cy="1891.9" r="4.2"/><circle cx="901.1" cy="1807.0" r="4.2"/><circle cx="980.2" cy="1666.3" r="4.2"/><circle cx="943.3" cy="1666.0" r="4.2"/><circle cx="1048.3" cy="1661.5" r="4.2"/><circle cx="855.8" cy="1917.6" r="4.2"/><circle cx="858.2" cy="1972.2" r="4.2"/><circle cx="876.1" cy="1913.1" r="4.2"/><circle cx="847.1" cy="1806.2" r="4.2"/><circle cx="928.2" cy="1957.2" r="4.2"/><circle cx="947.3" cy="1976.7" r="4.2"/><circle cx="1058.1" cy="1745.2" r="4.2"/><circle cx="897.4" cy="1958.0" r="4.2"/><circle cx="878.4" cy="1941.5" r="4.2"/><circle cx="1001.4" cy="1934.8" r="4.2"/><circle cx="970.6" cy="1924.3" r="4.2"/><circle cx="965.1" cy="1971.5" r="4.2"/><circle cx="976.9" cy="1948.1" r="4.2"/><circle cx="1126.0" cy="1974.1" r="4.2"/><circle cx="864.4" cy="1903.5" r="4.2"/><circle cx="963.0" cy="1866.1" r="4.2"/><circle cx="1127.9" cy="1733.5" r="4.2"/><circle cx="898.8" cy="1811.6" r="4.2"/><circle cx="993.4" cy="1963.3" r="4.2"/><circle cx="1011.9" cy="1870.5" r="4.2"/><circle cx="1151.5" cy="1848.0" r="4.2"/><circle cx="876.7" cy="1870.6" r="4.2"/><circle cx="880.2" cy="1939.6" r="4.2"/><circle cx="938.8" cy="1778.7" r="4.2"/><circle cx="1116.8" cy="1726.9" r="4.2"/><circle cx="967.4" cy="1959.0" r="4.2"/><circle cx="1136.6" cy="1798.8" r="4.2"/><circle cx="908.9" cy="1877.2" r="4.2"/><circle cx="990.5" cy="1918.2" r="4.2"/><circle cx="945.8" cy="1968.3" r="4.2"/><circle cx="984.5" cy="1995.0" r="4.2"/><circle cx="898.4" cy="1866.5" r="4.2"/><circle cx="939.5" cy="1837.9" r="4.2"/><circle cx="897.1" cy="1819.9" r="4.2"/><circle cx="1097.2" cy="1972.6" r="4.2"/><circle cx="978.2" cy="1968.8" r="4.2"/><circle cx="980.5" cy="1800.0" r="4.2"/><circle cx="969.5" cy="1757.4" r="4.2"/><circle cx="1063.8" cy="1938.4" r="4.2"/><circle cx="802.5" cy="1925.6" r="4.2"/><circle cx="1103.4" cy="1966.5" r="4.2"/><circle cx="1069.2" cy="1982.4" r="4.2"/><circle cx="1040.6" cy="1840.5" r="4.2"/><circle cx="1068.2" cy="1818.1" r="4.2"/><circle cx="892.6" cy="1942.0" r="4.2"/><circle cx="970.8" cy="1976.9" r="4.2"/><circle cx="873.7" cy="2003.4" r="4.2"/><circle cx="999.4" cy="1801.9" r="4.2"/><circle cx="924.0" cy="1964.4" r="4.2"/><circle cx="1026.7" cy="1806.3" r="4.2"/><circle cx="938.5" cy="1880.7" r="4.2"/><circle cx="973.6" cy="1879.9" r="4.2"/><circle cx="1070.9" cy="1866.8" r="4.2"/><circle cx="1012.0" cy="2005.0" r="4.2"/><circle cx="778.5" cy="1950.9" r="4.2"/><circle cx="1018.4" cy="1902.7" r="4.2"/><circle cx="869.6" cy="1965.0" r="4.2"/><circle cx="952.6" cy="1949.0" r="4.2"/><circle cx="1090.5" cy="1636.4" r="4.2"/><circle cx="1041.1" cy="1959.3" r="4.2"/><circle cx="1067.3" cy="1781.0" r="4.2"/><circle cx="839.4" cy="1963.7" r="4.2"/><circle cx="993.5" cy="1950.3" r="4.2"/><circle cx="1040.4" cy="1970.3" r="4.2"/><circle cx="1028.7" cy="1709.5" r="4.2"/><circle cx="1023.0" cy="1842.0" r="4.2"/><circle cx="845.0" cy="1846.2" r="4.2"/><circle cx="1004.2" cy="1929.2" r="4.2"/><circle cx="871.0" cy="1748.8" r="4.2"/><circle cx="926.9" cy="1941.1" r="4.2"/><circle cx="934.4" cy="1946.2" r="4.2"/><circle cx="879.6" cy="1796.8" r="4.2"/><circle cx="1041.6" cy="1632.2" r="4.2"/><circle cx="1085.0" cy="1929.8" r="4.2"/><circle cx="1038.1" cy="1992.2" r="4.2"/><circle cx="1034.5" cy="2005.8" r="4.2"/><circle cx="949.6" cy="1631.1" r="4.2"/><circle cx="900.2" cy="1993.1" r="4.2"/><circle cx="865.0" cy="1855.0" r="4.2"/><circle cx="871.7" cy="1945.2" r="4.2"/><circle cx="919.1" cy="1975.5" r="4.2"/><circle cx="957.6" cy="1956.1" r="4.2"/><circle cx="977.6" cy="1672.1" r="4.2"/><circle cx="854.2" cy="1975.8" r="4.2"/><circle cx="998.3" cy="1943.0" r="4.2"/><circle cx="912.3" cy="2003.0" r="4.2"/><circle cx="1046.4" cy="1928.9" r="4.2"/><circle cx="1004.2" cy="1995.2" r="4.2"/><circle cx="1145.1" cy="1853.1" r="4.2"/><circle cx="982.6" cy="1991.4" r="4.2"/><circle cx="968.6" cy="1967.7" r="4.2"/><circle cx="1051.6" cy="1885.8" r="4.2"/><circle cx="1072.4" cy="1853.7" r="4.2"/><circle cx="908.8" cy="1774.4" r="4.2"/><circle cx="971.5" cy="1823.5" r="4.2"/><circle cx="878.3" cy="1853.2" r="4.2"/><circle cx="912.9" cy="1989.1" r="4.2"/><circle cx="886.5" cy="1639.3" r="4.2"/><circle cx="957.2" cy="1946.7" r="4.2"/><circle cx="1107.8" cy="1720.0" r="4.2"/><circle cx="1058.6" cy="1993.0" r="4.2"/><circle cx="986.4" cy="1938.1" r="4.2"/><circle cx="939.5" cy="1920.8" r="4.2"/><circle cx="1021.0" cy="1969.2" r="4.2"/><circle cx="907.0" cy="1986.0" r="4.2"/><circle cx="942.6" cy="2003.3" r="4.2"/><circle cx="979.0" cy="1973.7" r="4.2"/><circle cx="1014.0" cy="1967.9" r="4.2"/><circle cx="1053.4" cy="1978.8" r="4.2"/><circle cx="963.4" cy="1824.4" r="4.2"/><circle cx="895.1" cy="1706.3" r="4.2"/><circle cx="890.3" cy="1931.8" r="4.2"/><circle cx="878.8" cy="1950.9" r="4.2"/><circle cx="994.1" cy="1800.4" r="4.2"/><circle cx="1031.1" cy="1772.0" r="4.2"/><circle cx="946.7" cy="1932.5" r="4.2"/><circle cx="1113.2" cy="1868.3" r="4.2"/><circle cx="1104.5" cy="1644.3" r="4.2"/><circle cx="836.1" cy="1858.4" r="4.2"/><circle cx="935.9" cy="1870.1" r="4.2"/><circle cx="940.1" cy="1680.6" r="4.2"/><circle cx="936.0" cy="1963.2" r="4.2"/><circle cx="920.3" cy="2005.1" r="4.2"/><circle cx="868.2" cy="1815.5" r="4.2"/><circle cx="980.4" cy="1916.9" r="4.2"/><circle cx="1133.0" cy="1876.2" r="4.2"/><circle cx="975.4" cy="1808.5" r="4.2"/><circle cx="883.8" cy="1952.1" r="4.2"/><circle cx="1111.5" cy="1946.8" r="4.2"/><circle cx="941.9" cy="1895.2" r="4.2"/><circle cx="904.5" cy="1964.3" r="4.2"/><circle cx="997.3" cy="1924.5" r="4.2"/><circle cx="856.6" cy="1872.4" r="4.2"/><circle cx="980.3" cy="1980.6" r="4.2"/><circle cx="1053.5" cy="1981.3" r="4.2"/><circle cx="947.8" cy="1932.0" r="4.2"/><circle cx="1011.7" cy="1974.2" r="4.2"/><circle cx="927.0" cy="1855.2" r="4.2"/><circle cx="986.4" cy="1720.1" r="4.2"/><circle cx="984.4" cy="1993.1" r="4.2"/><circle cx="960.8" cy="2002.2" r="4.2"/><circle cx="1006.4" cy="1940.7" r="4.2"/><circle cx="913.5" cy="1991.0" r="4.2"/><circle cx="873.3" cy="1889.2" r="4.2"/><circle cx="905.4" cy="1750.0" r="4.2"/><circle cx="879.0" cy="1922.4" r="4.2"/><circle cx="901.2" cy="1988.4" r="4.2"/><circle cx="1032.5" cy="1982.0" r="4.2"/><circle cx="904.9" cy="1819.8" r="4.2"/><circle cx="1055.4" cy="1906.2" r="4.2"/><circle cx="841.4" cy="2006.4" r="4.2"/><circle cx="875.1" cy="1898.0" r="4.2"/><circle cx="978.1" cy="1681.8" r="4.2"/><circle cx="1010.8" cy="1973.4" r="4.2"/><circle cx="930.5" cy="1956.5" r="4.2"/><circle cx="950.3" cy="1880.5" r="4.2"/><circle cx="995.5" cy="1807.7" r="4.2"/><circle cx="873.3" cy="1921.0" r="4.2"/><circle cx="957.9" cy="1949.3" r="4.2"/><circle cx="989.0" cy="1963.1" r="4.2"/><circle cx="893.3" cy="1971.5" r="4.2"/><circle cx="904.6" cy="1826.5" r="4.2"/><circle cx="1015.1" cy="1864.9" r="4.2"/><circle cx="1148.6" cy="1805.1" r="4.2"/><circle cx="927.5" cy="1914.0" r="4.2"/><circle cx="1043.7" cy="1987.3" r="4.2"/><circle cx="913.4" cy="1807.1" r="4.2"/><circle cx="846.5" cy="1987.7" r="4.2"/><circle cx="941.3" cy="1882.1" r="4.2"/><circle cx="1113.4" cy="1999.0" r="4.2"/><circle cx="981.7" cy="1800.2" r="4.2"/><circle cx="1004.5" cy="1808.6" r="4.2"/><circle cx="937.7" cy="2006.9" r="4.2"/><circle cx="973.7" cy="1916.8" r="4.2"/><circle cx="1023.0" cy="1847.2" r="4.2"/><circle cx="868.9" cy="1854.7" r="4.2"/><circle cx="995.7" cy="1799.0" r="4.2"/><circle cx="984.2" cy="1930.1" r="4.2"/><circle cx="1073.5" cy="1956.7" r="4.2"/><circle cx="915.5" cy="1893.5" r="4.2"/><circle cx="775.3" cy="1873.1" r="4.2"/><circle cx="922.5" cy="1958.9" r="4.2"/><circle cx="835.7" cy="1815.4" r="4.2"/><circle cx="1088.7" cy="1947.7" r="4.2"/><circle cx="935.0" cy="1796.6" r="4.2"/><circle cx="1056.0" cy="1809.1" r="4.2"/><circle cx="915.5" cy="1918.0" r="4.2"/><circle cx="940.1" cy="1868.6" r="4.2"/><circle cx="967.4" cy="1785.6" r="4.2"/><circle cx="993.5" cy="1900.8" r="4.2"/><circle cx="864.6" cy="1967.5" r="4.2"/><circle cx="1020.3" cy="1848.3" r="4.2"/><circle cx="980.1" cy="1989.7" r="4.2"/><circle cx="1015.0" cy="1842.8" r="4.2"/><circle cx="1037.8" cy="1910.4" r="4.2"/><circle cx="1089.5" cy="1926.6" r="4.2"/><circle cx="979.9" cy="1799.9" r="4.2"/><circle cx="985.1" cy="1812.5" r="4.2"/><circle cx="1043.3" cy="1967.1" r="4.2"/><circle cx="797.7" cy="1793.2" r="4.2"/><circle cx="977.2" cy="1769.8" r="4.2"/><circle cx="1091.7" cy="1822.8" r="4.2"/><circle cx="1057.6" cy="1935.8" r="4.2"/><circle cx="834.1" cy="1926.8" r="4.2"/><circle cx="968.8" cy="1875.6" r="4.2"/><circle cx="964.4" cy="1821.2" r="4.2"/><circle cx="908.6" cy="1977.3" r="4.2"/><circle cx="965.5" cy="1798.1" r="4.2"/><circle cx="990.7" cy="1950.5" r="4.2"/><circle cx="1056.1" cy="1887.3" r="4.2"/><circle cx="896.5" cy="1787.2" r="4.2"/><circle cx="1025.0" cy="1934.2" r="4.2"/><circle cx="898.3" cy="1931.7" r="4.2"/><circle cx="963.2" cy="1947.8" r="4.2"/><circle cx="1037.6" cy="1658.2" r="4.2"/><circle cx="957.3" cy="2000.8" r="4.2"/><circle cx="869.3" cy="1898.9" r="4.2"/><circle cx="1057.9" cy="1712.1" r="4.2"/><circle cx="961.0" cy="1962.5" r="4.2"/><circle cx="1018.7" cy="1966.9" r="4.2"/><circle cx="973.8" cy="1887.8" r="4.2"/><circle cx="1052.4" cy="1806.7" r="4.2"/><circle cx="1138.5" cy="1918.8" r="4.2"/><circle cx="916.2" cy="1666.8" r="4.2"/><circle cx="906.2" cy="1986.9" r="4.2"/><circle cx="975.4" cy="1835.7" r="4.2"/><circle cx="967.0" cy="1951.8" r="4.2"/><circle cx="981.9" cy="1895.4" r="4.2"/><circle cx="832.8" cy="1967.4" r="4.2"/><circle cx="869.9" cy="1967.4" r="4.2"/><circle cx="989.6" cy="1814.6" r="4.2"/><circle cx="833.7" cy="1995.3" r="4.2"/><circle cx="1071.0" cy="1779.0" r="4.2"/><circle cx="1019.2" cy="1993.7" r="4.2"/><circle cx="924.8" cy="1733.7" r="4.2"/><circle cx="887.2" cy="1904.0" r="4.2"/><circle cx="972.0" cy="1927.9" r="4.2"/><circle cx="947.0" cy="1904.7" r="4.2"/><circle cx="1048.6" cy="1953.5" r="4.2"/><circle cx="1132.2" cy="1996.8" r="4.2"/><circle cx="952.3" cy="1909.9" r="4.2"/><circle cx="1023.4" cy="1909.7" r="4.2"/><circle cx="945.3" cy="1983.6" r="4.2"/><circle cx="940.2" cy="1810.3" r="4.2"/><circle cx="989.5" cy="1990.4" r="4.2"/><circle cx="853.7" cy="1944.6" r="4.2"/><circle cx="879.8" cy="1927.4" r="4.2"/><circle cx="830.3" cy="1927.2" r="4.2"/><circle cx="1030.7" cy="1974.9" r="4.2"/><circle cx="1049.3" cy="1987.4" r="4.2"/><circle cx="1021.4" cy="1680.5" r="4.2"/><circle cx="967.2" cy="1949.5" r="4.2"/><circle cx="897.1" cy="1636.0" r="4.2"/><circle cx="994.7" cy="1976.2" r="4.2"/><circle cx="1131.2" cy="1950.2" r="4.2"/><circle cx="1007.2" cy="1996.6" r="4.2"/><circle cx="1079.1" cy="1997.6" r="4.2"/><circle cx="998.9" cy="1880.6" r="4.2"/><circle cx="1076.3" cy="1973.7" r="4.2"/><circle cx="837.5" cy="1999.9" r="4.2"/><circle cx="1101.6" cy="1817.9" r="4.2"/><circle cx="1028.6" cy="1800.9" r="4.2"/><circle cx="1103.2" cy="1950.4" r="4.2"/><circle cx="1130.4" cy="1894.7" r="4.2"/><circle cx="956.8" cy="1975.2" r="4.2"/><circle cx="999.5" cy="1943.5" r="4.2"/><circle cx="903.1" cy="1938.7" r="4.2"/><circle cx="973.1" cy="1931.6" r="4.2"/><circle cx="886.4" cy="1983.6" r="4.2"/><circle cx="1006.1" cy="1872.8" r="4.2"/><circle cx="956.4" cy="1871.3" r="4.2"/><circle cx="1000.7" cy="1678.7" r="4.2"/><circle cx="1026.0" cy="2001.8" r="4.2"/><circle cx="947.5" cy="1756.0" r="4.2"/><circle cx="1022.4" cy="1899.3" r="4.2"/><circle cx="1015.5" cy="1896.8" r="4.2"/><circle cx="867.1" cy="1844.3" r="4.2"/><circle cx="916.6" cy="1922.5" r="4.2"/><circle cx="968.4" cy="1814.4" r="4.2"/><circle cx="1000.6" cy="1914.5" r="4.2"/><circle cx="1014.3" cy="1935.2" r="4.2"/><circle cx="923.5" cy="1982.9" r="4.2"/><circle cx="1000.1" cy="1923.4" r="4.2"/><circle cx="997.3" cy="1817.8" r="4.2"/><circle cx="834.8" cy="1985.6" r="4.2"/><circle cx="1064.0" cy="1937.8" r="4.2"/><circle cx="1089.3" cy="1707.6" r="4.2"/><circle cx="895.4" cy="1873.2" r="4.2"/><circle cx="971.8" cy="1994.3" r="4.2"/><circle cx="958.5" cy="1847.1" r="4.2"/><circle cx="799.8" cy="1892.2" r="4.2"/><circle cx="1089.9" cy="1795.7" r="4.2"/><circle cx="944.6" cy="1876.2" r="4.2"/><circle cx="1087.4" cy="1939.1" r="4.2"/><circle cx="968.6" cy="1886.8" r="4.2"/><circle cx="1125.6" cy="1894.5" r="4.2"/><circle cx="1091.6" cy="1944.3" r="4.2"/><circle cx="978.5" cy="1982.6" r="4.2"/><circle cx="786.6" cy="1862.4" r="4.2"/><circle cx="878.5" cy="1979.5" r="4.2"/><circle cx="943.7" cy="1984.2" r="4.2"/><circle cx="995.6" cy="2000.8" r="4.2"/><circle cx="965.4" cy="1996.6" r="4.2"/><circle cx="862.5" cy="1899.4" r="4.2"/><circle cx="928.0" cy="1841.4" r="4.2"/><circle cx="973.0" cy="1843.7" r="4.2"/><circle cx="929.2" cy="1948.7" r="4.2"/><circle cx="917.4" cy="1856.3" r="4.2"/><circle cx="959.8" cy="1885.6" r="4.2"/><circle cx="1027.1" cy="1860.4" r="4.2"/><circle cx="990.5" cy="1872.9" r="4.2"/><circle cx="957.1" cy="1936.2" r="4.2"/><circle cx="1035.7" cy="1996.7" r="4.2"/><circle cx="976.0" cy="1938.5" r="4.2"/><circle cx="914.8" cy="1808.6" r="4.2"/><circle cx="975.7" cy="1893.5" r="4.2"/><circle cx="962.9" cy="1989.6" r="4.2"/><circle cx="964.4" cy="1798.1" r="4.2"/><circle cx="918.7" cy="1842.7" r="4.2"/><circle cx="1024.4" cy="1812.9" r="4.2"/><circle cx="1099.0" cy="1694.0" r="4.2"/><circle cx="1133.1" cy="1915.7" r="4.2"/><circle cx="983.4" cy="1830.5" r="4.2"/><circle cx="957.3" cy="1831.2" r="4.2"/><circle cx="1074.4" cy="1791.7" r="4.2"/><circle cx="969.0" cy="1935.1" r="4.2"/><circle cx="1015.6" cy="1728.9" r="4.2"/><circle cx="981.1" cy="1960.0" r="4.2"/><circle cx="1115.1" cy="1956.9" r="4.2"/><circle cx="891.1" cy="1950.2" r="4.2"/><circle cx="1008.3" cy="1930.4" r="4.2"/><circle cx="1016.4" cy="1917.8" r="4.2"/><circle cx="1111.2" cy="1841.8" r="4.2"/><circle cx="990.1" cy="1927.0" r="4.2"/><circle cx="1018.0" cy="1866.4" r="4.2"/><circle cx="945.2" cy="1767.2" r="4.2"/><circle cx="966.5" cy="1906.5" r="4.2"/><circle cx="932.1" cy="1891.9" r="4.2"/><circle cx="1106.5" cy="1897.1" r="4.2"/><circle cx="1061.5" cy="1979.4" r="4.2"/><circle cx="992.4" cy="1906.2" r="4.2"/><circle cx="1028.9" cy="1864.2" r="4.2"/><circle cx="1023.0" cy="1947.4" r="4.2"/><circle cx="879.7" cy="1969.6" r="4.2"/><circle cx="1010.9" cy="1992.6" r="4.2"/><circle cx="962.8" cy="1979.7" r="4.2"/><circle cx="1036.3" cy="1851.9" r="4.2"/><circle cx="1024.7" cy="1927.6" r="4.2"/><circle cx="1052.7" cy="1924.8" r="4.2"/><circle cx="1030.8" cy="1948.0" r="4.2"/><circle cx="993.9" cy="1897.1" r="4.2"/><circle cx="1003.9" cy="1687.1" r="4.2"/><circle cx="803.7" cy="1919.4" r="4.2"/><circle cx="1015.1" cy="1863.8" r="4.2"/><circle cx="898.3" cy="1631.7" r="4.2"/><circle cx="983.3" cy="1921.7" r="4.2"/><circle cx="902.2" cy="1946.9" r="4.2"/><circle cx="1014.3" cy="1956.8" r="4.2"/><circle cx="966.7" cy="1851.9" r="4.2"/><circle cx="1024.5" cy="1936.9" r="4.2"/><circle cx="914.1" cy="1892.4" r="4.2"/><circle cx="1033.6" cy="1989.1" r="4.2"/><circle cx="943.1" cy="1823.3" r="4.2"/><circle cx="967.8" cy="1743.4" r="4.2"/><circle cx="998.2" cy="1855.6" r="4.2"/><circle cx="914.9" cy="1794.1" r="4.2"/><circle cx="1058.5" cy="1887.0" r="4.2"/><circle cx="1034.2" cy="1845.0" r="4.2"/><circle cx="880.1" cy="1982.2" r="4.2"/><circle cx="892.5" cy="1904.9" r="4.2"/><circle cx="980.2" cy="1920.0" r="4.2"/><circle cx="835.8" cy="1931.3" r="4.2"/><circle cx="947.0" cy="1930.1" r="4.2"/><circle cx="949.1" cy="1923.4" r="4.2"/><circle cx="936.8" cy="1891.7" r="4.2"/><circle cx="967.9" cy="1932.4" r="4.2"/><circle cx="977.7" cy="1884.0" r="4.2"/><circle cx="938.3" cy="1966.8" r="4.2"/><circle cx="1147.2" cy="1926.3" r="4.2"/><circle cx="1102.9" cy="1658.8" r="4.2"/><circle cx="1055.5" cy="1986.1" r="4.2"/><circle cx="1025.8" cy="1904.2" r="4.2"/><circle cx="946.2" cy="1640.5" r="4.2"/><circle cx="858.3" cy="1931.6" r="4.2"/><circle cx="1000.0" cy="1960.5" r="4.2"/><circle cx="1086.6" cy="1896.1" r="4.2"/><circle cx="944.9" cy="1996.4" r="4.2"/><circle cx="1031.0" cy="1793.7" r="4.2"/><circle cx="838.3" cy="1946.1" r="4.2"/><circle cx="941.6" cy="1918.2" r="4.2"/><circle cx="832.7" cy="1858.1" r="4.2"/><circle cx="1042.4" cy="1974.7" r="4.2"/><circle cx="888.1" cy="1900.9" r="4.2"/><circle cx="970.6" cy="2002.7" r="4.2"/><circle cx="903.1" cy="1979.4" r="4.2"/><circle cx="1064.6" cy="1976.8" r="4.2"/><circle cx="896.1" cy="1827.3" r="4.2"/><circle cx="1007.0" cy="1846.1" r="4.2"/><circle cx="1019.7" cy="1662.7" r="4.2"/><circle cx="1039.8" cy="1739.0" r="4.2"/><circle cx="1059.9" cy="1631.3" r="4.2"/><circle cx="1104.1" cy="1901.6" r="4.2"/><circle cx="964.0" cy="1684.9" r="4.2"/><circle cx="1048.6" cy="1756.1" r="4.2"/><circle cx="888.6" cy="1887.5" r="4.2"/><circle cx="926.3" cy="1919.1" r="4.2"/><circle cx="862.4" cy="1961.4" r="4.2"/><circle cx="1048.0" cy="1842.1" r="4.2"/><circle cx="1125.2" cy="1920.8" r="4.2"/><circle cx="1119.9" cy="1663.4" r="4.2"/><circle cx="1042.0" cy="1847.1" r="4.2"/><circle cx="951.8" cy="1792.9" r="4.2"/><circle cx="1096.4" cy="1822.4" r="4.2"/><circle cx="970.2" cy="1828.8" r="4.2"/><circle cx="1114.1" cy="1885.4" r="4.2"/><circle cx="1047.1" cy="1956.9" r="4.2"/><circle cx="1020.5" cy="1802.0" r="4.2"/><circle cx="916.9" cy="1978.8" r="4.2"/><circle cx="920.4" cy="1958.0" r="4.2"/><circle cx="847.5" cy="1921.0" r="4.2"/><circle cx="948.3" cy="1771.5" r="4.2"/><circle cx="1011.8" cy="1987.4" r="4.2"/><circle cx="929.2" cy="1981.1" r="4.2"/><circle cx="957.8" cy="1769.0" r="4.2"/><circle cx="1038.9" cy="1961.1" r="4.2"/><circle cx="1077.6" cy="1985.3" r="4.2"/><circle cx="886.2" cy="2004.4" r="4.2"/><circle cx="1064.9" cy="1858.7" r="4.2"/><circle cx="943.5" cy="1919.6" r="4.2"/><circle cx="968.9" cy="1948.1" r="4.2"/><circle cx="940.1" cy="1951.2" r="4.2"/><circle cx="1027.2" cy="1943.4" r="4.2"/><circle cx="789.9" cy="1989.2" r="4.2"/><circle cx="1036.1" cy="1930.0" r="4.2"/><circle cx="918.3" cy="1848.2" r="4.2"/><circle cx="869.2" cy="1911.6" r="4.2"/><circle cx="1065.4" cy="1989.4" r="4.2"/><circle cx="1082.4" cy="1918.6" r="4.2"/><circle cx="945.0" cy="1976.0" r="4.2"/><circle cx="956.1" cy="1733.8" r="4.2"/><circle cx="1045.3" cy="1929.4" r="4.2"/><circle cx="945.7" cy="1807.5" r="4.2"/><circle cx="869.0" cy="1981.9" r="4.2"/><circle cx="973.7" cy="1861.0" r="4.2"/><circle cx="1051.6" cy="2002.9" r="4.2"/><circle cx="1006.7" cy="1881.9" r="4.2"/><circle cx="918.0" cy="1894.1" r="4.2"/><circle cx="925.2" cy="1964.9" r="4.2"/><circle cx="962.4" cy="1939.5" r="4.2"/><circle cx="977.7" cy="1883.6" r="4.2"/><circle cx="1071.6" cy="1800.1" r="4.2"/><circle cx="994.6" cy="1805.3" r="4.2"/><circle cx="861.8" cy="1939.1" r="4.2"/><circle cx="906.2" cy="1893.3" r="4.2"/><circle cx="916.6" cy="1802.1" r="4.2"/><circle cx="871.7" cy="1925.1" r="4.2"/><circle cx="898.9" cy="1816.4" r="4.2"/><circle cx="915.5" cy="1923.2" r="4.2"/><circle cx="880.0" cy="1976.0" r="4.2"/><circle cx="885.8" cy="1925.1" r="4.2"/><circle cx="1087.7" cy="1940.2" r="4.2"/><circle cx="1017.6" cy="1815.5" r="4.2"/><circle cx="1142.8" cy="1820.2" r="4.2"/><circle cx="1009.0" cy="1706.2" r="4.2"/><circle cx="1023.8" cy="1950.8" r="4.2"/><circle cx="1077.1" cy="1934.5" r="4.2"/><circle cx="1021.5" cy="1867.2" r="4.2"/><circle cx="926.3" cy="1866.8" r="4.2"/><circle cx="939.9" cy="1789.8" r="4.2"/><circle cx="951.9" cy="1906.7" r="4.2"/><circle cx="967.7" cy="1715.7" r="4.2"/><circle cx="981.0" cy="1927.3" r="4.2"/><circle cx="1042.9" cy="1918.7" r="4.2"/><circle cx="1006.9" cy="1811.7" r="4.2"/><circle cx="949.9" cy="1882.2" r="4.2"/><circle cx="847.2" cy="1932.5" r="4.2"/><circle cx="1033.5" cy="1845.8" r="4.2"/><circle cx="1070.3" cy="1918.0" r="4.2"/><circle cx="892.5" cy="1670.1" r="4.2"/><circle cx="959.5" cy="1998.9" r="4.2"/><circle cx="1022.1" cy="1919.4" r="4.2"/><circle cx="1067.3" cy="1854.0" r="4.2"/><circle cx="976.8" cy="1714.0" r="4.2"/><circle cx="839.1" cy="1987.0" r="4.2"/><circle cx="1020.4" cy="1982.4" r="4.2"/><circle cx="1055.9" cy="1945.0" r="4.2"/><circle cx="971.1" cy="1996.2" r="4.2"/><circle cx="1000.2" cy="1831.3" r="4.2"/><circle cx="1060.1" cy="1894.3" r="4.2"/><circle cx="1009.5" cy="1933.4" r="4.2"/><circle cx="978.9" cy="1887.0" r="4.2"/><circle cx="1040.8" cy="1937.0" r="4.2"/><circle cx="1028.2" cy="1958.4" r="4.2"/><circle cx="1045.3" cy="1888.0" r="4.2"/><circle cx="904.9" cy="1879.1" r="4.2"/><circle cx="942.8" cy="1897.4" r="4.2"/><circle cx="903.7" cy="1996.9" r="4.2"/><circle cx="1080.4" cy="1933.9" r="4.2"/><circle cx="1104.5" cy="1931.5" r="4.2"/><circle cx="897.8" cy="1927.2" r="4.2"/><circle cx="1077.0" cy="1968.5" r="4.2"/><circle cx="1044.9" cy="1952.2" r="4.2"/><circle cx="979.1" cy="1990.8" r="4.2"/><circle cx="889.8" cy="1640.5" r="4.2"/><circle cx="951.2" cy="1969.3" r="4.2"/><circle cx="1069.0" cy="1928.9" r="4.2"/><circle cx="936.7" cy="1865.2" r="4.2"/><circle cx="973.9" cy="1999.5" r="4.2"/><circle cx="853.2" cy="1858.7" r="4.2"/><circle cx="871.7" cy="1979.1" r="4.2"/><circle cx="918.5" cy="1977.0" r="4.2"/><circle cx="1007.3" cy="1844.8" r="4.2"/><circle cx="990.7" cy="1768.4" r="4.2"/><circle cx="1003.8" cy="1999.1" r="4.2"/><circle cx="947.0" cy="1893.2" r="4.2"/><circle cx="1044.2" cy="1960.6" r="4.2"/><circle cx="930.4" cy="1675.7" r="4.2"/><circle cx="961.6" cy="1840.3" r="4.2"/><circle cx="1044.8" cy="1848.6" r="4.2"/><circle cx="927.5" cy="1860.5" r="4.2"/><circle cx="1069.4" cy="1808.7" r="4.2"/><circle cx="1033.2" cy="1930.1" r="4.2"/><circle cx="957.2" cy="1887.2" r="4.2"/><circle cx="1043.1" cy="1936.0" r="4.2"/><circle cx="873.5" cy="1827.3" r="4.2"/><circle cx="1068.1" cy="1971.8" r="4.2"/><circle cx="1060.1" cy="1934.1" r="4.2"/><circle cx="873.4" cy="1862.8" r="4.2"/><circle cx="863.9" cy="2005.3" r="4.2"/><circle cx="846.0" cy="1846.8" r="4.2"/><circle cx="819.9" cy="1942.6" r="4.2"/><circle cx="1072.9" cy="1970.2" r="4.2"/><circle cx="956.3" cy="1933.2" r="4.2"/><circle cx="857.1" cy="1962.1" r="4.2"/><circle cx="948.9" cy="1944.0" r="4.2"/><circle cx="874.8" cy="1871.3" r="4.2"/><circle cx="828.5" cy="1916.8" r="4.2"/><circle cx="1019.1" cy="1718.6" r="4.2"/><circle cx="1119.2" cy="1999.2" r="4.2"/><circle cx="868.0" cy="1933.6" r="4.2"/><circle cx="1005.7" cy="1737.6" r="4.2"/><circle cx="993.7" cy="1999.5" r="4.2"/><circle cx="1053.8" cy="1755.3" r="4.2"/><circle cx="910.0" cy="1858.0" r="4.2"/><circle cx="999.2" cy="1930.7" r="4.2"/><circle cx="929.3" cy="1844.1" r="4.2"/><circle cx="1063.6" cy="1847.3" r="4.2"/><circle cx="949.2" cy="1675.3" r="4.2"/><circle cx="882.3" cy="1996.1" r="4.2"/><circle cx="880.5" cy="1730.4" r="4.2"/><circle cx="1001.9" cy="1979.0" r="4.2"/><circle cx="1007.0" cy="1857.3" r="4.2"/><circle cx="866.8" cy="1741.4" r="4.2"/><circle cx="1037.0" cy="1978.7" r="4.2"/><circle cx="976.9" cy="1661.8" r="4.2"/><circle cx="1069.3" cy="1895.3" r="4.2"/><circle cx="981.1" cy="1906.8" r="4.2"/><circle cx="981.1" cy="2004.8" r="4.2"/><circle cx="1015.4" cy="1785.0" r="4.2"/><circle cx="943.4" cy="1953.9" r="4.2"/><circle cx="1005.4" cy="1991.7" r="4.2"/><circle cx="929.6" cy="1967.3" r="4.2"/><circle cx="927.7" cy="1930.3" r="4.2"/><circle cx="845.5" cy="1956.4" r="4.2"/><circle cx="902.2" cy="1743.9" r="4.2"/><circle cx="997.5" cy="1797.3" r="4.2"/><circle cx="933.4" cy="1830.9" r="4.2"/><circle cx="1034.5" cy="1795.3" r="4.2"/><circle cx="921.6" cy="1900.9" r="4.2"/><circle cx="866.0" cy="1880.9" r="4.2"/><circle cx="878.6" cy="1844.0" r="4.2"/><circle cx="879.3" cy="1973.1" r="4.2"/><circle cx="1072.6" cy="1935.8" r="4.2"/><circle cx="902.8" cy="1992.7" r="4.2"/><circle cx="1049.3" cy="1967.3" r="4.2"/><circle cx="846.3" cy="1814.4" r="4.2"/><circle cx="844.4" cy="1928.5" r="4.2"/><circle cx="1115.7" cy="1756.6" r="4.2"/><circle cx="824.6" cy="1977.2" r="4.2"/><circle cx="1049.4" cy="1856.5" r="4.2"/><circle cx="1134.1" cy="1913.8" r="4.2"/><circle cx="1017.1" cy="1962.7" r="4.2"/><circle cx="998.5" cy="1855.9" r="4.2"/><circle cx="943.6" cy="1964.8" r="4.2"/><circle cx="956.5" cy="1907.9" r="4.2"/><circle cx="971.1" cy="1853.9" r="4.2"/><circle cx="962.5" cy="1914.7" r="4.2"/><circle cx="1111.2" cy="1908.0" r="4.2"/><circle cx="1100.3" cy="1857.7" r="4.2"/><circle cx="875.1" cy="1902.3" r="4.2"/><circle cx="944.7" cy="1833.3" r="4.2"/><circle cx="907.6" cy="1932.2" r="4.2"/><circle cx="937.7" cy="1994.2" r="4.2"/><circle cx="1065.3" cy="1820.0" r="4.2"/><circle cx="792.1" cy="1990.5" r="4.2"/><circle cx="1016.0" cy="1751.9" r="4.2"/><circle cx="1010.1" cy="1720.0" r="4.2"/><circle cx="922.0" cy="1893.5" r="4.2"/><circle cx="1038.4" cy="1933.0" r="4.2"/><circle cx="957.9" cy="1727.2" r="4.2"/><circle cx="1006.0" cy="1777.6" r="4.2"/><circle cx="977.4" cy="1759.8" r="4.2"/><circle cx="1136.5" cy="1958.7" r="4.2"/><circle cx="929.9" cy="1916.4" r="4.2"/><circle cx="1152.0" cy="1946.2" r="4.2"/><circle cx="1106.4" cy="1810.5" r="4.2"/><circle cx="926.0" cy="1947.5" r="4.2"/><circle cx="787.5" cy="1999.8" r="4.2"/><circle cx="1092.1" cy="1858.1" r="4.2"/><circle cx="1062.4" cy="2000.8" r="4.2"/><circle cx="852.7" cy="1810.0" r="4.2"/><circle cx="1026.8" cy="1955.2" r="4.2"/><circle cx="958.1" cy="1969.2" r="4.2"/><circle cx="945.9" cy="1836.9" r="4.2"/><circle cx="968.1" cy="1959.4" r="4.2"/><circle cx="1037.7" cy="1999.4" r="4.2"/><circle cx="889.1" cy="1883.5" r="4.2"/><circle cx="1105.3" cy="1957.0" r="4.2"/><circle cx="1021.6" cy="1645.3" r="4.2"/><circle cx="1048.6" cy="1988.2" r="4.2"/><circle cx="934.7" cy="1796.7" r="4.2"/><circle cx="879.2" cy="1859.0" r="4.2"/><circle cx="1081.7" cy="1999.4" r="4.2"/><circle cx="890.9" cy="1921.9" r="4.2"/><circle cx="1121.8" cy="1817.3" r="4.2"/><circle cx="907.1" cy="1977.2" r="4.2"/><circle cx="928.9" cy="1899.1" r="4.2"/><circle cx="1080.7" cy="1907.7" r="4.2"/><circle cx="930.1" cy="1782.2" r="4.2"/><circle cx="1015.7" cy="1980.3" r="4.2"/><circle cx="811.8" cy="1953.7" r="4.2"/><circle cx="950.7" cy="1907.9" r="4.2"/><circle cx="1061.5" cy="1909.9" r="4.2"/><circle cx="887.8" cy="1689.1" r="4.2"/><circle cx="991.2" cy="1690.6" r="4.2"/><circle cx="910.1" cy="1991.3" r="4.2"/><circle cx="1008.4" cy="1848.8" r="4.2"/><circle cx="1085.7" cy="1702.1" r="4.2"/><circle cx="987.5" cy="1801.1" r="4.2"/><circle cx="1064.6" cy="1863.9" r="4.2"/><circle cx="1088.2" cy="1942.8" r="4.2"/><circle cx="901.6" cy="1941.6" r="4.2"/><circle cx="950.3" cy="1898.7" r="4.2"/><circle cx="1018.5" cy="1759.6" r="4.2"/><circle cx="821.8" cy="1891.4" r="4.2"/><circle cx="920.7" cy="1967.3" r="4.2"/><circle cx="1102.9" cy="2005.0" r="4.2"/><circle cx="870.6" cy="1952.1" r="4.2"/><circle cx="820.1" cy="1925.6" r="4.2"/><circle cx="1118.6" cy="1863.9" r="4.2"/><circle cx="970.7" cy="1720.0" r="4.2"/><circle cx="1056.1" cy="1913.2" r="4.2"/><circle cx="840.9" cy="1976.8" r="4.2"/><circle cx="1055.1" cy="1949.3" r="4.2"/><circle cx="1003.0" cy="1672.7" r="4.2"/><circle cx="1005.4" cy="1941.2" r="4.2"/><circle cx="1038.7" cy="1833.8" r="4.2"/><circle cx="1076.9" cy="1911.3" r="4.2"/><circle cx="915.5" cy="2006.8" r="4.2"/><circle cx="987.5" cy="1888.2" r="4.2"/><circle cx="931.4" cy="1817.6" r="4.2"/><circle cx="1058.1" cy="1868.7" r="4.2"/><circle cx="886.6" cy="1803.2" r="4.2"/><circle cx="908.0" cy="1991.2" r="4.2"/><circle cx="1054.0" cy="1947.0" r="4.2"/><circle cx="937.6" cy="1962.2" r="4.2"/><circle cx="1131.6" cy="1903.0" r="4.2"/><circle cx="1080.8" cy="1953.9" r="4.2"/><circle cx="1035.8" cy="1717.2" r="4.2"/><circle cx="1027.9" cy="2006.8" r="4.2"/><circle cx="999.0" cy="1983.6" r="4.2"/><circle cx="1022.5" cy="1920.6" r="4.2"/><circle cx="895.1" cy="1714.6" r="4.2"/><circle cx="998.3" cy="1960.4" r="4.2"/><circle cx="967.8" cy="1980.2" r="4.2"/><circle cx="1093.2" cy="1943.2" r="4.2"/><circle cx="1043.7" cy="1969.4" r="4.2"/><circle cx="862.9" cy="1784.8" r="4.2"/><circle cx="882.0" cy="1973.4" r="4.2"/><circle cx="841.0" cy="1859.0" r="4.2"/><circle cx="911.9" cy="1911.6" r="4.2"/><circle cx="854.8" cy="2003.7" r="4.2"/><circle cx="974.0" cy="1808.0" r="4.2"/><circle cx="905.8" cy="1866.9" r="4.2"/><circle cx="1014.8" cy="1775.0" r="4.2"/><circle cx="849.9" cy="1901.0" r="4.2"/><circle cx="999.7" cy="1832.0" r="4.2"/><circle cx="1016.5" cy="1854.9" r="4.2"/><circle cx="972.9" cy="1872.3" r="4.2"/><circle cx="961.6" cy="1941.9" r="4.2"/><circle cx="963.0" cy="1904.2" r="4.2"/><circle cx="996.6" cy="1917.8" r="4.2"/><circle cx="1074.1" cy="1970.3" r="4.2"/><circle cx="1071.7" cy="1823.3" r="4.2"/><circle cx="1021.5" cy="1923.9" r="4.2"/><circle cx="940.1" cy="1731.6" r="4.2"/><circle cx="844.6" cy="1981.4" r="4.2"/><circle cx="936.8" cy="1948.5" r="4.2"/><circle cx="926.6" cy="1938.0" r="4.2"/><circle cx="890.2" cy="1965.0" r="4.2"/><circle cx="1143.8" cy="1768.6" r="4.2"/><circle cx="948.9" cy="1757.0" r="4.2"/><circle cx="889.6" cy="1953.3" r="4.2"/><circle cx="1028.4" cy="1927.0" r="4.2"/><circle cx="1062.7" cy="1909.2" r="4.2"/><circle cx="807.2" cy="1897.5" r="4.2"/><circle cx="940.3" cy="1883.5" r="4.2"/><circle cx="874.0" cy="1914.1" r="4.2"/><circle cx="799.9" cy="1979.1" r="4.2"/><circle cx="1106.6" cy="2006.1" r="4.2"/><circle cx="941.2" cy="1877.8" r="4.2"/><circle cx="1087.5" cy="1806.5" r="4.2"/><circle cx="901.9" cy="2006.1" r="4.2"/><circle cx="894.2" cy="1987.0" r="4.2"/><circle cx="992.7" cy="1880.4" r="4.2"/><circle cx="956.6" cy="1867.3" r="4.2"/><circle cx="996.8" cy="1972.2" r="4.2"/><circle cx="927.8" cy="1911.8" r="4.2"/><circle cx="913.9" cy="1845.4" r="4.2"/><circle cx="1040.8" cy="2005.6" r="4.2"/><circle cx="1058.7" cy="1742.8" r="4.2"/><circle cx="808.4" cy="1956.9" r="4.2"/><circle cx="990.4" cy="1927.8" r="4.2"/><circle cx="971.8" cy="1932.8" r="4.2"/><circle cx="1062.3" cy="1855.6" r="4.2"/><circle cx="881.4" cy="1950.7" r="4.2"/><circle cx="1040.2" cy="1689.3" r="4.2"/><circle cx="1033.9" cy="2006.9" r="4.2"/><circle cx="923.5" cy="1958.1" r="4.2"/><circle cx="842.0" cy="1972.7" r="4.2"/><circle cx="962.7" cy="1880.4" r="4.2"/><circle cx="982.1" cy="1924.2" r="4.2"/><circle cx="1084.9" cy="1905.1" r="4.2"/><circle cx="973.7" cy="1652.1" r="4.2"/><circle cx="1053.6" cy="1998.5" r="4.2"/><circle cx="1039.2" cy="2004.8" r="4.2"/><circle cx="936.7" cy="1773.7" r="4.2"/><circle cx="865.2" cy="2001.3" r="4.2"/><circle cx="831.0" cy="1907.8" r="4.2"/><circle cx="839.5" cy="1986.1" r="4.2"/><circle cx="868.0" cy="1911.5" r="4.2"/><circle cx="930.7" cy="1897.2" r="4.2"/><circle cx="962.0" cy="1974.8" r="4.2"/><circle cx="1038.4" cy="1849.3" r="4.2"/><circle cx="1083.7" cy="1824.8" r="4.2"/><circle cx="1055.7" cy="1872.3" r="4.2"/><circle cx="848.2" cy="1940.4" r="4.2"/><circle cx="1058.2" cy="2000.6" r="4.2"/><circle cx="915.6" cy="1926.5" r="4.2"/><circle cx="919.6" cy="2002.2" r="4.2"/><circle cx="870.5" cy="1718.0" r="4.2"/><circle cx="921.5" cy="1639.4" r="4.2"/><circle cx="1020.9" cy="1929.8" r="4.2"/><circle cx="969.0" cy="1945.6" r="4.2"/><circle cx="965.8" cy="1998.6" r="4.2"/><circle cx="952.3" cy="1868.8" r="4.2"/><circle cx="852.8" cy="1897.6" r="4.2"/><circle cx="912.8" cy="1818.5" r="4.2"/><circle cx="924.5" cy="1956.9" r="4.2"/><circle cx="1134.4" cy="1943.8" r="4.2"/><circle cx="1006.3" cy="1871.6" r="4.2"/><circle cx="813.3" cy="1941.2" r="4.2"/><circle cx="980.8" cy="1631.1" r="4.2"/><circle cx="1086.8" cy="1971.3" r="4.2"/><circle cx="931.8" cy="1785.6" r="4.2"/><circle cx="1052.3" cy="1839.5" r="4.2"/><circle cx="1140.8" cy="1789.0" r="4.2"/><circle cx="961.9" cy="1973.7" r="4.2"/><circle cx="1140.5" cy="1697.4" r="4.2"/><circle cx="1149.7" cy="1948.0" r="4.2"/><circle cx="963.4" cy="1951.6" r="4.2"/><circle cx="971.0" cy="1953.1" r="4.2"/><circle cx="871.6" cy="1738.3" r="4.2"/><circle cx="882.0" cy="1938.8" r="4.2"/><circle cx="1045.4" cy="1684.0" r="4.2"/><circle cx="975.0" cy="1920.0" r="4.2"/><circle cx="860.2" cy="1992.0" r="4.2"/><circle cx="1008.4" cy="1917.2" r="4.2"/><circle cx="940.6" cy="1743.6" r="4.2"/><circle cx="1001.4" cy="1999.7" r="4.2"/><circle cx="992.0" cy="1929.3" r="4.2"/><circle cx="937.9" cy="1949.4" r="4.2"/><circle cx="874.1" cy="1928.3" r="4.2"/><circle cx="850.9" cy="1880.5" r="4.2"/><circle cx="1105.7" cy="1658.0" r="4.2"/><circle cx="854.3" cy="1971.0" r="4.2"/><circle cx="1013.4" cy="1999.6" r="4.2"/><circle cx="1016.4" cy="2005.9" r="4.2"/><circle cx="1055.8" cy="1952.7" r="4.2"/><circle cx="1118.9" cy="1967.9" r="4.2"/><circle cx="941.3" cy="1816.9" r="4.2"/><circle cx="1087.8" cy="1992.1" r="4.2"/><circle cx="1043.0" cy="1984.8" r="4.2"/><circle cx="943.1" cy="1968.9" r="4.2"/><circle cx="940.1" cy="1868.2" r="4.2"/><circle cx="1102.6" cy="1944.4" r="4.2"/><circle cx="1012.7" cy="1725.9" r="4.2"/><circle cx="1019.2" cy="1725.3" r="4.2"/><circle cx="980.6" cy="1874.7" r="4.2"/><circle cx="836.3" cy="1862.2" r="4.2"/><circle cx="923.7" cy="1947.0" r="4.2"/><circle cx="876.6" cy="1995.4" r="4.2"/><circle cx="974.0" cy="1972.6" r="4.2"/><circle cx="956.1" cy="1974.1" r="4.2"/><circle cx="1092.2" cy="1829.1" r="4.2"/><circle cx="885.7" cy="1789.4" r="4.2"/><circle cx="1015.4" cy="1925.7" r="4.2"/><circle cx="1002.1" cy="1856.3" r="4.2"/><circle cx="901.8" cy="1727.0" r="4.2"/><circle cx="933.4" cy="1958.8" r="4.2"/><circle cx="968.3" cy="1982.0" r="4.2"/><circle cx="886.6" cy="2001.8" r="4.2"/><circle cx="1100.5" cy="1788.6" r="4.2"/><circle cx="940.1" cy="1889.7" r="4.2"/><circle cx="886.3" cy="1858.9" r="4.2"/><circle cx="822.7" cy="1822.8" r="4.2"/><circle cx="1099.5" cy="1976.9" r="4.2"/><circle cx="876.9" cy="1990.4" r="4.2"/><circle cx="943.3" cy="1993.5" r="4.2"/><circle cx="829.8" cy="1927.1" r="4.2"/><circle cx="980.2" cy="1777.6" r="4.2"/><circle cx="947.1" cy="1937.8" r="4.2"/><circle cx="1112.4" cy="1998.8" r="4.2"/><circle cx="890.1" cy="1884.4" r="4.2"/><circle cx="908.9" cy="1925.9" r="4.2"/><circle cx="897.2" cy="1982.6" r="4.2"/><circle cx="986.2" cy="1645.3" r="4.2"/><circle cx="884.0" cy="2006.2" r="4.2"/><circle cx="1116.3" cy="1755.5" r="4.2"/><circle cx="984.2" cy="1966.2" r="4.2"/><circle cx="926.2" cy="1698.7" r="4.2"/><circle cx="1012.4" cy="1640.4" r="4.2"/><circle cx="931.1" cy="1977.5" r="4.2"/><circle cx="877.5" cy="1793.8" r="4.2"/><circle cx="838.7" cy="1985.2" r="4.2"/><circle cx="931.1" cy="1934.5" r="4.2"/><circle cx="1016.1" cy="1983.8" r="4.2"/><circle cx="1051.0" cy="1859.4" r="4.2"/><circle cx="992.8" cy="1960.3" r="4.2"/><circle cx="1108.4" cy="1949.8" r="4.2"/><circle cx="889.6" cy="1860.3" r="4.2"/><circle cx="868.3" cy="1769.9" r="4.2"/><circle cx="988.4" cy="1857.5" r="4.2"/><circle cx="894.7" cy="1863.0" r="4.2"/><circle cx="970.5" cy="1632.4" r="4.2"/><circle cx="937.7" cy="1728.1" r="4.2"/><circle cx="981.8" cy="1936.0" r="4.2"/><circle cx="943.5" cy="1926.4" r="4.2"/><circle cx="915.2" cy="1913.6" r="4.2"/><circle cx="1092.6" cy="1948.2" r="4.2"/><circle cx="1129.3" cy="1994.4" r="4.2"/><circle cx="1041.6" cy="1961.6" r="4.2"/><circle cx="972.4" cy="1918.2" r="4.2"/><circle cx="817.1" cy="1998.0" r="4.2"/><circle cx="964.5" cy="1868.1" r="4.2"/><circle cx="908.7" cy="1991.6" r="4.2"/><circle cx="1023.2" cy="1958.3" r="4.2"/><circle cx="807.5" cy="1959.9" r="4.2"/><circle cx="972.7" cy="1996.2" r="4.2"/><circle cx="944.9" cy="1893.4" r="4.2"/><circle cx="1032.7" cy="2005.4" r="4.2"/><circle cx="928.4" cy="1932.6" r="4.2"/><circle cx="952.7" cy="1745.5" r="4.2"/><circle cx="903.0" cy="1767.0" r="4.2"/><circle cx="889.0" cy="1808.9" r="4.2"/><circle cx="1118.8" cy="1747.5" r="4.2"/><circle cx="910.5" cy="2002.5" r="4.2"/><circle cx="900.5" cy="1993.8" r="4.2"/><circle cx="995.8" cy="1892.1" r="4.2"/><circle cx="1044.6" cy="1907.0" r="4.2"/><circle cx="923.5" cy="1962.0" r="4.2"/><circle cx="958.3" cy="1953.5" r="4.2"/><circle cx="879.5" cy="1901.4" r="4.2"/><circle cx="932.7" cy="1794.0" r="4.2"/><circle cx="992.9" cy="1887.7" r="4.2"/><circle cx="1066.1" cy="1978.2" r="4.2"/><circle cx="972.8" cy="1937.5" r="4.2"/><circle cx="1031.5" cy="1910.9" r="4.2"/><circle cx="872.7" cy="1866.4" r="4.2"/><circle cx="877.3" cy="1859.4" r="4.2"/><circle cx="927.5" cy="1932.7" r="4.2"/><circle cx="1050.6" cy="1892.4" r="4.2"/><circle cx="998.7" cy="2005.1" r="4.2"/><circle cx="1101.6" cy="1919.6" r="4.2"/><circle cx="1020.1" cy="1997.8" r="4.2"/><circle cx="992.0" cy="1944.6" r="4.2"/><circle cx="1113.0" cy="1817.4" r="4.2"/><circle cx="973.0" cy="1984.1" r="4.2"/><circle cx="975.0" cy="2000.0" r="4.2"/><circle cx="1069.1" cy="1855.7" r="4.2"/><circle cx="864.4" cy="1804.6" r="4.2"/><circle cx="853.5" cy="1959.9" r="4.2"/><circle cx="850.8" cy="1956.4" r="4.2"/><circle cx="1001.9" cy="1894.0" r="4.2"/><circle cx="1058.9" cy="1858.1" r="4.2"/><circle cx="987.0" cy="1953.3" r="4.2"/><circle cx="1103.8" cy="1973.4" r="4.2"/><circle cx="834.0" cy="1953.0" r="4.2"/><circle cx="917.6" cy="1644.9" r="4.2"/><circle cx="865.3" cy="1641.2" r="4.2"/><circle cx="1025.7" cy="1900.9" r="4.2"/><circle cx="1071.0" cy="1672.7" r="4.2"/><circle cx="845.7" cy="1874.0" r="4.2"/><circle cx="826.9" cy="1886.0" r="4.2"/><circle cx="939.3" cy="1990.5" r="4.2"/><circle cx="1106.0" cy="1887.3" r="4.2"/><circle cx="952.2" cy="1883.2" r="4.2"/><circle cx="933.8" cy="1909.7" r="4.2"/><circle cx="1055.4" cy="1850.7" r="4.2"/><circle cx="1016.4" cy="1899.3" r="4.2"/><circle cx="976.5" cy="1995.7" r="4.2"/><circle cx="956.7" cy="1963.0" r="4.2"/><circle cx="978.2" cy="1993.6" r="4.2"/><circle cx="1015.3" cy="1859.1" r="4.2"/><circle cx="1017.1" cy="1747.4" r="4.2"/><circle cx="925.2" cy="1921.0" r="4.2"/><circle cx="935.1" cy="1979.1" r="4.2"/><circle cx="858.9" cy="1989.0" r="4.2"/><circle cx="961.6" cy="1843.4" r="4.2"/><circle cx="984.4" cy="1759.7" r="4.2"/><circle cx="1003.0" cy="1804.1" r="4.2"/><circle cx="877.2" cy="1773.5" r="4.2"/><circle cx="955.1" cy="1998.7" r="4.2"/><circle cx="930.3" cy="1952.6" r="4.2"/><circle cx="944.3" cy="1900.1" r="4.2"/><circle cx="944.9" cy="1820.2" r="4.2"/><circle cx="1099.7" cy="1986.8" r="4.2"/><circle cx="1021.0" cy="1708.4" r="4.2"/><circle cx="1045.2" cy="1832.5" r="4.2"/><circle cx="943.5" cy="1894.0" r="4.2"/><circle cx="1017.0" cy="1990.1" r="4.2"/><circle cx="936.6" cy="2003.4" r="4.2"/><circle cx="987.8" cy="1993.8" r="4.2"/><circle cx="826.6" cy="1973.7" r="4.2"/><circle cx="1133.5" cy="1873.4" r="4.2"/><circle cx="1026.3" cy="1811.3" r="4.2"/><circle cx="962.8" cy="1927.9" r="4.2"/><circle cx="883.7" cy="2004.7" r="4.2"/><circle cx="909.8" cy="1744.2" r="4.2"/><circle cx="1037.6" cy="2006.8" r="4.2"/><circle cx="1061.4" cy="1954.5" r="4.2"/><circle cx="1133.7" cy="1821.5" r="4.2"/><circle cx="958.3" cy="1870.5" r="4.2"/><circle cx="1057.0" cy="1777.2" r="4.2"/><circle cx="915.6" cy="1966.5" r="4.2"/><circle cx="1127.2" cy="1997.1" r="4.2"/><circle cx="811.8" cy="1955.8" r="4.2"/><circle cx="998.8" cy="1755.9" r="4.2"/><circle cx="804.7" cy="1999.7" r="4.2"/><circle cx="896.9" cy="1966.6" r="4.2"/><circle cx="1046.1" cy="1750.8" r="4.2"/><circle cx="907.4" cy="1821.5" r="4.2"/><circle cx="946.1" cy="1828.4" r="4.2"/><circle cx="940.4" cy="1881.2" r="4.2"/><circle cx="907.8" cy="1976.5" r="4.2"/><circle cx="877.0" cy="1772.7" r="4.2"/><circle cx="1088.0" cy="1880.4" r="4.2"/><circle cx="943.6" cy="1885.4" r="4.2"/><circle cx="860.6" cy="1987.7" r="4.2"/><circle cx="954.0" cy="1910.1" r="4.2"/><circle cx="947.4" cy="1962.0" r="4.2"/><circle cx="1085.5" cy="1960.1" r="4.2"/><circle cx="1055.6" cy="1975.7" r="4.2"/><circle cx="990.2" cy="1772.9" r="4.2"/><circle cx="1046.9" cy="1964.1" r="4.2"/><circle cx="828.6" cy="1955.3" r="4.2"/><circle cx="1040.6" cy="1988.3" r="4.2"/><circle cx="1022.5" cy="1817.5" r="4.2"/><circle cx="938.2" cy="1892.8" r="4.2"/><circle cx="996.9" cy="1842.3" r="4.2"/><circle cx="878.5" cy="1973.9" r="4.2"/><circle cx="1066.7" cy="1929.5" r="4.2"/><circle cx="975.6" cy="1978.2" r="4.2"/><circle cx="1065.0" cy="1835.2" r="4.2"/><circle cx="1017.2" cy="1829.2" r="4.2"/><circle cx="838.4" cy="1811.9" r="4.2"/><circle cx="909.0" cy="1742.9" r="4.2"/><circle cx="900.8" cy="1798.1" r="4.2"/><circle cx="959.3" cy="1906.4" r="4.2"/><circle cx="828.4" cy="1986.0" r="4.2"/><circle cx="962.0" cy="1712.7" r="4.2"/><circle cx="833.3" cy="1949.4" r="4.2"/><circle cx="910.3" cy="1783.8" r="4.2"/><circle cx="1047.9" cy="1904.3" r="4.2"/><circle cx="957.2" cy="1822.3" r="4.2"/><circle cx="1068.6" cy="1761.4" r="4.2"/><circle cx="970.0" cy="1988.1" r="4.2"/><circle cx="899.9" cy="1753.5" r="4.2"/><circle cx="892.9" cy="1692.6" r="4.2"/><circle cx="971.7" cy="1971.5" r="4.2"/><circle cx="917.3" cy="1935.7" r="4.2"/><circle cx="977.7" cy="1630.2" r="4.2"/><circle cx="999.0" cy="1712.5" r="4.2"/><circle cx="989.8" cy="1719.3" r="4.2"/><circle cx="984.6" cy="1849.2" r="4.2"/><circle cx="941.0" cy="1715.2" r="4.2"/><circle cx="980.8" cy="1923.1" r="4.2"/><circle cx="1064.3" cy="1953.6" r="4.2"/><circle cx="878.1" cy="1796.9" r="4.2"/><circle cx="931.5" cy="1890.7" r="4.2"/><circle cx="930.4" cy="1933.3" r="4.2"/><circle cx="873.1" cy="1895.2" r="4.2"/><circle cx="1075.0" cy="1896.7" r="4.2"/><circle cx="940.9" cy="1953.5" r="4.2"/><circle cx="890.9" cy="1842.8" r="4.2"/><circle cx="1019.0" cy="1942.2" r="4.2"/><circle cx="912.5" cy="1742.3" r="4.2"/><circle cx="1042.5" cy="1978.2" r="4.2"/><circle cx="1019.6" cy="1977.9" r="4.2"/><circle cx="1044.0" cy="1948.9" r="4.2"/><circle cx="845.2" cy="1996.5" r="4.2"/><circle cx="956.5" cy="2005.4" r="4.2"/><circle cx="916.2" cy="1958.8" r="4.2"/><circle cx="999.3" cy="1649.0" r="4.2"/><circle cx="1084.6" cy="1935.1" r="4.2"/><circle cx="882.6" cy="1728.8" r="4.2"/><circle cx="1141.5" cy="1914.7" r="4.2"/><circle cx="880.6" cy="1911.1" r="4.2"/><circle cx="875.0" cy="1771.2" r="4.2"/><circle cx="1017.6" cy="1687.3" r="4.2"/><circle cx="813.7" cy="1882.4" r="4.2"/><circle cx="940.3" cy="1833.3" r="4.2"/><circle cx="868.2" cy="1953.6" r="4.2"/><circle cx="1058.4" cy="1909.3" r="4.2"/><circle cx="1030.7" cy="1919.2" r="4.2"/><circle cx="989.4" cy="1918.9" r="4.2"/><circle cx="925.9" cy="1844.3" r="4.2"/><circle cx="970.2" cy="1631.6" r="4.2"/><circle cx="949.7" cy="1806.7" r="4.2"/><circle cx="973.0" cy="1952.6" r="4.2"/><circle cx="1011.1" cy="1993.7" r="4.2"/><circle cx="853.0" cy="1927.5" r="4.2"/><circle cx="899.1" cy="1999.3" r="4.2"/><circle cx="1094.8" cy="1934.6" r="4.2"/><circle cx="992.5" cy="1964.5" r="4.2"/><circle cx="1134.3" cy="1673.7" r="4.2"/><circle cx="894.5" cy="1747.7" r="4.2"/><circle cx="1052.6" cy="1963.6" r="4.2"/><circle cx="871.8" cy="1982.8" r="4.2"/><circle cx="1054.0" cy="1735.6" r="4.2"/><circle cx="1111.2" cy="1949.0" r="4.2"/><circle cx="947.5" cy="2005.4" r="4.2"/><circle cx="917.4" cy="1785.0" r="4.2"/><circle cx="974.0" cy="1842.4" r="4.2"/><circle cx="1022.7" cy="1922.8" r="4.2"/><circle cx="904.5" cy="1868.1" r="4.2"/><circle cx="976.9" cy="1904.3" r="4.2"/><circle cx="985.4" cy="1931.7" r="4.2"/><circle cx="874.9" cy="1971.1" r="4.2"/><circle cx="1070.9" cy="1950.8" r="4.2"/><circle cx="1020.3" cy="1718.0" r="4.2"/><circle cx="1048.5" cy="1744.1" r="4.2"/><circle cx="985.1" cy="1914.7" r="4.2"/><circle cx="870.0" cy="1788.6" r="4.2"/><circle cx="941.7" cy="1998.0" r="4.2"/><circle cx="957.1" cy="1961.7" r="4.2"/><circle cx="941.7" cy="1760.3" r="4.2"/><circle cx="927.6" cy="1756.8" r="4.2"/><circle cx="923.2" cy="1998.0" r="4.2"/><circle cx="1011.6" cy="1954.9" r="4.2"/><circle cx="932.2" cy="1919.9" r="4.2"/><circle cx="915.1" cy="1762.5" r="4.2"/><circle cx="982.2" cy="1843.4" r="4.2"/><circle cx="873.2" cy="1817.7" r="4.2"/><circle cx="1006.3" cy="1906.0" r="4.2"/><circle cx="1014.7" cy="1703.7" r="4.2"/><circle cx="840.5" cy="1976.4" r="4.2"/><circle cx="1097.1" cy="1904.5" r="4.2"/><circle cx="952.7" cy="1960.0" r="4.2"/><circle cx="973.4" cy="1989.2" r="4.2"/><circle cx="1074.8" cy="1982.0" r="4.2"/><circle cx="1027.8" cy="1973.8" r="4.2"/><circle cx="809.3" cy="1825.6" r="4.2"/><circle cx="996.4" cy="1917.9" r="4.2"/><circle cx="958.0" cy="2004.0" r="4.2"/><circle cx="979.4" cy="1921.2" r="4.2"/><circle cx="905.1" cy="1887.7" r="4.2"/><circle cx="991.8" cy="1917.3" r="4.2"/><circle cx="1009.4" cy="1953.7" r="4.2"/><circle cx="1048.2" cy="1942.2" r="4.2"/><circle cx="1052.3" cy="2001.4" r="4.2"/><circle cx="974.4" cy="1699.9" r="4.2"/><circle cx="960.7" cy="1924.2" r="4.2"/><circle cx="893.0" cy="1978.4" r="4.2"/><circle cx="1028.9" cy="1861.7" r="4.2"/><circle cx="1055.6" cy="1957.6" r="4.2"/><circle cx="899.3" cy="1992.0" r="4.2"/><circle cx="916.3" cy="1930.4" r="4.2"/><circle cx="900.5" cy="1931.7" r="4.2"/><circle cx="975.1" cy="1967.3" r="4.2"/><circle cx="959.8" cy="1917.8" r="4.2"/><circle cx="955.9" cy="1875.6" r="4.2"/><circle cx="804.3" cy="1882.6" r="4.2"/><circle cx="1116.8" cy="1986.3" r="4.2"/><circle cx="780.1" cy="2006.5" r="4.2"/><circle cx="970.9" cy="1962.9" r="4.2"/><circle cx="907.0" cy="2006.1" r="4.2"/><circle cx="815.6" cy="1923.0" r="4.2"/><circle cx="950.8" cy="1979.3" r="4.2"/><circle cx="962.4" cy="1919.7" r="4.2"/><circle cx="914.9" cy="1744.4" r="4.2"/><circle cx="908.5" cy="1999.9" r="4.2"/><circle cx="1022.5" cy="1976.6" r="4.2"/><circle cx="913.8" cy="1909.8" r="4.2"/><circle cx="947.9" cy="1822.0" r="4.2"/><circle cx="990.4" cy="1652.4" r="4.2"/><circle cx="1036.0" cy="1992.0" r="4.2"/><circle cx="931.1" cy="1818.3" r="4.2"/><circle cx="985.3" cy="1948.4" r="4.2"/><circle cx="1017.2" cy="1940.1" r="4.2"/><circle cx="1060.1" cy="1813.7" r="4.2"/><circle cx="897.7" cy="1704.2" r="4.2"/><circle cx="859.3" cy="1976.4" r="4.2"/><circle cx="1001.1" cy="1969.0" r="4.2"/><circle cx="1051.2" cy="1980.6" r="4.2"/><circle cx="995.3" cy="1745.3" r="4.2"/><circle cx="788.7" cy="1943.8" r="4.2"/><circle cx="914.2" cy="1995.2" r="4.2"/><circle cx="1120.4" cy="1947.3" r="4.2"/><circle cx="987.6" cy="1989.5" r="4.2"/><circle cx="1099.9" cy="1975.2" r="4.2"/><circle cx="1005.2" cy="1778.9" r="4.2"/><circle cx="781.2" cy="1844.4" r="4.2"/><circle cx="948.7" cy="1844.9" r="4.2"/><circle cx="1001.6" cy="1962.5" r="4.2"/><circle cx="1014.6" cy="1902.6" r="4.2"/><circle cx="937.5" cy="1849.7" r="4.2"/><circle cx="919.7" cy="1971.7" r="4.2"/><circle cx="1055.7" cy="1963.6" r="4.2"/><circle cx="1001.7" cy="1650.8" r="4.2"/><circle cx="1021.7" cy="2001.4" r="4.2"/><circle cx="870.8" cy="1916.0" r="4.2"/><circle cx="1019.8" cy="1950.2" r="4.2"/><circle cx="982.1" cy="1896.1" r="4.2"/><circle cx="904.1" cy="1944.0" r="4.2"/><circle cx="1027.3" cy="1965.4" r="4.2"/><circle cx="1046.3" cy="1889.2" r="4.2"/><circle cx="870.8" cy="1985.7" r="4.2"/><circle cx="913.3" cy="1808.4" r="4.2"/><circle cx="913.3" cy="1655.6" r="4.2"/><circle cx="1042.8" cy="1706.5" r="4.2"/><circle cx="998.3" cy="2000.4" r="4.2"/><circle cx="931.1" cy="1970.1" r="4.2"/><circle cx="939.0" cy="1973.1" r="4.2"/><circle cx="1016.7" cy="1882.9" r="4.2"/><circle cx="1050.3" cy="1899.2" r="4.2"/><circle cx="1019.6" cy="1900.7" r="4.2"/><circle cx="825.0" cy="1902.0" r="4.2"/><circle cx="1009.6" cy="1972.2" r="4.2"/><circle cx="899.7" cy="1848.0" r="4.2"/><circle cx="1033.2" cy="1934.6" r="4.2"/><circle cx="933.1" cy="1875.5" r="4.2"/><circle cx="987.4" cy="1835.7" r="4.2"/><circle cx="1052.8" cy="1676.9" r="4.2"/><circle cx="923.7" cy="1949.5" r="4.2"/><circle cx="1075.8" cy="1984.8" r="4.2"/><circle cx="840.7" cy="2000.2" r="4.2"/><circle cx="850.7" cy="2002.6" r="4.2"/><circle cx="996.9" cy="1916.6" r="4.2"/><circle cx="1003.1" cy="2003.0" r="4.2"/><circle cx="958.3" cy="1900.2" r="4.2"/><circle cx="883.5" cy="1831.8" r="4.2"/><circle cx="1113.2" cy="1949.5" r="4.2"/><circle cx="1060.9" cy="1862.8" r="4.2"/><circle cx="972.6" cy="1969.8" r="4.2"/><circle cx="1083.8" cy="1894.9" r="4.2"/><circle cx="962.9" cy="1768.9" r="4.2"/><circle cx="1033.7" cy="1929.2" r="4.2"/><circle cx="1078.8" cy="1814.5" r="4.2"/><circle cx="978.2" cy="1989.9" r="4.2"/><circle cx="1001.8" cy="1966.5" r="4.2"/><circle cx="1092.9" cy="1941.4" r="4.2"/><circle cx="894.7" cy="1899.5" r="4.2"/><circle cx="1000.5" cy="1784.3" r="4.2"/><circle cx="865.9" cy="1989.3" r="4.2"/><circle cx="944.5" cy="1871.8" r="4.2"/><circle cx="968.1" cy="1861.3" r="4.2"/><circle cx="1051.0" cy="1959.4" r="4.2"/><circle cx="943.4" cy="1902.6" r="4.2"/><circle cx="938.2" cy="2002.2" r="4.2"/><circle cx="965.2" cy="1933.8" r="4.2"/><circle cx="903.5" cy="2004.9" r="4.2"/><circle cx="1010.4" cy="1786.3" r="4.2"/><circle cx="1005.8" cy="1776.1" r="4.2"/><circle cx="1033.0" cy="1901.1" r="4.2"/><circle cx="1054.5" cy="1895.0" r="4.2"/><circle cx="958.7" cy="1986.5" r="4.2"/><circle cx="858.5" cy="1863.1" r="4.2"/><circle cx="1022.5" cy="1891.2" r="4.2"/><circle cx="1007.1" cy="1891.7" r="4.2"/><circle cx="1008.0" cy="1890.1" r="4.2"/><circle cx="918.7" cy="1959.3" r="4.2"/><circle cx="1067.8" cy="1911.2" r="4.2"/><circle cx="816.4" cy="1984.8" r="4.2"/><circle cx="869.1" cy="1890.4" r="4.2"/><circle cx="910.5" cy="1994.0" r="4.2"/><circle cx="952.4" cy="1936.1" r="4.2"/><circle cx="1143.5" cy="1889.8" r="4.2"/><circle cx="1071.2" cy="1996.0" r="4.2"/><circle cx="947.3" cy="1954.9" r="4.2"/><circle cx="996.7" cy="1953.7" r="4.2"/><circle cx="882.0" cy="1996.2" r="4.2"/><circle cx="1002.0" cy="1941.8" r="4.2"/><circle cx="903.2" cy="1944.9" r="4.2"/><circle cx="889.6" cy="1925.6" r="4.2"/><circle cx="1072.2" cy="1920.0" r="4.2"/><circle cx="1119.6" cy="2000.7" r="4.2"/><circle cx="895.3" cy="2002.6" r="4.2"/><circle cx="897.5" cy="1990.5" r="4.2"/><circle cx="1039.8" cy="1911.8" r="4.2"/><circle cx="1057.1" cy="1952.2" r="4.2"/><circle cx="949.5" cy="1789.2" r="4.2"/><circle cx="832.0" cy="1880.2" r="4.2"/><circle cx="1040.0" cy="1944.9" r="4.2"/><circle cx="1074.6" cy="1927.7" r="4.2"/><circle cx="999.4" cy="1813.0" r="4.2"/><circle cx="796.0" cy="1899.4" r="4.2"/><circle cx="846.2" cy="1804.6" r="4.2"/><circle cx="990.8" cy="1854.7" r="4.2"/><circle cx="1024.2" cy="1825.8" r="4.2"/><circle cx="928.8" cy="1778.9" r="4.2"/><circle cx="1058.0" cy="1991.0" r="4.2"/><circle cx="918.0" cy="1841.6" r="4.2"/><circle cx="1080.7" cy="1811.7" r="4.2"/><circle cx="1069.8" cy="1915.9" r="4.2"/><circle cx="941.8" cy="1966.0" r="4.2"/><circle cx="1011.4" cy="1933.0" r="4.2"/><circle cx="1112.8" cy="1731.6" r="4.2"/><circle cx="908.7" cy="1976.0" r="4.2"/><circle cx="987.2" cy="1881.3" r="4.2"/><circle cx="1023.0" cy="1775.5" r="4.2"/><circle cx="889.1" cy="1853.6" r="4.2"/><circle cx="920.5" cy="1868.7" r="4.2"/><circle cx="986.8" cy="1766.8" r="4.2"/><circle cx="996.9" cy="1874.1" r="4.2"/><circle cx="1025.3" cy="1885.8" r="4.2"/><circle cx="900.1" cy="1640.6" r="4.2"/><circle cx="906.7" cy="1945.8" r="4.2"/><circle cx="1077.0" cy="1947.4" r="4.2"/><circle cx="961.8" cy="1883.6" r="4.2"/><circle cx="939.1" cy="1747.8" r="4.2"/><circle cx="1055.8" cy="1701.6" r="4.2"/><circle cx="1057.7" cy="1990.8" r="4.2"/><circle cx="916.7" cy="1694.3" r="4.2"/><circle cx="908.4" cy="1938.0" r="4.2"/><circle cx="1002.6" cy="1986.9" r="4.2"/><circle cx="1046.0" cy="1978.7" r="4.2"/><circle cx="915.4" cy="1986.8" r="4.2"/><circle cx="1114.8" cy="1784.3" r="4.2"/><circle cx="811.9" cy="1921.0" r="4.2"/><circle cx="1016.5" cy="1902.7" r="4.2"/><circle cx="985.6" cy="2001.2" r="4.2"/><circle cx="978.4" cy="1903.2" r="4.2"/><circle cx="902.3" cy="1777.8" r="4.2"/><circle cx="889.5" cy="1974.4" r="4.2"/><circle cx="1065.5" cy="1857.7" r="4.2"/><circle cx="986.0" cy="1986.4" r="4.2"/><circle cx="923.3" cy="1993.0" r="4.2"/><circle cx="967.3" cy="1903.7" r="4.2"/><circle cx="981.1" cy="1950.3" r="4.2"/><circle cx="950.2" cy="1820.8" r="4.2"/><circle cx="884.5" cy="1828.4" r="4.2"/><circle cx="1091.6" cy="1988.8" r="4.2"/><circle cx="1056.6" cy="1975.7" r="4.2"/><circle cx="1015.3" cy="1925.5" r="4.2"/><circle cx="1038.6" cy="1937.9" r="4.2"/><circle cx="1022.1" cy="1950.3" r="4.2"/><circle cx="982.0" cy="1842.4" r="4.2"/><circle cx="949.0" cy="1956.1" r="4.2"/><circle cx="1028.6" cy="1861.8" r="4.2"/><circle cx="878.3" cy="1965.8" r="4.2"/><circle cx="975.4" cy="1947.5" r="4.2"/><circle cx="839.0" cy="1995.9" r="4.2"/><circle cx="928.3" cy="1990.5" r="4.2"/><circle cx="1051.1" cy="1880.6" r="4.2"/><circle cx="909.4" cy="1842.7" r="4.2"/><circle cx="890.7" cy="1938.2" r="4.2"/><circle cx="900.6" cy="1955.4" r="4.2"/><circle cx="791.5" cy="1962.5" r="4.2"/><circle cx="805.9" cy="1962.2" r="4.2"/><circle cx="1006.9" cy="1685.4" r="4.2"/><circle cx="967.9" cy="1960.9" r="4.2"/><circle cx="1112.9" cy="1881.4" r="4.2"/><circle cx="1055.2" cy="2004.4" r="4.2"/><circle cx="940.0" cy="1897.9" r="4.2"/><circle cx="853.0" cy="1859.9" r="4.2"/><circle cx="949.4" cy="1989.2" r="4.2"/><circle cx="1023.9" cy="1971.8" r="4.2"/><circle cx="931.9" cy="1959.5" r="4.2"/><circle cx="903.7" cy="1947.6" r="4.2"/><circle cx="978.3" cy="1963.9" r="4.2"/><circle cx="920.0" cy="1988.6" r="4.2"/><circle cx="909.6" cy="1921.5" r="4.2"/><circle cx="1024.3" cy="2000.4" r="4.2"/><circle cx="999.8" cy="1880.1" r="4.2"/><circle cx="836.6" cy="1870.0" r="4.2"/><circle cx="1128.7" cy="1884.4" r="4.2"/><circle cx="1057.3" cy="1800.3" r="4.2"/><circle cx="996.3" cy="1980.6" r="4.2"/><circle cx="936.5" cy="1846.0" r="4.2"/><circle cx="1089.3" cy="1985.6" r="4.2"/><circle cx="1079.4" cy="1938.3" r="4.2"/><circle cx="967.3" cy="1888.0" r="4.2"/><circle cx="922.4" cy="1889.2" r="4.2"/><circle cx="1003.2" cy="1920.9" r="4.2"/><circle cx="888.8" cy="1888.9" r="4.2"/><circle cx="982.4" cy="1907.5" r="4.2"/><circle cx="980.9" cy="2005.2" r="4.2"/><circle cx="898.1" cy="1931.3" r="4.2"/><circle cx="1009.6" cy="1638.3" r="4.2"/><circle cx="980.3" cy="1948.4" r="4.2"/><circle cx="847.5" cy="1983.9" r="4.2"/><circle cx="870.5" cy="1967.6" r="4.2"/><circle cx="1024.6" cy="1748.5" r="4.2"/><circle cx="1091.7" cy="1946.1" r="4.2"/><circle cx="835.1" cy="1864.5" r="4.2"/><circle cx="1018.3" cy="1985.2" r="4.2"/><circle cx="1015.8" cy="1907.0" r="4.2"/><circle cx="913.5" cy="1872.2" r="4.2"/><circle cx="992.1" cy="1952.6" r="4.2"/><circle cx="929.8" cy="1922.3" r="4.2"/><circle cx="964.5" cy="1922.8" r="4.2"/><circle cx="955.6" cy="1874.5" r="4.2"/><circle cx="885.1" cy="1948.4" r="4.2"/><circle cx="895.6" cy="1977.5" r="4.2"/><circle cx="1067.9" cy="1947.6" r="4.2"/><circle cx="799.2" cy="1984.9" r="4.2"/><circle cx="1064.3" cy="1868.6" r="4.2"/><circle cx="776.2" cy="1857.0" r="4.2"/><circle cx="1026.8" cy="1959.4" r="4.2"/><circle cx="1003.1" cy="1937.8" r="4.2"/><circle cx="1068.9" cy="1933.0" r="4.2"/><circle cx="916.5" cy="1739.3" r="4.2"/><circle cx="965.1" cy="1859.3" r="4.2"/><circle cx="983.7" cy="1982.0" r="4.2"/><circle cx="976.4" cy="1896.8" r="4.2"/><circle cx="1124.3" cy="1707.2" r="4.2"/><circle cx="911.9" cy="1953.5" r="4.2"/><circle cx="1095.7" cy="1961.1" r="4.2"/><circle cx="1060.1" cy="1902.9" r="4.2"/><circle cx="985.6" cy="1942.9" r="4.2"/><circle cx="1061.7" cy="1814.4" r="4.2"/><circle cx="1133.7" cy="1733.4" r="4.2"/><circle cx="937.3" cy="2003.9" r="4.2"/><circle cx="967.4" cy="1936.1" r="4.2"/><circle cx="1123.1" cy="1768.4" r="4.2"/><circle cx="902.5" cy="1958.7" r="4.2"/><circle cx="874.7" cy="1923.7" r="4.2"/><circle cx="1068.3" cy="1883.4" r="4.2"/><circle cx="988.8" cy="1913.7" r="4.2"/><circle cx="996.8" cy="1883.2" r="4.2"/><circle cx="1027.2" cy="1676.9" r="4.2"/><circle cx="1046.2" cy="1873.5" r="4.2"/><circle cx="1077.5" cy="1661.5" r="4.2"/><circle cx="1120.6" cy="1971.6" r="4.2"/><circle cx="1055.2" cy="1861.7" r="4.2"/><circle cx="1078.0" cy="1789.1" r="4.2"/><circle cx="966.8" cy="1650.7" r="4.2"/><circle cx="850.3" cy="1922.8" r="4.2"/><circle cx="983.9" cy="1979.5" r="4.2"/><circle cx="897.2" cy="1951.8" r="4.2"/><circle cx="1020.5" cy="1859.6" r="4.2"/><circle cx="935.7" cy="1887.5" r="4.2"/><circle cx="857.6" cy="1956.3" r="4.2"/><circle cx="1030.6" cy="1899.9" r="4.2"/><circle cx="1084.8" cy="1875.9" r="4.2"/><circle cx="1022.2" cy="1996.5" r="4.2"/><circle cx="887.2" cy="1862.9" r="4.2"/><circle cx="1029.9" cy="1689.6" r="4.2"/><circle cx="957.6" cy="1879.4" r="4.2"/><circle cx="953.7" cy="1831.3" r="4.2"/><circle cx="978.2" cy="2000.4" r="4.2"/><circle cx="909.5" cy="1928.0" r="4.2"/><circle cx="1053.9" cy="1982.3" r="4.2"/><circle cx="1016.9" cy="1761.5" r="4.2"/><circle cx="927.9" cy="1962.6" r="4.2"/><circle cx="928.9" cy="1902.4" r="4.2"/><circle cx="982.1" cy="1990.0" r="4.2"/><circle cx="1110.2" cy="1941.3" r="4.2"/><circle cx="921.8" cy="1910.5" r="4.2"/><circle cx="1128.7" cy="1851.1" r="4.2"/><circle cx="1017.5" cy="1977.3" r="4.2"/><circle cx="875.1" cy="1918.1" r="4.2"/><circle cx="964.3" cy="1971.1" r="4.2"/><circle cx="1060.6" cy="1965.7" r="4.2"/><circle cx="940.1" cy="1860.5" r="4.2"/><circle cx="879.1" cy="1805.2" r="4.2"/><circle cx="1003.0" cy="1927.0" r="4.2"/><circle cx="973.2" cy="1902.5" r="4.2"/><circle cx="1047.8" cy="1885.2" r="4.2"/><circle cx="1049.0" cy="1989.9" r="4.2"/><circle cx="933.7" cy="2000.9" r="4.2"/><circle cx="1143.5" cy="1956.4" r="4.2"/><circle cx="1014.7" cy="1792.9" r="4.2"/><circle cx="964.9" cy="1900.1" r="4.2"/><circle cx="1026.9" cy="1929.2" r="4.2"/><circle cx="847.8" cy="1996.0" r="4.2"/><circle cx="878.3" cy="1993.9" r="4.2"/><circle cx="890.7" cy="1658.7" r="4.2"/><circle cx="889.6" cy="1943.0" r="4.2"/><circle cx="1002.3" cy="1946.8" r="4.2"/><circle cx="1029.6" cy="1992.1" r="4.2"/><circle cx="886.1" cy="1978.4" r="4.2"/><circle cx="930.0" cy="1985.5" r="4.2"/><circle cx="1030.1" cy="1902.8" r="4.2"/><circle cx="906.9" cy="1997.5" r="4.2"/><circle cx="956.0" cy="1913.3" r="4.2"/><circle cx="1028.5" cy="1969.4" r="4.2"/><circle cx="929.6" cy="1837.2" r="4.2"/><circle cx="1121.2" cy="1876.8" r="4.2"/><circle cx="1128.7" cy="1968.0" r="4.2"/><circle cx="902.9" cy="1927.0" r="4.2"/><circle cx="777.1" cy="1947.7" r="4.2"/><circle cx="967.1" cy="1854.6" r="4.2"/><circle cx="1099.8" cy="1927.8" r="4.2"/><circle cx="874.2" cy="1979.9" r="4.2"/><circle cx="1021.7" cy="1875.3" r="4.2"/><circle cx="996.0" cy="1893.0" r="4.2"/><circle cx="929.3" cy="1953.6" r="4.2"/><circle cx="973.7" cy="1951.8" r="4.2"/><circle cx="887.5" cy="2004.0" r="4.2"/><circle cx="1113.8" cy="1829.3" r="4.2"/><circle cx="838.1" cy="1993.3" r="4.2"/><circle cx="1038.0" cy="1874.4" r="4.2"/><circle cx="1129.0" cy="1655.7" r="4.2"/><circle cx="994.7" cy="1933.4" r="4.2"/><circle cx="965.4" cy="1764.9" r="4.2"/><circle cx="983.4" cy="1984.9" r="4.2"/><circle cx="1029.6" cy="2002.5" r="4.2"/><circle cx="1033.3" cy="1990.8" r="4.2"/><circle cx="934.7" cy="1754.7" r="4.2"/><circle cx="1031.2" cy="1715.4" r="4.2"/><circle cx="1110.9" cy="1794.5" r="4.2"/><circle cx="820.5" cy="1882.5" r="4.2"/><circle cx="1150.1" cy="1927.0" r="4.2"/><circle cx="946.2" cy="1946.3" r="4.2"/><circle cx="1139.9" cy="1971.7" r="4.2"/><circle cx="963.6" cy="1929.9" r="4.2"/><circle cx="960.5" cy="1971.6" r="4.2"/><circle cx="1002.8" cy="1953.3" r="4.2"/><circle cx="835.6" cy="1931.0" r="4.2"/><circle cx="904.1" cy="1919.6" r="4.2"/><circle cx="983.4" cy="1938.6" r="4.2"/><circle cx="1053.7" cy="1909.7" r="4.2"/><circle cx="1130.0" cy="1653.2" r="4.2"/><circle cx="876.8" cy="1792.2" r="4.2"/><circle cx="835.5" cy="1812.2" r="4.2"/><circle cx="905.4" cy="1991.2" r="4.2"/><circle cx="911.3" cy="1905.8" r="4.2"/><circle cx="935.1" cy="1859.1" r="4.2"/><circle cx="969.7" cy="1908.9" r="4.2"/><circle cx="872.2" cy="1748.2" r="4.2"/><circle cx="982.3" cy="2002.4" r="4.2"/><circle cx="901.0" cy="1749.6" r="4.2"/><circle cx="1033.4" cy="1715.3" r="4.2"/><circle cx="959.6" cy="1926.1" r="4.2"/><circle cx="962.5" cy="1940.3" r="4.2"/><circle cx="1055.1" cy="1661.0" r="4.2"/><circle cx="1048.6" cy="1968.0" r="4.2"/><circle cx="909.1" cy="1915.9" r="4.2"/><circle cx="1004.8" cy="1911.5" r="4.2"/><circle cx="908.6" cy="1913.7" r="4.2"/><circle cx="944.6" cy="1968.8" r="4.2"/><circle cx="935.3" cy="1933.1" r="4.2"/><circle cx="964.7" cy="1913.4" r="4.2"/><circle cx="1008.8" cy="1866.6" r="4.2"/><circle cx="1013.6" cy="1852.0" r="4.2"/><circle cx="1013.9" cy="2006.4" r="4.2"/><circle cx="1014.8" cy="1753.1" r="4.2"/><circle cx="930.9" cy="1804.2" r="4.2"/><circle cx="1043.8" cy="1909.3" r="4.2"/><circle cx="884.5" cy="1702.0" r="4.2"/><circle cx="1065.8" cy="1845.9" r="4.2"/><circle cx="885.5" cy="2005.8" r="4.2"/><circle cx="900.8" cy="2004.0" r="4.2"/><circle cx="1075.8" cy="1742.9" r="4.2"/><circle cx="1046.9" cy="1968.5" r="4.2"/><circle cx="847.7" cy="1872.4" r="4.2"/><circle cx="1045.5" cy="1973.2" r="4.2"/><circle cx="995.1" cy="1825.3" r="4.2"/><circle cx="1053.2" cy="1991.6" r="4.2"/><circle cx="1087.5" cy="1964.7" r="4.2"/><circle cx="982.3" cy="1961.2" r="4.2"/><circle cx="949.1" cy="1878.3" r="4.2"/><circle cx="935.0" cy="1742.3" r="4.2"/><circle cx="828.7" cy="1921.9" r="4.2"/><circle cx="972.5" cy="1867.9" r="4.2"/><circle cx="1060.6" cy="1771.3" r="4.2"/><circle cx="926.4" cy="1949.7" r="4.2"/><circle cx="1008.2" cy="1882.6" r="4.2"/><circle cx="969.4" cy="2005.7" r="4.2"/><circle cx="1106.6" cy="1681.0" r="4.2"/><circle cx="1037.4" cy="1815.9" r="4.2"/><circle cx="924.2" cy="1902.9" r="4.2"/><circle cx="1039.7" cy="1930.1" r="4.2"/><circle cx="980.8" cy="1989.5" r="4.2"/><circle cx="1067.2" cy="1926.2" r="4.2"/><circle cx="925.5" cy="1833.7" r="4.2"/><circle cx="1090.4" cy="1800.8" r="4.2"/><circle cx="876.5" cy="1889.1" r="4.2"/><circle cx="1102.7" cy="1932.6" r="4.2"/><circle cx="987.3" cy="1703.5" r="4.2"/><circle cx="974.4" cy="1839.3" r="4.2"/><circle cx="1032.1" cy="1959.2" r="4.2"/><circle cx="1117.2" cy="1601.3" r="4.2"/><circle cx="889.6" cy="1622.5" r="4.2"/><circle cx="1074.1" cy="1598.2" r="4.2"/><circle cx="1048.4" cy="1608.3" r="4.2"/><circle cx="987.1" cy="1627.8" r="4.2"/><circle cx="1119.2" cy="1609.3" r="4.2"/><circle cx="1148.6" cy="1614.4" r="4.2"/><circle cx="1070.6" cy="1627.1" r="4.2"/><circle cx="967.8" cy="937.2" r="4.2"/><circle cx="965.8" cy="968.5" r="4.2"/><circle cx="983.2" cy="1019.2" r="4.2"/><circle cx="953.5" cy="1136.2" r="4.2"/><circle cx="943.8" cy="1145.5" r="4.2"/><circle cx="989.5" cy="1152.0" r="4.2"/><circle cx="999.5" cy="1123.8" r="4.2"/><circle cx="1164.8" cy="1142.5" r="4.2"/><circle cx="1122.0" cy="1170.5" r="4.2"/><circle cx="941.1" cy="1189.0" r="4.2"/><circle cx="969.8" cy="1198.4" r="4.2"/><circle cx="974.2" cy="1231.2" r="4.2"/><circle cx="906.0" cy="1275.2" r="4.2"/><circle cx="959.2" cy="1315.0" r="4.2"/><circle cx="989.5" cy="1322.5" r="4.2"/><circle cx="922.6" cy="1336.9" r="4.2"/><circle cx="933.9" cy="1345.6" r="4.2"/><circle cx="928.2" cy="1366.9" r="4.2"/><circle cx="982.6" cy="1366.9" r="4.2"/><circle cx="794.5" cy="1377.9" r="4.2"/><circle cx="959.5" cy="1383.1" r="4.2"/><circle cx="963.2" cy="1383.1" r="4.2"/><circle cx="968.2" cy="1404.4" r="4.2"/><circle cx="981.4" cy="1404.4" r="4.2"/><circle cx="993.2" cy="1401.9" r="4.2"/><circle cx="888.2" cy="1411.9" r="4.2"/><circle cx="910.1" cy="1419.8" r="4.2"/><circle cx="932.6" cy="1425.0" r="4.2"/><circle cx="936.4" cy="1421.9" r="4.2"/><circle cx="946.4" cy="1419.8" r="4.2"/><circle cx="963.2" cy="1419.8" r="4.2"/><circle cx="972.2" cy="1414.8" r="4.2"/><circle cx="993.2" cy="1425.0" r="4.2"/><circle cx="908.9" cy="1442.5" r="4.2"/><circle cx="952.0" cy="1432.5" r="4.2"/><circle cx="981.4" cy="1443.1" r="4.2"/><circle cx="909.5" cy="1450.0" r="4.2"/><circle cx="917.0" cy="1452.5" r="4.2"/><circle cx="908.2" cy="1458.1" r="4.2"/><circle cx="927.4" cy="1457.5" r="4.2"/><circle cx="947.6" cy="1455.6" r="4.2"/><circle cx="960.4" cy="1452.8" r="4.2"/><circle cx="981.4" cy="1460.6" r="4.2"/><circle cx="988.2" cy="1460.6" r="4.2"/><circle cx="961.4" cy="1470.0" r="4.2"/><circle cx="924.5" cy="1476.9" r="4.2"/><circle cx="970.8" cy="1475.0" r="4.2"/><circle cx="978.2" cy="1478.8" r="4.2"/><circle cx="1030.9" cy="1236.9" r="4.2"/><circle cx="1135.2" cy="1289.4" r="4.2"/><circle cx="1131.5" cy="1291.9" r="4.2"/><circle cx="1131.5" cy="1300.6" r="4.2"/><circle cx="1154.2" cy="1289.4" r="4.2"/><circle cx="1168.0" cy="1309.1" r="4.2"/><circle cx="1073.4" cy="1297.9" r="4.2"/><circle cx="1010.2" cy="1303.5" r="4.2"/><circle cx="1144.0" cy="1325.6" r="4.2"/><circle cx="1034.6" cy="1345.6" r="4.2"/><circle cx="1152.8" cy="1342.5" r="4.2"/><circle cx="1204.6" cy="1336.9" r="4.2"/><circle cx="1143.4" cy="1364.4" r="4.2"/><circle cx="1092.8" cy="1364.4" r="4.2"/><circle cx="1002.1" cy="1375.0" r="4.2"/><circle cx="1007.8" cy="1375.0" r="4.2"/><circle cx="1003.4" cy="1383.1" r="4.2"/><circle cx="1021.8" cy="1372.5" r="4.2"/><circle cx="1039.0" cy="1375.0" r="4.2"/><circle cx="996.5" cy="1401.5" r="4.2"/><circle cx="1063.4" cy="1414.8" r="4.2"/><circle cx="1122.1" cy="1419.8" r="4.2"/><circle cx="1011.5" cy="1416.9" r="4.2"/><circle cx="997.1" cy="1425.0" r="4.2"/><circle cx="1026.2" cy="1425.0" r="4.2"/><circle cx="1034.0" cy="1425.0" r="4.2"/><circle cx="1085.9" cy="1430.0" r="4.2"/><circle cx="1009.0" cy="1442.8" r="4.2"/><circle cx="1107.1" cy="1442.8" r="4.2"/><circle cx="1196.5" cy="1447.8" r="4.2"/><circle cx="1188.0" cy="1458.1" r="4.2"/><circle cx="997.1" cy="1468.8" r="4.2"/><circle cx="998.4" cy="1473.1" r="4.2"/><circle cx="1032.1" cy="1470.6" r="4.2"/><circle cx="1165.9" cy="1475.0" r="4.2"/><circle cx="1271.0" cy="1372.5" r="4.2"/><circle cx="1283.9" cy="1412.1" r="4.2"/><circle cx="1329.4" cy="1430.0" r="4.2"/><circle cx="1284.8" cy="1470.6" r="4.2"/><circle cx="1226.4" cy="1470.2" r="4.2"/><circle cx="653.2" cy="1567.1" r="4.2"/><circle cx="664.4" cy="1602.2" r="4.2"/><circle cx="821.6" cy="1548.8" r="4.2"/><circle cx="884.5" cy="1492.2" r="4.2"/><circle cx="879.8" cy="1501.9" r="4.2"/><circle cx="904.9" cy="1492.2" r="4.2"/><circle cx="919.5" cy="1505.6" r="4.2"/><circle cx="919.5" cy="1510.0" r="4.2"/><circle cx="885.8" cy="1536.9" r="4.2"/><circle cx="898.9" cy="1532.5" r="4.2"/><circle cx="900.8" cy="1537.5" r="4.2"/><circle cx="916.8" cy="1532.5" r="4.2"/><circle cx="916.4" cy="1537.5" r="4.2"/><circle cx="903.2" cy="1551.0" r="4.2"/><circle cx="908.9" cy="1557.8" r="4.2"/><circle cx="861.0" cy="1571.5" r="4.2"/><circle cx="885.5" cy="1569.0" r="4.2"/><circle cx="883.2" cy="1580.0" r="4.2"/><circle cx="869.5" cy="1586.9" r="4.2"/><circle cx="897.6" cy="1587.5" r="4.2"/><circle cx="899.5" cy="1590.0" r="4.2"/><circle cx="914.5" cy="1573.8" r="4.2"/><circle cx="933.9" cy="1580.0" r="4.2"/><circle cx="930.8" cy="1587.5" r="4.2"/><circle cx="927.6" cy="1591.2" r="4.2"/><circle cx="933.2" cy="1590.0" r="4.2"/><circle cx="888.2" cy="1604.4" r="4.2"/><circle cx="893.2" cy="1606.2" r="4.2"/><circle cx="898.9" cy="1608.8" r="4.2"/><circle cx="897.0" cy="1615.0" r="4.2"/><circle cx="918.0" cy="1597.5" r="4.2"/><circle cx="920.8" cy="1601.9" r="4.2"/><circle cx="918.2" cy="1606.2" r="4.2"/><circle cx="924.5" cy="1619.4" r="4.2"/><circle cx="913.2" cy="1626.9" r="4.2"/><circle cx="889.5" cy="1629.4" r="4.2"/><circle cx="924.5" cy="1480.0" r="4.2"/><circle cx="943.2" cy="1485.0" r="4.2"/><circle cx="948.2" cy="1494.8" r="4.2"/><circle cx="958.2" cy="1482.5" r="4.2"/><circle cx="963.2" cy="1487.5" r="4.2"/><circle cx="958.2" cy="1496.9" r="4.2"/><circle cx="964.5" cy="1509.0" r="4.2"/><circle cx="979.5" cy="1481.2" r="4.2"/><circle cx="981.4" cy="1518.8" r="4.2"/><circle cx="993.2" cy="1511.2" r="4.2"/><circle cx="945.8" cy="1530.4" r="4.2"/><circle cx="965.1" cy="1532.5" r="4.2"/><circle cx="985.8" cy="1527.5" r="4.2"/><circle cx="987.0" cy="1532.5" r="4.2"/><circle cx="989.5" cy="1535.0" r="4.2"/><circle cx="942.0" cy="1540.0" r="4.2"/><circle cx="945.8" cy="1542.5" r="4.2"/><circle cx="939.5" cy="1550.0" r="4.2"/><circle cx="950.8" cy="1560.0" r="4.2"/><circle cx="962.0" cy="1557.8" r="4.2"/><circle cx="940.5" cy="1566.9" r="4.2"/><circle cx="955.8" cy="1568.8" r="4.2"/><circle cx="957.0" cy="1571.9" r="4.2"/><circle cx="978.2" cy="1565.0" r="4.2"/><circle cx="975.8" cy="1569.4" r="4.2"/><circle cx="988.2" cy="1558.1" r="4.2"/><circle cx="982.0" cy="1580.0" r="4.2"/><circle cx="949.5" cy="1588.8" r="4.2"/><circle cx="967.0" cy="1586.9" r="4.2"/><circle cx="959.5" cy="1596.0" r="4.2"/><circle cx="933.9" cy="1606.9" r="4.2"/><circle cx="945.8" cy="1608.8" r="4.2"/><circle cx="953.9" cy="1606.2" r="4.2"/><circle cx="972.6" cy="1606.2" r="4.2"/><circle cx="989.5" cy="1608.8" r="4.2"/><circle cx="972.6" cy="1621.2" r="4.2"/><circle cx="989.5" cy="1617.5" r="4.2"/><circle cx="932.0" cy="1626.9" r="4.2"/><circle cx="950.8" cy="1626.9" r="4.2"/><circle cx="957.0" cy="1627.5" r="4.2"/><circle cx="975.8" cy="1629.4" r="4.2"/><circle cx="1090.9" cy="1490.0" r="4.2"/><circle cx="1137.8" cy="1482.5" r="4.2"/><circle cx="1060.9" cy="1499.4" r="4.2"/><circle cx="1075.2" cy="1506.5" r="4.2"/><circle cx="1092.8" cy="1509.0" r="4.2"/><circle cx="1149.6" cy="1497.2" r="4.2"/><circle cx="997.8" cy="1504.4" r="4.2"/><circle cx="996.5" cy="1511.2" r="4.2"/><circle cx="1022.5" cy="1516.2" r="4.2"/><circle cx="1002.8" cy="1518.5" r="4.2"/><circle cx="1018.4" cy="1528.1" r="4.2"/><circle cx="1024.0" cy="1530.6" r="4.2"/><circle cx="1000.2" cy="1535.0" r="4.2"/><circle cx="1044.6" cy="1537.2" r="4.2"/><circle cx="1065.0" cy="1535.0" r="4.2"/><circle cx="1152.8" cy="1518.8" r="4.2"/><circle cx="1158.4" cy="1521.2" r="4.2"/><circle cx="1144.6" cy="1535.0" r="4.2"/><circle cx="1142.8" cy="1535.0" r="4.2"/><circle cx="1003.4" cy="1544.4" r="4.2"/><circle cx="1172.8" cy="1544.0" r="4.2"/><circle cx="1114.6" cy="1548.8" r="4.2"/><circle cx="1075.9" cy="1557.8" r="4.2"/><circle cx="1100.2" cy="1557.8" r="4.2"/><circle cx="1123.4" cy="1560.6" r="4.2"/><circle cx="1019.0" cy="1562.5" r="4.2"/><circle cx="999.6" cy="1565.0" r="4.2"/><circle cx="1007.8" cy="1569.0" r="4.2"/><circle cx="1032.1" cy="1571.9" r="4.2"/><circle cx="1069.6" cy="1567.2" r="4.2"/><circle cx="1019.0" cy="1582.5" r="4.2"/><circle cx="1023.4" cy="1583.8" r="4.2"/><circle cx="998.4" cy="1585.0" r="4.2"/><circle cx="1004.0" cy="1586.9" r="4.2"/><circle cx="1035.2" cy="1586.9" r="4.2"/><circle cx="1083.4" cy="1589.0" r="4.2"/><circle cx="1129.6" cy="1591.9" r="4.2"/><circle cx="1168.4" cy="1591.2" r="4.2"/><circle cx="1009.6" cy="1595.6" r="4.2"/><circle cx="1040.9" cy="1600.0" r="4.2"/><circle cx="1068.0" cy="1600.0" r="4.2"/><circle cx="1145.2" cy="1600.0" r="4.2"/><circle cx="1156.5" cy="1604.4" r="4.2"/><circle cx="996.5" cy="1603.8" r="4.2"/><circle cx="1001.5" cy="1610.0" r="4.2"/><circle cx="1009.0" cy="1608.8" r="4.2"/><circle cx="1015.2" cy="1610.0" r="4.2"/><circle cx="1019.0" cy="1614.4" r="4.2"/><circle cx="1095.0" cy="1608.8" r="4.2"/><circle cx="1080.0" cy="1619.4" r="4.2"/><circle cx="1145.2" cy="1615.0" r="4.2"/><circle cx="1144.6" cy="1620.0" r="4.2"/><circle cx="1157.8" cy="1619.4" r="4.2"/><circle cx="1129.6" cy="1621.2" r="4.2"/><circle cx="1104.6" cy="1623.8" r="4.2"/><circle cx="1119.6" cy="1625.0" r="4.2"/><circle cx="1210.2" cy="1610.6" r="4.2"/><circle cx="1218.1" cy="1504.4" r="4.2"/><circle cx="1241.2" cy="1527.9" r="4.2"/><circle cx="1219.5" cy="1532.5" r="4.2"/><circle cx="1252.6" cy="1582.2" r="4.2"/><circle cx="1261.6" cy="1586.9" r="4.2"/><circle cx="1266.0" cy="1586.9" r="4.2"/><circle cx="1252.9" cy="1615.0" r="4.2"/><circle cx="1263.8" cy="1615.0" r="4.2"/><circle cx="769.0" cy="1743.8" r="4.2"/><circle cx="676.9" cy="1762.8" r="4.2"/><circle cx="689.8" cy="1773.1" r="4.2"/><circle cx="759.0" cy="1763.1" r="4.2"/><circle cx="693.5" cy="1797.9" r="4.2"/><circle cx="751.9" cy="1820.6" r="4.2"/><circle cx="668.1" cy="1846.9" r="4.2"/><circle cx="680.2" cy="1843.8" r="4.2"/><circle cx="762.2" cy="1876.2" r="4.2"/><circle cx="743.8" cy="1881.6" r="4.2"/><circle cx="770.6" cy="1894.4" r="4.2"/><circle cx="769.0" cy="1900.0" r="4.2"/><circle cx="670.6" cy="1902.2" r="4.2"/><circle cx="671.2" cy="1910.0" r="4.2"/><circle cx="684.1" cy="1903.5" r="4.2"/><circle cx="745.9" cy="1919.4" r="4.2"/><circle cx="758.8" cy="1922.5" r="4.2"/><circle cx="762.5" cy="1926.9" r="4.2"/><circle cx="768.8" cy="1917.5" r="4.2"/><circle cx="710.0" cy="1928.8" r="4.2"/><circle cx="720.0" cy="1925.6" r="4.2"/><circle cx="710.0" cy="1930.0" r="4.2"/><circle cx="709.4" cy="1944.4" r="4.2"/><circle cx="724.8" cy="1947.5" r="4.2"/><circle cx="691.9" cy="1955.0" r="4.2"/><circle cx="711.9" cy="1969.4" r="4.2"/><circle cx="693.8" cy="1975.0" r="4.2"/><circle cx="720.0" cy="1997.5" r="4.2"/><circle cx="749.4" cy="1953.8" r="4.2"/><circle cx="761.2" cy="1963.1" r="4.2"/><circle cx="771.0" cy="1957.2" r="4.2"/><circle cx="747.5" cy="1970.0" r="4.2"/><circle cx="745.0" cy="1976.2" r="4.2"/><circle cx="742.8" cy="1982.8" r="4.2"/><circle cx="768.1" cy="1982.5" r="4.2"/><circle cx="763.1" cy="1994.8" r="4.2"/><circle cx="766.9" cy="2002.5" r="4.2"/><circle cx="844.0" cy="1658.5" r="4.2"/><circle cx="819.0" cy="1666.5" r="4.2"/><circle cx="809.0" cy="1680.0" r="4.2"/><circle cx="804.0" cy="1690.0" r="4.2"/><circle cx="810.2" cy="1691.9" r="4.2"/><circle cx="848.4" cy="1690.0" r="4.2"/><circle cx="841.2" cy="1699.8" r="4.2"/><circle cx="861.5" cy="1710.6" r="4.2"/><circle cx="800.9" cy="1718.1" r="4.2"/><circle cx="779.6" cy="1725.6" r="4.2"/><circle cx="792.1" cy="1747.5" r="4.2"/><circle cx="780.0" cy="1751.0" r="4.2"/><circle cx="789.0" cy="1757.5" r="4.2"/><circle cx="791.5" cy="1761.2" r="4.2"/><circle cx="812.1" cy="1741.2" r="4.2"/><circle cx="810.2" cy="1745.0" r="4.2"/><circle cx="826.5" cy="1738.1" r="4.2"/><circle cx="827.1" cy="1745.6" r="4.2"/><circle cx="840.9" cy="1747.5" r="4.2"/><circle cx="854.6" cy="1754.4" r="4.2"/><circle cx="809.0" cy="1778.1" r="4.2"/><circle cx="792.8" cy="1779.4" r="4.2"/><circle cx="1157.1" cy="1639.4" r="4.2"/><circle cx="1154.0" cy="1641.9" r="4.2"/><circle cx="1152.1" cy="1660.6" r="4.2"/><circle cx="1198.4" cy="1678.5" r="4.2"/><circle cx="1209.0" cy="1680.0" r="4.2"/><circle cx="1180.6" cy="1688.1" r="4.2"/><circle cx="1320.2" cy="1636.2" r="4.2"/><circle cx="1254.8" cy="1656.2" r="4.2"/><circle cx="1273.0" cy="1664.5" r="4.2"/><circle cx="1282.2" cy="1709.2" r="4.2"/><circle cx="1247.2" cy="1723.8" r="4.2"/><circle cx="1219.2" cy="1731.2" r="4.2"/><circle cx="1227.5" cy="1810.5" r="4.2"/><circle cx="1224.0" cy="1818.2" r="4.2"/><circle cx="1251.0" cy="1842.5" r="4.2"/><circle cx="1208.0" cy="1710.8" r="4.2"/><circle cx="1196.8" cy="1727.5" r="4.2"/><circle cx="1185.0" cy="1725.5" r="4.2"/><circle cx="1178.8" cy="1718.0" r="4.2"/><circle cx="1180.5" cy="1710.5" r="4.2"/><circle cx="1158.2" cy="1714.5" r="4.2"/><circle cx="1154.5" cy="1731.2" r="4.2"/><circle cx="1169.0" cy="1759.5" r="4.2"/><circle cx="1155.0" cy="1780.0" r="4.2"/><circle cx="1186.5" cy="1799.5" r="4.2"/><circle cx="1167.0" cy="1810.5" r="4.2"/><circle cx="1158.2" cy="1813.8" r="4.2"/><circle cx="1190.2" cy="1818.2" r="4.2"/><circle cx="1154.0" cy="1824.2" r="4.2"/><circle cx="1174.5" cy="1829.0" r="4.2"/><circle cx="1202.5" cy="1841.2" r="4.2"/><circle cx="1170.9" cy="1701.2" r="4.2"/><circle cx="1190.0" cy="1851.9" r="4.2"/><circle cx="1247.5" cy="1859.4" r="4.2"/><circle cx="1250.6" cy="1866.9" r="4.2"/><circle cx="1180.4" cy="1872.2" r="4.2"/><circle cx="1200.0" cy="1877.5" r="4.2"/><circle cx="1178.1" cy="1894.4" r="4.2"/><circle cx="1182.5" cy="1894.4" r="4.2"/><circle cx="1198.1" cy="1899.6" r="4.2"/><circle cx="1202.8" cy="1908.5" r="4.2"/><circle cx="1195.0" cy="1920.4" r="4.2"/><circle cx="1255.0" cy="1919.1" r="4.2"/><circle cx="1160.6" cy="1927.8" r="4.2"/><circle cx="1188.1" cy="1939.8" r="4.2"/><circle cx="1195.6" cy="1941.2" r="4.2"/><circle cx="1210.2" cy="1939.8" r="4.2"/><circle cx="1184.1" cy="1948.8" r="4.2"/><circle cx="1158.5" cy="1948.8" r="4.2"/><circle cx="1173.8" cy="1959.1" r="4.2"/><circle cx="1200.2" cy="1965.0" r="4.2"/><circle cx="1156.2" cy="1982.5" r="4.2"/><circle cx="1163.8" cy="1985.0" r="4.2"/><circle cx="1195.2" cy="1989.8" r="4.2"/><circle cx="1171.2" cy="1996.5" r="4.2"/><circle cx="1180.6" cy="2000.0" r="4.2"/><circle cx="1152.2" cy="1996.5" r="4.2"/><circle cx="1151.2" cy="1903.8" r="4.2"/><circle cx="1151.9" cy="1913.1" r="4.2"/>
</g>
<g fill="#3b4f9a" stroke="#2a3a78" stroke-width="0.85">
<circle cx="626.8" cy="1155.0" r="4.2"/><circle cx="734.5" cy="1166.8" r="4.2"/><circle cx="674.8" cy="1382.5" r="4.2"/>
</g>
<g fill="#e8000b" stroke="#a00000" stroke-width="0.85">
<circle cx="1279.5" cy="1146.8" r="4.2"/><circle cx="1285.0" cy="1163.0" r="4.2"/><circle cx="1400.2" cy="1134.2" r="4.2"/><circle cx="1227.2" cy="1214.4" r="4.2"/><circle cx="1248.8" cy="1225.9" r="4.2"/><circle cx="1263.5" cy="1237.5" r="4.2"/><circle cx="1242.6" cy="1252.8" r="4.2"/><circle cx="1259.1" cy="1252.8" r="4.2"/><circle cx="1275.6" cy="1284.8" r="4.2"/><circle cx="1257.9" cy="1312.1" r="4.2"/><circle cx="1259.8" cy="1328.8" r="4.2"/><circle cx="1276.9" cy="1183.4" r="4.2"/><circle cx="1220.0" cy="1198.8" r="4.2"/>
</g>
</g>
<g fill="none" stroke="#000" stroke-width="4.5" stroke-dasharray="15.8,6.7" stroke-dashoffset="19.5">
<polyline points="827.5,748.0 826.7,755.0 825.8,761.9 825.0,768.8 824.2,775.7 823.3,782.5 822.4,789.3 821.6,796.0 820.7,802.7 819.8,809.4 819.0,816.0 818.1,822.6 817.2,829.2 816.3,835.7 815.4,842.2 814.5,848.7 813.6,855.1 812.7,861.5 811.8,867.8 810.9,874.1 809.9,880.4 809.0,886.6 808.1,892.8 807.1,899.0 806.2,905.1 805.2,911.2 804.3,917.3 803.3,923.4 802.3,929.4 801.4,935.3 800.4,941.3 799.4,947.2 798.4,953.0 797.4,958.9 796.4,964.7 795.4,970.5 794.4,976.2 793.4,981.9 792.4,987.6 791.3,993.2 790.3,998.9 789.3,1004.4 788.2,1010.0 787.2,1015.5 786.1,1021.0 785.0,1026.5 784.0,1031.9 782.9,1037.3 781.8,1042.7 780.7,1048.0 779.6,1053.3 778.5,1058.6 777.4,1063.9 776.3,1069.1 775.2,1074.3 774.1,1079.5 772.9,1084.6 771.8,1089.7 770.7,1094.8 769.5,1099.8 768.3,1104.9 767.2,1109.9 766.0,1114.8 764.8,1119.8 763.7,1124.7 762.5,1129.6 761.3,1134.4 760.1,1139.3 758.9,1144.1 757.6,1148.9 756.4,1153.6 755.2,1158.3 754.0,1163.0 752.7,1167.7 751.5,1172.4 750.2,1177.0 748.9,1181.6 747.7,1186.2 746.4,1190.7 745.1,1195.2 743.8,1199.7 742.5,1204.2 741.2,1208.6 739.9,1213.1 738.6,1217.5 737.2,1221.8 735.9,1226.2 734.6,1230.5 733.2,1234.8 731.9,1239.1 730.5,1243.3 729.1,1247.6 727.7,1251.8 726.3,1256.0 725.0,1260.1 723.5,1264.3 722.1,1268.4 720.7,1272.5 719.3,1276.5 717.8,1280.6 716.4,1284.6 715.0,1288.6 713.5,1292.6 712.0,1296.6 710.5,1300.5 709.1,1304.4 707.6,1308.3 706.1,1312.2 704.6,1316.0 703.0,1319.8 701.5,1323.6 700.0,1327.4 698.4,1331.2 696.9,1334.9 695.3,1338.7 693.8,1342.4 692.2,1346.0 690.6,1349.7 689.0,1353.4 687.4,1357.0 685.8,1360.6 684.1,1364.2 682.5,1367.7 680.9,1371.3 679.2,1374.8 677.6,1378.3 675.9,1381.8 674.2,1385.2 672.5,1388.7 670.8,1392.1 669.1,1395.5 667.4,1398.9 665.7,1402.3 664.0,1405.6 662.2,1408.9 660.5,1412.3 658.7,1415.5 656.9,1418.8 655.1,1422.1 653.3,1425.3 651.5,1428.5 649.7,1431.8 647.9,1434.9 646.1,1438.1 644.2,1441.3 642.4,1444.4 640.5,1447.5 638.6,1450.6 636.7,1453.7 634.8,1456.8 632.9,1459.8 631.0,1462.8 629.1,1465.8 627.2,1468.8 625.2,1471.8 623.2,1474.8 621.3,1477.7 619.3,1480.7 617.3,1483.6 615.3,1486.5 613.3,1489.4 611.3,1492.2 609.2,1495.1 607.2,1497.9 605.1,1500.7 603.0,1503.6 600.9,1506.3 598.9,1509.1 596.7,1511.9 594.6,1514.6 592.5,1517.3 590.4,1520.1 588.2,1522.8 586.0,1525.4 583.9,1528.1 581.7,1530.8 579.5,1533.4 577.2,1536.0 575.0,1538.6 572.8,1541.2 570.5,1543.8 568.3,1546.4 566.0,1548.9 563.7,1551.5 561.4,1554.0 559.1,1556.5 556.7,1559.0 554.4,1561.5 552.1,1563.9 549.7,1566.4 547.3,1568.8 544.9,1571.3 542.5,1573.7 540.1,1576.1 537.6,1578.5 535.2,1580.8 532.7,1583.2 530.3,1585.5 527.8,1587.9 525.3,1590.2 522.8,1592.5 520.2,1594.8 517.7,1597.1 515.1,1599.4 512.5,1601.6 510.0,1603.9 507.4,1606.1 504.7,1608.3 502.1,1610.5 499.5,1612.7 496.8,1614.9 494.1,1617.1 491.4,1619.2 488.7,1621.4 486.0,1623.5 483.3,1625.6 480.5,1627.8 477.8,1629.9 475.0,1631.9 472.2,1634.0 469.4,1636.1 466.5,1638.1 463.7,1640.2 460.8,1642.2 458.0,1644.2 455.1,1646.3 452.2,1648.3 449.2,1650.2 446.3,1652.2 443.3,1654.2 440.4,1656.1 437.4,1658.1 434.4,1660.0 431.3,1661.9 428.3,1663.8 425.2,1665.7 422.2,1667.6 419.1,1669.5 416.0,1671.4 412.8,1673.2 409.7,1675.1 406.5,1676.9 403.4,1678.8 400.2,1680.6 397.0,1682.4 393.7,1684.2 390.5,1686.0 387.2,1687.8 383.9,1689.5 380.6,1691.3 377.3,1693.0 373.9,1694.8 370.6,1696.5 367.2,1698.2 363.8,1699.9 360.4,1701.6 357.0,1703.3 353.5,1705.0 350.0,1706.7 346.5,1708.3 343.0,1710.0 339.5,1711.6 335.9,1713.3 332.4,1714.9 328.8,1716.5 325.2,1718.1 321.5,1719.7 317.9,1721.3 314.2,1722.9 310.5,1724.5 306.8,1726.0 303.1,1727.6 299.3,1729.1 295.5,1730.7 291.7,1732.2 287.9,1733.7 284.1,1735.3 280.2,1736.8 276.3,1738.3 272.4,1739.7 268.5,1741.2 264.6,1742.7 260.6,1744.2 256.6,1745.6 252.6,1747.1 248.6,1748.5 244.5,1749.9 240.4,1751.4 236.3,1752.8 232.2,1754.2 228.0,1755.6 223.9,1757.0 219.7,1758.4 215.5,1759.7 211.2,1761.1 206.9,1762.5 202.7,1763.8 198.3,1765.2 194.0,1766.5 189.6,1767.8 185.3,1769.2"/>
<polyline points="1126.7,748.0 1127.5,755.0 1128.4,761.9 1129.2,768.8 1130.0,775.7 1130.9,782.5 1131.8,789.3 1132.6,796.0 1133.5,802.7 1134.4,809.4 1135.2,816.0 1136.1,822.6 1137.0,829.2 1137.9,835.7 1138.8,842.2 1139.7,848.7 1140.6,855.1 1141.5,861.5 1142.4,867.8 1143.3,874.1 1144.3,880.4 1145.2,886.7 1146.1,892.9 1147.1,899.0 1148.0,905.2 1149.0,911.3 1149.9,917.4 1150.9,923.4 1151.9,929.4 1152.8,935.4 1153.8,941.3 1154.8,947.2 1155.8,953.1 1156.8,958.9 1157.8,964.7 1158.8,970.5 1159.8,976.2 1160.8,982.0 1161.8,987.6 1162.9,993.3 1163.9,998.9 1165.0,1004.5 1166.0,1010.0 1167.1,1015.6 1168.1,1021.1 1169.2,1026.5 1170.2,1032.0 1171.3,1037.4 1172.4,1042.7 1173.5,1048.1 1174.6,1053.4 1175.7,1058.7 1176.8,1063.9 1177.9,1069.2 1179.0,1074.4 1180.1,1079.5 1181.3,1084.7 1182.4,1089.8 1183.6,1094.9 1184.7,1099.9 1185.9,1104.9 1187.0,1109.9 1188.2,1114.9 1189.4,1119.8 1190.6,1124.8 1191.7,1129.6 1192.9,1134.5 1194.1,1139.3 1195.4,1144.2 1196.6,1148.9 1197.8,1153.7 1199.0,1158.4 1200.3,1163.1 1201.5,1167.8 1202.8,1172.4 1204.0,1177.1 1205.3,1181.7 1206.5,1186.2 1207.8,1190.8 1209.1,1195.3 1210.4,1199.8 1211.7,1204.3 1213.0,1208.7 1214.3,1213.1 1215.6,1217.5 1217.0,1221.9 1218.3,1226.3 1219.7,1230.6 1221.0,1234.9 1222.4,1239.2 1223.7,1243.4 1225.1,1247.7 1226.5,1251.9 1227.9,1256.1 1229.3,1260.2 1230.7,1264.4 1232.1,1268.5 1233.5,1272.6 1234.9,1276.6 1236.4,1280.7 1237.8,1284.7 1239.3,1288.7 1240.7,1292.7 1242.2,1296.6 1243.7,1300.6 1245.2,1304.5 1246.7,1308.4 1248.2,1312.3 1249.7,1316.1 1251.2,1319.9 1252.7,1323.7 1254.3,1327.5 1255.8,1331.3 1257.4,1335.0 1258.9,1338.8 1260.5,1342.5 1262.1,1346.1 1263.7,1349.8 1265.3,1353.4 1266.9,1357.1 1268.5,1360.7 1270.1,1364.3 1271.7,1367.8 1273.4,1371.4 1275.0,1374.9 1276.7,1378.4 1278.4,1381.9 1280.0,1385.3 1281.7,1388.8 1283.4,1392.2 1285.1,1395.6 1286.8,1399.0 1288.6,1402.4 1290.3,1405.7 1292.0,1409.0 1293.8,1412.4 1295.6,1415.7 1297.3,1418.9 1299.1,1422.2 1300.9,1425.4 1302.7,1428.6 1304.5,1431.9 1306.4,1435.0 1308.2,1438.2 1310.0,1441.4 1311.9,1444.5 1313.8,1447.6 1315.6,1450.7 1317.5,1453.8 1319.4,1456.9 1321.3,1459.9 1323.2,1462.9 1325.2,1466.0 1327.1,1469.0 1329.1,1471.9 1331.0,1474.9 1333.0,1477.8 1335.0,1480.8 1337.0,1483.7 1339.0,1486.6 1341.0,1489.5 1343.0,1492.3 1345.1,1495.2 1347.1,1498.0 1349.2,1500.9 1351.2,1503.7 1353.3,1506.4 1355.4,1509.2 1357.5,1512.0 1359.7,1514.7 1361.8,1517.4 1363.9,1520.2 1366.1,1522.9 1368.3,1525.5 1370.4,1528.2 1372.6,1530.9 1374.8,1533.5 1377.0,1536.1 1379.3,1538.7 1381.5,1541.3 1383.8,1543.9 1386.0,1546.5 1388.3,1549.0 1390.6,1551.6 1392.9,1554.1 1395.2,1556.6 1397.5,1559.1 1399.9,1561.6 1402.2,1564.0 1404.6,1566.5 1407.0,1568.9 1409.4,1571.4 1411.8,1573.8 1414.2,1576.2 1416.7,1578.6 1419.1,1580.9 1421.6,1583.3 1424.0,1585.6 1426.5,1588.0 1429.0,1590.3 1431.6,1592.6 1434.1,1594.9 1436.6,1597.2 1439.2,1599.5 1441.8,1601.7 1444.4,1604.0 1447.0,1606.2 1449.6,1608.4 1452.2,1610.6 1454.9,1612.8 1457.5,1615.0 1460.2,1617.2 1462.9,1619.3 1465.6,1621.5 1468.3,1623.6 1471.1,1625.8 1473.8,1627.9 1476.6,1630.0 1479.4,1632.1 1482.2,1634.1 1485.0,1636.2 1487.8,1638.3 1490.7,1640.3 1493.5,1642.3 1496.4,1644.3 1499.3,1646.4 1502.2,1648.4 1505.1,1650.3 1508.1,1652.3 1511.0,1654.3 1514.0,1656.2 1517.0,1658.2 1520.0,1660.1 1523.0,1662.0 1526.1,1663.9 1529.1,1665.8 1532.2,1667.7 1535.3,1669.6 1538.4,1671.5 1541.5,1673.3 1544.7,1675.2 1547.8,1677.0 1551.0,1678.9 1554.2,1680.7 1557.4,1682.5 1560.7,1684.3 1563.9,1686.1 1567.2,1687.9 1570.5,1689.6 1573.8,1691.4 1577.1,1693.1 1580.4,1694.9 1583.8,1696.6 1587.2,1698.3 1590.6,1700.0 1594.0,1701.7 1597.4,1703.4 1600.9,1705.1 1604.4,1706.8 1607.9,1708.4 1611.4,1710.1 1614.9,1711.7 1618.5,1713.4 1622.0,1715.0 1625.6,1716.6 1629.3,1718.2 1632.9,1719.8 1636.5,1721.4 1640.2,1723.0 1643.9,1724.6 1647.6,1726.1 1651.4,1727.7 1655.1,1729.2 1658.9,1730.8 1662.7,1732.3 1666.5,1733.8 1670.4,1735.3 1674.2,1736.9 1678.1,1738.4 1682.0,1739.8 1685.9,1741.3 1689.9,1742.8 1693.9,1744.3 1697.9,1745.7 1701.9,1747.2 1705.9,1748.6 1710.0,1750.0 1714.0,1751.5 1718.2,1752.9 1722.3,1754.3 1726.4,1755.7 1730.6,1757.1 1734.8,1758.5 1739.0,1759.8 1743.3,1761.2 1747.5,1762.6 1751.8,1763.9 1756.2,1765.3 1760.5,1766.6 1764.9,1767.9 1769.2,1769.3"/>
</g>
<rect x="185.25" y="748.0" width="1584.0" height="1259.0" fill="none" stroke="#000" stroke-width="2.5"/>
<g stroke="#000" stroke-width="2.5">
<path d="M175.5,2007.00 H185.25"/>
<path d="M175.5,1817.88 H185.25"/>
<path d="M175.5,1628.75 H185.25"/>
<path d="M175.5,1439.62 H185.25"/>
<path d="M175.5,1250.50 H185.25"/>
<path d="M175.5,1061.38 H185.25"/>
<path d="M175.5,872.25 H185.25"/>
<path d="M239.50,2007.0 V2017"/>
<path d="M423.90,2007.0 V2017"/>
<path d="M608.30,2007.0 V2017"/>
<path d="M792.70,2007.0 V2017"/>
<path d="M977.10,2007.0 V2017"/>
<path d="M1161.50,2007.0 V2017"/>
<path d="M1345.90,2007.0 V2017"/>
<path d="M1530.30,2007.0 V2017"/>
<path d="M1714.70,2007.0 V2017"/>
</g>
<text class="big" x="174.30" y="2018.50" font-size="59" text-anchor="end" >0</text>
<text class="big" x="174.30" y="1640.25" font-size="59" text-anchor="end" >1</text>
<text class="big" x="174.30" y="1262.00" font-size="59" text-anchor="end" >2</text>
<text class="big" x="174.30" y="883.75" font-size="59" text-anchor="end" >3</text>
<text class="big" x="238.00" y="2073.00" font-size="59" text-anchor="middle" >-4</text>
<text class="big" x="422.40" y="2073.00" font-size="59" text-anchor="middle" >-3</text>
<text class="big" x="606.80" y="2073.00" font-size="59" text-anchor="middle" >-2</text>
<text class="big" x="791.20" y="2073.00" font-size="59" text-anchor="middle" >-1</text>
<text class="big" x="977.10" y="2073.00" font-size="59" text-anchor="middle" >0</text>
<text class="big" x="1161.50" y="2073.00" font-size="59" text-anchor="middle" >1</text>
<text class="big" x="1345.90" y="2073.00" font-size="59" text-anchor="middle" >2</text>
<text class="big" x="1530.30" y="2073.00" font-size="59" text-anchor="middle" >3</text>
<text class="big" x="1714.70" y="2073.00" font-size="59" text-anchor="middle" >4</text>
<text class="big" x="980.50" y="2136.00" font-size="59" text-anchor="middle" >Phenotype</text>
<text class="big" transform="translate(89.5,1483.5) rotate(-90)" font-size="59">-log<tspan font-size="36" dy="19.5">10</tspan><tspan dy="-19.5"> P</tspan></text>
<rect x="1217.5" y="755" width="542.5" height="276.5" rx="7" fill="#fff" fill-opacity="0.8" stroke="#cccccc" stroke-width="2"/>
<path d="M1229.7,798.6 H1298.8" stroke="#000" stroke-width="4.5" stroke-dasharray="15.8,6.7"/>
<circle cx="1264.5" cy="851" r="4.3" fill="#e8000b" stroke="#a00000" stroke-width="0.8"/>
<circle cx="1264.5" cy="901.2" r="4.3" fill="#3b4f9a" stroke="#2a3a78" stroke-width="0.8"/>
<circle cx="1264.5" cy="951" r="4.3" fill="#f4a582" stroke="#d98a6a" stroke-width="0.8"/>
<circle cx="1264.5" cy="1001.2" r="4.3" fill="#808080" stroke="#666" stroke-width="0.8"/>
<text class="big" x="1327.00" y="807.50" font-size="59" text-anchor="start" >FDR = 0.1</text>
<text class="big" x="1327.00" y="857.20" font-size="59" text-anchor="start" >Positive hits</text>
<text class="big" x="1327.00" y="907.70" font-size="59" text-anchor="start" >Negative hits</text>
<text class="big" x="1327.00" y="957.60" font-size="59" text-anchor="start" >Other genes</text>
<text class="big" x="1327.00" y="1007.00" font-size="59" text-anchor="start" >Negative control</text>
</svg>
</body></html>
